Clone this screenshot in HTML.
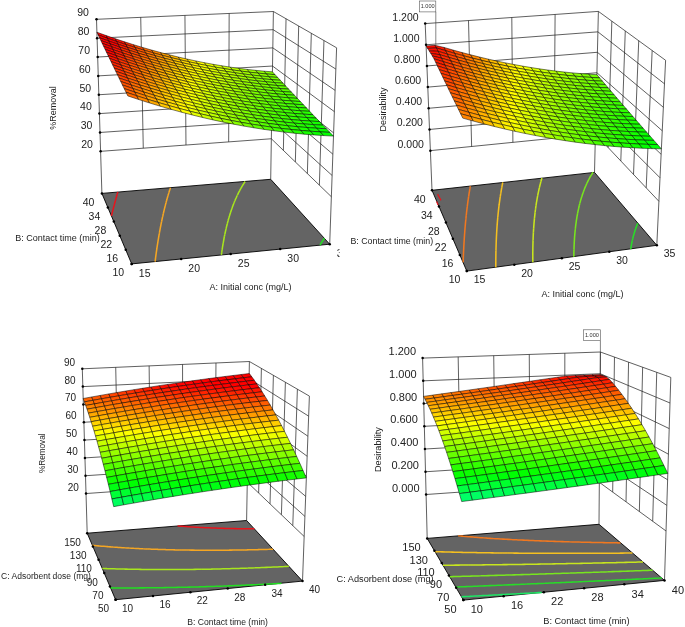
<!DOCTYPE html>
<html><head><meta charset="utf-8"><title>Response surface plots</title>
<style>html,body{margin:0;padding:0;background:#fff}svg{display:block;will-change:transform;-webkit-font-smoothing:antialiased}text{font-family:"Liberation Sans", sans-serif}</style></head>
<body><svg width="685" height="627" viewBox="0 0 685 627">
<rect width="685" height="627" fill="#fff"/>
<clipPath id="cp1"><rect x="0" y="0" width="339.5" height="314"/></clipPath><g clip-path="url(#cp1)"><path d="M100.6 151.33L271.35 138.75M271.35 138.75L331.37 196.74M100.01 132.47L271.64 120.57M271.64 120.57L332.11 175.46M99.43 113.6L271.94 102.39M271.94 102.39L332.86 154.18M98.84 94.74L272.23 84.21M272.23 84.21L333.61 132.91M98.26 75.88L272.52 66.04M272.52 66.04L334.36 111.63M97.67 57.02L272.81 47.86M272.81 47.86L335.1 90.35M97.09 38.16L273.11 29.68M273.11 29.68L335.85 69.08M96.5 19.3L273.4 11.5M273.4 11.5L336.6 47.8M101.9 193.4L96.5 19.3M143.28 148.18L140.72 17.35M185.97 145.04L184.95 15.4M228.66 141.89L229.17 13.45M270.7 179.3L273.4 11.5M329.7 244.2L336.6 47.8M319.36 185.14L323.96 40.54M307.36 173.54L311.32 33.28M295.36 161.94L298.68 26.02M283.36 150.35L286.04 18.76" fill="none" stroke="#222" stroke-width="0.72"/>
<polygon points="101.9,193.4 270.7,179.3 329.7,244.2 131.7,263.9" fill="#646464" stroke="#000" stroke-width="0.9"/>
<path d="M111.6 215.3L111.45 215.94M111.6 215.3L111.82 214.42M111.82 214.42L112.03 213.55M112.03 213.55L112.25 212.68M112.25 212.68L112.32 212.37M112.46 211.81L112.32 212.37M112.46 211.81L112.68 210.95M112.68 210.95L112.9 210.09M112.9 210.09L113.12 209.23M113.12 209.23L113.2 208.89M113.33 208.38L113.2 208.89M113.33 208.38L113.55 207.53M113.55 207.53L113.77 206.68M113.77 206.68L113.99 205.84M113.99 205.84L114.08 205.52M114.21 205L114.08 205.52M114.21 205L114.44 204.16M114.44 204.16L114.66 203.33M114.66 203.33L114.88 202.5M114.88 202.5L114.95 202.23M115.1 201.68L114.95 202.23M115.1 201.68L115.33 200.86M115.33 200.86L115.55 200.04M115.55 200.04L115.78 199.22M115.78 199.22L115.83 199.04M116 198.41L115.83 199.04M116 198.41L116.23 197.6M116.23 197.6L116.46 196.8M116.46 196.8L116.69 196M116.69 196L116.7 195.93M116.92 195.2L116.7 195.93M116.92 195.2L117.15 194.41M117.15 194.41L117.38 193.61M117.38 193.61L117.58 192.9M117.6 192.83L117.58 192.9M117.6 192.83L117.84 192.04" fill="none" stroke="#e8141c" stroke-width="1.55" stroke-linecap="butt"/>
<path d="M155.1 261.59L155.24 260.49M155.24 260.49L155.38 259.4M155.38 259.4L155.52 258.31M155.52 258.31L155.62 257.52M155.66 257.22L155.62 257.52M155.66 257.22L155.8 256.15M155.8 256.15L155.95 255.07M155.95 255.07L156.09 254M156.09 254L156.19 253.26M156.24 252.94L156.19 253.26M156.24 252.94L156.39 251.88M156.39 251.88L156.54 250.83M156.54 250.83L156.69 249.78M156.69 249.78L156.78 249.13M156.84 248.74L156.78 249.13M156.84 248.74L156.99 247.7M156.99 247.7L157.15 246.67M157.15 246.67L157.3 245.64M157.3 245.64L157.38 245.13M157.46 244.62L157.38 245.13M157.46 244.62L157.62 243.6M157.62 243.6L157.78 242.58M157.78 242.58L157.94 241.57M157.94 241.57L157.99 241.24M158.1 240.57L157.99 241.24M158.1 240.57L158.27 239.57M158.27 239.57L158.43 238.57M158.43 238.57L158.59 237.58M158.59 237.58L158.61 237.47M158.76 236.59L158.61 237.47M158.76 236.59L158.93 235.61M158.93 235.61L159.1 234.63M159.1 234.63L159.25 233.8M159.27 233.66L159.25 233.8M159.27 233.66L159.45 232.69M159.45 232.69L159.62 231.73M159.62 231.73L159.8 230.77M159.8 230.77L159.89 230.25M159.97 229.81L159.89 230.25M159.97 229.81L160.15 228.86M160.15 228.86L160.33 227.91M160.33 227.91L160.51 226.97M160.51 226.97L160.55 226.79M160.7 226.03L160.55 226.79M160.7 226.03L160.88 225.09M160.88 225.09L161.06 224.16M161.06 224.16L161.21 223.43M161.25 223.24L161.21 223.43M161.25 223.24L161.44 222.31M161.44 222.31L161.63 221.4M161.63 221.4L161.82 220.48M161.82 220.48L161.88 220.17M162.01 219.57L161.88 220.17M162.01 219.57L162.21 218.66M162.21 218.66L162.4 217.76M162.4 217.76L162.57 216.99M162.59 216.86L162.57 216.99M162.59 216.86L162.8 215.97M162.8 215.97L162.99 215.08M162.99 215.08L163.19 214.19M163.19 214.19L163.26 213.9M163.4 213.31L163.26 213.9M163.4 213.31L163.6 212.43M163.6 212.43L163.81 211.55M163.81 211.55L163.96 210.89M164.01 210.68L163.96 210.89M164.01 210.68L164.22 209.81M164.22 209.81L164.43 208.94M164.43 208.94L164.64 208.08M164.64 208.08L164.67 207.96M164.86 207.22L164.67 207.96M164.86 207.22L165.07 206.37M165.07 206.37L165.29 205.52M165.29 205.52L165.39 205.11M165.5 204.67L165.39 205.11M165.5 204.67L165.72 203.83M165.72 203.83L165.94 202.99M165.94 202.99L166.12 202.34M166.17 202.15L166.12 202.34M166.17 202.15L166.39 201.32M166.39 201.32L166.62 200.49M166.62 200.49L166.84 199.66M166.84 199.66L166.85 199.63M167.07 198.84L166.85 199.63M167.07 198.84L167.3 198.02M167.3 198.02L167.53 197.21M167.53 197.21L167.59 197M167.77 196.39L167.59 197M167.77 196.39L168.01 195.58M168.01 195.58L168.24 194.78M168.24 194.78L168.34 194.43M168.48 193.97L168.34 194.43M168.48 193.97L168.72 193.17M168.72 193.17L168.97 192.38M168.97 192.38L169.1 191.93M169.21 191.58L169.1 191.93M169.21 191.58L169.46 190.79M169.46 190.79L169.71 190.01M169.71 190.01L169.87 189.48M169.95 189.22L169.87 189.48M169.95 189.22L170.21 188.44M170.21 188.44L170.46 187.66" fill="none" stroke="#f5a623" stroke-width="1.55" stroke-linecap="butt"/>
<path d="M221.39 254.98L221.54 253.9M221.54 253.9L221.68 252.82M221.68 252.82L221.7 252.69M221.84 251.75L221.7 252.69M221.84 251.75L221.99 250.68M221.99 250.68L222.15 249.61M222.15 249.61L222.18 249.37M222.31 248.56L222.18 249.37M222.31 248.56L222.47 247.5M222.47 247.5L222.63 246.45M222.63 246.45L222.68 246.15M222.8 245.41L222.68 246.15M222.8 245.41L222.98 244.37M222.98 244.37L223.15 243.33M223.15 243.33L223.2 243.01M223.33 242.3L223.2 243.01M223.33 242.3L223.51 241.28M223.51 241.28L223.69 240.26M223.69 240.26L223.74 239.97M223.88 239.24L223.74 239.97M223.88 239.24L224.07 238.23M224.07 238.23L224.26 237.22M224.26 237.22L224.3 237M224.46 236.22L224.3 237M224.46 236.22L224.66 235.22M224.66 235.22L224.86 234.23M224.86 234.23L224.88 234.12M225.07 233.24L224.88 234.12M225.07 233.24L225.28 232.25M225.28 232.25L225.48 231.32M225.49 231.27L225.48 231.32M225.49 231.27L225.71 230.3M225.71 230.3L225.93 229.32M225.93 229.32L226.1 228.6M226.15 228.36L226.1 228.6M226.15 228.36L226.38 227.39M226.38 227.39L226.61 226.43M226.61 226.43L226.73 225.94M226.85 225.48L226.73 225.94M226.85 225.48L227.09 224.52M227.09 224.52L227.33 223.58M227.33 223.58L227.38 223.36M227.57 222.63L227.38 223.36M227.57 222.63L227.82 221.69M227.82 221.69L228.05 220.85M228.07 220.76L228.05 220.85M228.07 220.76L228.34 219.83M228.34 219.83L228.59 218.9M228.59 218.9L228.73 218.4M228.86 217.97L228.73 218.4M228.86 217.97L229.13 217.05M229.13 217.05L229.4 216.14M229.4 216.14L229.44 216.02M229.68 215.22L229.44 216.02M229.68 215.22L229.96 214.32M229.96 214.32L230.15 213.7M230.24 213.41L230.15 213.7M230.24 213.41L230.54 212.51M230.54 212.51L230.83 211.61M230.83 211.61L230.89 211.43M231.13 210.72L230.89 211.43M231.13 210.72L231.43 209.83M231.43 209.83L231.63 209.23M231.74 208.94L231.63 209.23M231.74 208.94L232.05 208.06M232.05 208.06L232.37 207.18M232.37 207.18L232.4 207.09M232.69 206.3L232.4 207.09M232.69 206.3L233.02 205.42M233.02 205.42L233.18 205M233.35 204.55L233.18 205M233.35 204.55L233.69 203.69M233.69 203.69L233.97 202.96M234.03 202.83L233.97 202.96M234.03 202.83L234.38 201.97M234.38 201.97L234.73 201.11M234.73 201.11L234.78 200.97M235.09 200.26L234.78 200.97M235.09 200.26L235.45 199.4M235.45 199.4L235.61 199.04M235.82 198.56L235.61 199.04M235.82 198.56L236.2 197.71M236.2 197.71L236.44 197.15M236.58 196.87L236.44 197.15M236.58 196.87L236.96 196.04M236.96 196.04L237.3 195.32M237.35 195.2L237.3 195.32M237.35 195.2L237.76 194.37M237.76 194.37L238.16 193.54M238.16 193.54L238.16 193.53M238.57 192.72L238.16 193.53M238.57 192.72L238.99 191.89M238.99 191.89L239.05 191.78M239.42 191.07L239.05 191.78M239.42 191.07L239.85 190.26M239.85 190.26L239.94 190.08M240.29 189.44L239.94 190.08M240.29 189.44L240.74 188.63M240.74 188.63L240.85 188.42M241.19 187.82L240.85 188.42M241.19 187.82L241.65 187.02M241.65 187.02L241.77 186.81M242.13 186.21L241.77 186.81M242.13 186.21L242.6 185.41M242.6 185.41L242.71 185.23M243.09 184.62L242.71 185.23M243.09 184.62L243.59 183.82M243.59 183.82L243.66 183.7M244.1 183.03L243.66 183.7M244.1 183.03L244.6 182.24M244.6 182.24L244.63 182.2M245.13 181.45L244.63 182.2" fill="none" stroke="#a8e61d" stroke-width="1.55" stroke-linecap="butt"/>
<path d="M319.97 245.16L320.1 244.94M320.62 244.05L320.1 244.94M320.62 244.05L321.13 243.2M321.28 242.94L321.13 243.2M321.28 242.94L321.97 241.84M321.97 241.84L322.18 241.51M322.69 240.74L322.18 241.51M322.69 240.74L323.27 239.88M323.43 239.64L323.27 239.88M323.43 239.64L324.2 238.55M324.2 238.55L324.38 238.3" fill="none" stroke="#22dd22" stroke-width="1.55" stroke-linecap="butt"/>
<g stroke="#000" stroke-opacity="1" stroke-width="0.5" stroke-linejoin="round"><polygon points="98.19,34.93 107.53,38.3 106.15,35.55 96.88,32.18" fill="#ff0000"/><polygon points="107.53,38.3 116.81,41.52 115.36,38.75 106.15,35.55" fill="#ff0000"/><polygon points="116.81,41.52 126.04,44.58 124.52,41.81 115.36,38.75" fill="#ff1100"/><polygon points="126.04,44.58 135.2,47.49 133.61,44.71 124.52,41.81" fill="#ff3000"/><polygon points="135.2,47.49 144.31,50.26 142.65,47.46 133.61,44.71" fill="#ff4e00"/><polygon points="144.31,50.26 153.36,52.87 151.63,50.07 142.65,47.46" fill="#ff6a00"/><polygon points="153.36,52.87 162.36,55.33 160.57,52.53 151.63,50.07" fill="#ff8600"/><polygon points="162.36,55.33 171.3,57.65 169.45,54.85 160.57,52.53" fill="#ffa000"/><polygon points="171.3,57.65 180.2,59.83 178.28,57.02 169.45,54.85" fill="#ffb900"/><polygon points="180.2,59.83 189.04,61.86 187.06,59.05 178.28,57.02" fill="#ffd100"/><polygon points="189.04,61.86 197.84,63.76 195.79,60.94 187.06,59.05" fill="#ffe700"/><polygon points="197.84,63.76 206.59,65.51 204.48,62.69 195.79,60.94" fill="#fffc00"/><polygon points="206.59,65.51 215.29,67.12 213.12,64.31 204.48,62.69" fill="#eeff00"/><polygon points="215.29,67.12 223.95,68.6 221.72,65.78 213.12,64.31" fill="#dbff00"/><polygon points="223.95,68.6 232.57,69.94 230.27,67.13 221.72,65.78" fill="#caff00"/><polygon points="232.57,69.94 241.15,71.14 238.79,68.33 230.27,67.13" fill="#baff00"/><polygon points="241.15,71.14 249.68,72.21 247.26,69.41 238.79,68.33" fill="#abff00"/><polygon points="249.68,72.21 258.18,73.15 255.69,70.35 247.26,69.41" fill="#9dff00"/><polygon points="258.18,73.15 266.63,73.96 264.09,71.16 255.69,70.35" fill="#90ff00"/><polygon points="266.63,73.96 275.05,74.63 272.45,71.85 264.09,71.16" fill="#85ff00"/><polygon points="99.52,37.71 108.93,41.09 107.53,38.3 98.19,34.93" fill="#ff0000"/><polygon points="108.93,41.09 118.29,44.32 116.81,41.52 107.53,38.3" fill="#ff0000"/><polygon points="118.29,44.32 127.58,47.4 126.04,44.58 116.81,41.52" fill="#ff1900"/><polygon points="127.58,47.4 136.81,50.32 135.2,47.49 126.04,44.58" fill="#ff3800"/><polygon points="136.81,50.32 145.99,53.09 144.31,50.26 135.2,47.49" fill="#ff5600"/><polygon points="145.99,53.09 155.11,55.71 153.36,52.87 144.31,50.26" fill="#ff7300"/><polygon points="155.11,55.71 164.17,58.18 162.36,55.33 153.36,52.87" fill="#ff8e00"/><polygon points="164.17,58.18 173.19,60.5 171.3,57.65 162.36,55.33" fill="#ffa800"/><polygon points="173.19,60.5 182.15,62.68 180.2,59.83 171.3,57.65" fill="#ffc100"/><polygon points="182.15,62.68 191.06,64.72 189.04,61.86 180.2,59.83" fill="#ffd900"/><polygon points="191.06,64.72 199.92,66.61 197.84,63.76 189.04,61.86" fill="#ffef00"/><polygon points="199.92,66.61 208.73,68.36 206.59,65.51 197.84,63.76" fill="#faff00"/><polygon points="208.73,68.36 217.5,69.98 215.29,67.12 206.59,65.51" fill="#e6ff00"/><polygon points="217.5,69.98 226.23,71.45 223.95,68.6 215.29,67.12" fill="#d3ff00"/><polygon points="226.23,71.45 234.91,72.79 232.57,69.94 223.95,68.6" fill="#c2ff00"/><polygon points="234.91,72.79 243.54,73.99 241.15,71.14 232.57,69.94" fill="#b2ff00"/><polygon points="243.54,73.99 252.14,75.06 249.68,72.21 241.15,71.14" fill="#a3ff00"/><polygon points="252.14,75.06 260.7,75.99 258.18,73.15 249.68,72.21" fill="#95ff00"/><polygon points="260.7,75.99 269.21,76.79 266.63,73.96 258.18,73.15" fill="#89ff00"/><polygon points="269.21,76.79 277.69,77.46 275.05,74.63 266.63,73.96" fill="#7dff00"/><polygon points="100.87,40.53 110.36,43.93 108.93,41.09 99.52,37.71" fill="#ff0000"/><polygon points="110.36,43.93 119.78,47.17 118.29,44.32 108.93,41.09" fill="#ff0200"/><polygon points="119.78,47.17 129.15,50.25 127.58,47.4 118.29,44.32" fill="#ff2200"/><polygon points="129.15,50.25 138.45,53.18 136.81,50.32 127.58,47.4" fill="#ff4100"/><polygon points="138.45,53.18 147.7,55.96 145.99,53.09 136.81,50.32" fill="#ff5e00"/><polygon points="147.7,55.96 156.89,58.59 155.11,55.71 145.99,53.09" fill="#ff7b00"/><polygon points="156.89,58.59 166.02,61.06 164.17,58.18 155.11,55.71" fill="#ff9600"/><polygon points="166.02,61.06 175.1,63.39 173.19,60.5 164.17,58.18" fill="#ffb000"/><polygon points="175.1,63.39 184.13,65.58 182.15,62.68 173.19,60.5" fill="#ffc900"/><polygon points="184.13,65.58 193.11,67.61 191.06,64.72 182.15,62.68" fill="#ffe100"/><polygon points="193.11,67.61 202.03,69.51 199.92,66.61 191.06,64.72" fill="#fff700"/><polygon points="202.03,69.51 210.91,71.26 208.73,68.36 199.92,66.61" fill="#f2ff00"/><polygon points="210.91,71.26 219.75,72.87 217.5,69.98 208.73,68.36" fill="#deff00"/><polygon points="219.75,72.87 228.53,74.35 226.23,71.45 217.5,69.98" fill="#ccff00"/><polygon points="228.53,74.35 237.28,75.68 234.91,72.79 226.23,71.45" fill="#bbff00"/><polygon points="237.28,75.68 245.98,76.88 243.54,73.99 234.91,72.79" fill="#aaff00"/><polygon points="245.98,76.88 254.64,77.94 252.14,75.06 243.54,73.99" fill="#9cff00"/><polygon points="254.64,77.94 263.26,78.87 260.7,75.99 252.14,75.06" fill="#8eff00"/><polygon points="263.26,78.87 271.83,79.66 269.21,76.79 260.7,75.99" fill="#81ff00"/><polygon points="271.83,79.66 280.38,80.32 277.69,77.46 269.21,76.79" fill="#76ff00"/><polygon points="102.24,43.4 111.81,46.81 110.36,43.93 100.87,40.53" fill="#ff0000"/><polygon points="111.81,46.81 121.31,50.06 119.78,47.17 110.36,43.93" fill="#ff0a00"/><polygon points="121.31,50.06 130.74,53.15 129.15,50.25 119.78,47.17" fill="#ff2a00"/><polygon points="130.74,53.15 140.12,56.09 138.45,53.18 129.15,50.25" fill="#ff4900"/><polygon points="140.12,56.09 149.44,58.88 147.7,55.96 138.45,53.18" fill="#ff6700"/><polygon points="149.44,58.88 158.7,61.51 156.89,58.59 147.7,55.96" fill="#ff8300"/><polygon points="158.7,61.51 167.9,63.99 166.02,61.06 156.89,58.59" fill="#ff9e00"/><polygon points="167.9,63.99 177.05,66.33 175.1,63.39 166.02,61.06" fill="#ffb800"/><polygon points="177.05,66.33 186.15,68.51 184.13,65.58 175.1,63.39" fill="#ffd100"/><polygon points="186.15,68.51 195.19,70.55 193.11,67.61 184.13,65.58" fill="#ffe900"/><polygon points="195.19,70.55 204.18,72.45 202.03,69.51 193.11,67.61" fill="#ffff00"/><polygon points="204.18,72.45 213.13,74.2 210.91,71.26 202.03,69.51" fill="#eaff00"/><polygon points="213.13,74.2 222.03,75.81 219.75,72.87 210.91,71.26" fill="#d7ff00"/><polygon points="222.03,75.81 230.88,77.28 228.53,74.35 219.75,72.87" fill="#c4ff00"/><polygon points="230.88,77.28 239.69,78.61 237.28,75.68 228.53,74.35" fill="#b3ff00"/><polygon points="239.69,78.61 248.45,79.81 245.98,76.88 237.28,75.68" fill="#a3ff00"/><polygon points="248.45,79.81 257.17,80.86 254.64,77.94 245.98,76.88" fill="#94ff00"/><polygon points="257.17,80.86 265.86,81.78 263.26,78.87 254.64,77.94" fill="#86ff00"/><polygon points="265.86,81.78 274.5,82.57 271.83,79.66 263.26,78.87" fill="#7aff00"/><polygon points="274.5,82.57 283.1,83.22 280.38,80.32 271.83,79.66" fill="#6fff00"/><polygon points="103.64,46.3 113.28,49.73 111.81,46.81 102.24,43.4" fill="#ff0000"/><polygon points="113.28,49.73 122.85,52.99 121.31,50.06 111.81,46.81" fill="#ff1300"/><polygon points="122.85,52.99 132.36,56.1 130.74,53.15 121.31,50.06" fill="#ff3300"/><polygon points="132.36,56.1 141.81,59.04 140.12,56.09 130.74,53.15" fill="#ff5100"/><polygon points="141.81,59.04 151.2,61.84 149.44,58.88 140.12,56.09" fill="#ff6f00"/><polygon points="151.2,61.84 160.53,64.48 158.7,61.51 149.44,58.88" fill="#ff8b00"/><polygon points="160.53,64.48 169.81,66.96 167.9,63.99 158.7,61.51" fill="#ffa600"/><polygon points="169.81,66.96 179.03,69.3 177.05,66.33 167.9,63.99" fill="#ffc000"/><polygon points="179.03,69.3 188.19,71.49 186.15,68.51 177.05,66.33" fill="#ffd900"/><polygon points="188.19,71.49 197.31,73.53 195.19,70.55 186.15,68.51" fill="#fff100"/><polygon points="197.31,73.53 206.37,75.43 204.18,72.45 195.19,70.55" fill="#f7ff00"/><polygon points="206.37,75.43 215.38,77.18 213.13,74.2 204.18,72.45" fill="#e2ff00"/><polygon points="215.38,77.18 224.35,78.79 222.03,75.81 213.13,74.2" fill="#cfff00"/><polygon points="224.35,78.79 233.27,80.26 230.88,77.28 222.03,75.81" fill="#bdff00"/><polygon points="233.27,80.26 242.14,81.59 239.69,78.61 230.88,77.28" fill="#abff00"/><polygon points="242.14,81.59 250.97,82.78 248.45,79.81 239.69,78.61" fill="#9cff00"/><polygon points="250.97,82.78 259.75,83.83 257.17,80.86 248.45,79.81" fill="#8dff00"/><polygon points="259.75,83.83 268.5,84.74 265.86,81.78 257.17,80.86" fill="#7fff00"/><polygon points="268.5,84.74 277.2,85.52 274.5,82.57 265.86,81.78" fill="#73ff00"/><polygon points="277.2,85.52 285.87,86.17 283.1,83.22 274.5,82.57" fill="#67ff00"/><polygon points="105.06,49.26 114.78,52.69 113.28,49.73 103.64,46.3" fill="#ff0000"/><polygon points="114.78,52.69 124.43,55.97 122.85,52.99 113.28,49.73" fill="#ff1b00"/><polygon points="124.43,55.97 134.01,59.08 132.36,56.1 122.85,52.99" fill="#ff3b00"/><polygon points="134.01,59.08 143.54,62.04 141.81,59.04 132.36,56.1" fill="#ff5a00"/><polygon points="143.54,62.04 153,64.84 151.2,61.84 141.81,59.04" fill="#ff7700"/><polygon points="153,64.84 162.4,67.49 160.53,64.48 151.2,61.84" fill="#ff9300"/><polygon points="162.4,67.49 171.75,69.98 169.81,66.96 160.53,64.48" fill="#ffaf00"/><polygon points="171.75,69.98 181.04,72.32 179.03,69.3 169.81,66.96" fill="#ffc800"/><polygon points="181.04,72.32 190.28,74.51 188.19,71.49 179.03,69.3" fill="#ffe100"/><polygon points="190.28,74.51 199.46,76.56 197.31,73.53 188.19,71.49" fill="#fff900"/><polygon points="199.46,76.56 208.59,78.45 206.37,75.43 197.31,73.53" fill="#efff00"/><polygon points="208.59,78.45 217.67,80.21 215.38,77.18 206.37,75.43" fill="#dbff00"/><polygon points="217.67,80.21 226.7,81.82 224.35,78.79 215.38,77.18" fill="#c7ff00"/><polygon points="226.7,81.82 235.69,83.28 233.27,80.26 224.35,78.79" fill="#b5ff00"/><polygon points="235.69,83.28 244.63,84.61 242.14,81.59 233.27,80.26" fill="#a4ff00"/><polygon points="244.63,84.61 253.52,85.79 250.97,82.78 242.14,81.59" fill="#94ff00"/><polygon points="253.52,85.79 262.38,86.84 259.75,83.83 250.97,82.78" fill="#85ff00"/><polygon points="262.38,86.84 271.19,87.75 268.5,84.74 259.75,83.83" fill="#78ff00"/><polygon points="271.19,87.75 279.95,88.52 277.2,85.52 268.5,84.74" fill="#6bff00"/><polygon points="279.95,88.52 288.68,89.15 285.87,86.17 277.2,85.52" fill="#60ff00"/><polygon points="106.5,52.25 116.3,55.7 114.78,52.69 105.06,49.26" fill="#ff0200"/><polygon points="116.3,55.7 126.03,58.99 124.43,55.97 114.78,52.69" fill="#ff2300"/><polygon points="126.03,58.99 135.69,62.11 134.01,59.08 124.43,55.97" fill="#ff4300"/><polygon points="135.69,62.11 145.29,65.08 143.54,62.04 134.01,59.08" fill="#ff6200"/><polygon points="145.29,65.08 154.83,67.89 153,64.84 143.54,62.04" fill="#ff7f00"/><polygon points="154.83,67.89 164.3,70.54 162.4,67.49 153,64.84" fill="#ff9c00"/><polygon points="164.3,70.54 173.72,73.04 171.75,69.98 162.4,67.49" fill="#ffb700"/><polygon points="173.72,73.04 183.09,75.39 181.04,72.32 171.75,69.98" fill="#ffd000"/><polygon points="183.09,75.39 192.39,77.58 190.28,74.51 181.04,72.32" fill="#ffe900"/><polygon points="192.39,77.58 201.65,79.63 199.46,76.56 190.28,74.51" fill="#feff00"/><polygon points="201.65,79.63 210.85,81.52 208.59,78.45 199.46,76.56" fill="#e8ff00"/><polygon points="210.85,81.52 220,83.28 217.67,80.21 208.59,78.45" fill="#d3ff00"/><polygon points="220,83.28 229.1,84.88 226.7,81.82 217.67,80.21" fill="#c0ff00"/><polygon points="229.1,84.88 238.15,86.35 235.69,83.28 226.7,81.82" fill="#aeff00"/><polygon points="238.15,86.35 247.16,87.67 244.63,84.61 235.69,83.28" fill="#9dff00"/><polygon points="247.16,87.67 256.12,88.85 253.52,85.79 244.63,84.61" fill="#8dff00"/><polygon points="256.12,88.85 265.04,89.89 262.38,86.84 253.52,85.79" fill="#7eff00"/><polygon points="265.04,89.89 273.92,90.79 271.19,87.75 262.38,86.84" fill="#71ff00"/><polygon points="273.92,90.79 282.75,91.56 279.95,88.52 271.19,87.75" fill="#64ff00"/><polygon points="282.75,91.56 291.54,92.19 288.68,89.15 279.95,88.52" fill="#59ff00"/><polygon points="107.97,55.3 117.85,58.76 116.3,55.7 106.5,52.25" fill="#ff0b00"/><polygon points="117.85,58.76 127.65,62.06 126.03,58.99 116.3,55.7" fill="#ff2c00"/><polygon points="127.65,62.06 137.39,65.19 135.69,62.11 126.03,58.99" fill="#ff4b00"/><polygon points="137.39,65.19 147.07,68.17 145.29,65.08 135.69,62.11" fill="#ff6a00"/><polygon points="147.07,68.17 156.68,70.98 154.83,67.89 145.29,65.08" fill="#ff8700"/><polygon points="156.68,70.98 166.24,73.64 164.3,70.54 154.83,67.89" fill="#ffa400"/><polygon points="166.24,73.64 175.73,76.15 173.72,73.04 164.3,70.54" fill="#ffbf00"/><polygon points="175.73,76.15 185.17,78.5 183.09,75.39 173.72,73.04" fill="#ffd800"/><polygon points="185.17,78.5 194.55,80.69 192.39,77.58 183.09,75.39" fill="#fff100"/><polygon points="194.55,80.69 203.87,82.74 201.65,79.63 192.39,77.58" fill="#f6ff00"/><polygon points="203.87,82.74 213.14,84.64 210.85,81.52 201.65,79.63" fill="#e0ff00"/><polygon points="213.14,84.64 222.36,86.39 220,83.28 210.85,81.52" fill="#ccff00"/><polygon points="222.36,86.39 231.54,88 229.1,84.88 220,83.28" fill="#b8ff00"/><polygon points="231.54,88 240.66,89.46 238.15,86.35 229.1,84.88" fill="#a6ff00"/><polygon points="240.66,89.46 249.73,90.78 247.16,87.67 238.15,86.35" fill="#95ff00"/><polygon points="249.73,90.78 258.76,91.95 256.12,88.85 247.16,87.67" fill="#85ff00"/><polygon points="258.76,91.95 267.75,92.99 265.04,89.89 256.12,88.85" fill="#77ff00"/><polygon points="267.75,92.99 276.69,93.88 273.92,90.79 265.04,89.89" fill="#69ff00"/><polygon points="276.69,93.88 285.59,94.64 282.75,91.56 273.92,90.79" fill="#5dff00"/><polygon points="285.59,94.64 294.45,95.26 291.54,92.19 282.75,91.56" fill="#52ff00"/><polygon points="109.47,58.39 119.42,61.86 117.85,58.76 107.97,55.3" fill="#ff1300"/><polygon points="119.42,61.86 129.31,65.17 127.65,62.06 117.85,58.76" fill="#ff3400"/><polygon points="129.31,65.17 139.13,68.32 137.39,65.19 127.65,62.06" fill="#ff5400"/><polygon points="139.13,68.32 148.88,71.3 147.07,68.17 137.39,65.19" fill="#ff7200"/><polygon points="148.88,71.3 158.57,74.13 156.68,70.98 147.07,68.17" fill="#ff8f00"/><polygon points="158.57,74.13 168.2,76.79 166.24,73.64 156.68,70.98" fill="#ffac00"/><polygon points="168.2,76.79 177.77,79.3 175.73,76.15 166.24,73.64" fill="#ffc600"/><polygon points="177.77,79.3 187.28,81.66 185.17,78.5 175.73,76.15" fill="#ffe000"/><polygon points="187.28,81.66 196.74,83.86 194.55,80.69 185.17,78.5" fill="#fff900"/><polygon points="196.74,83.86 206.13,85.91 203.87,82.74 194.55,80.69" fill="#eeff00"/><polygon points="206.13,85.91 215.48,87.81 213.14,84.64 203.87,82.74" fill="#d9ff00"/><polygon points="215.48,87.81 224.77,89.56 222.36,86.39 213.14,84.64" fill="#c4ff00"/><polygon points="224.77,89.56 234.01,91.16 231.54,88 222.36,86.39" fill="#b1ff00"/><polygon points="234.01,91.16 243.21,92.62 240.66,89.46 231.54,88" fill="#9fff00"/><polygon points="243.21,92.62 252.35,93.93 249.73,90.78 240.66,89.46" fill="#8eff00"/><polygon points="252.35,93.93 261.45,95.1 258.76,91.95 249.73,90.78" fill="#7eff00"/><polygon points="261.45,95.1 270.5,96.13 267.75,92.99 258.76,91.95" fill="#70ff00"/><polygon points="270.5,96.13 279.51,97.02 276.69,93.88 267.75,92.99" fill="#62ff00"/><polygon points="279.51,97.02 288.48,97.77 285.59,94.64 276.69,93.88" fill="#56ff00"/><polygon points="288.48,97.77 297.41,98.38 294.45,95.26 285.59,94.64" fill="#4bff00"/><polygon points="110.99,61.53 121.03,65.02 119.42,61.86 109.47,58.39" fill="#ff1b00"/><polygon points="121.03,65.02 130.99,68.34 129.31,65.17 119.42,61.86" fill="#ff3c00"/><polygon points="130.99,68.34 140.89,71.49 139.13,68.32 129.31,65.17" fill="#ff5c00"/><polygon points="140.89,71.49 150.73,74.49 148.88,71.3 139.13,68.32" fill="#ff7a00"/><polygon points="150.73,74.49 160.5,77.32 158.57,74.13 148.88,71.3" fill="#ff9700"/><polygon points="160.5,77.32 170.2,79.99 168.2,76.79 158.57,74.13" fill="#ffb300"/><polygon points="170.2,79.99 179.85,82.5 177.77,79.3 168.2,76.79" fill="#ffce00"/><polygon points="179.85,82.5 189.44,84.86 187.28,81.66 177.77,79.3" fill="#ffe800"/><polygon points="189.44,84.86 198.96,87.07 196.74,83.86 187.28,81.66" fill="#feff00"/><polygon points="198.96,87.07 208.44,89.12 206.13,85.91 196.74,83.86" fill="#e7ff00"/><polygon points="208.44,89.12 217.85,91.02 215.48,87.81 206.13,85.91" fill="#d1ff00"/><polygon points="217.85,91.02 227.22,92.77 224.77,89.56 215.48,87.81" fill="#bdff00"/><polygon points="227.22,92.77 236.53,94.37 234.01,91.16 224.77,89.56" fill="#aaff00"/><polygon points="236.53,94.37 245.8,95.83 243.21,92.62 234.01,91.16" fill="#98ff00"/><polygon points="245.8,95.83 255.01,97.14 252.35,93.93 243.21,92.62" fill="#87ff00"/><polygon points="255.01,97.14 264.18,98.3 261.45,95.1 252.35,93.93" fill="#77ff00"/><polygon points="264.18,98.3 273.3,99.33 270.5,96.13 261.45,95.1" fill="#68ff00"/><polygon points="273.3,99.33 282.38,100.21 279.51,97.02 270.5,96.13" fill="#5bff00"/><polygon points="282.38,100.21 291.42,100.95 288.48,97.77 279.51,97.02" fill="#4fff00"/><polygon points="291.42,100.95 300.41,101.55 297.41,98.38 288.48,97.77" fill="#44ff00"/><polygon points="112.54,64.72 122.66,68.22 121.03,65.02 110.99,61.53" fill="#ff2300"/><polygon points="122.66,68.22 132.71,71.55 130.99,68.34 121.03,65.02" fill="#ff4400"/><polygon points="132.71,71.55 142.69,74.72 140.89,71.49 130.99,68.34" fill="#ff6400"/><polygon points="142.69,74.72 152.61,77.72 150.73,74.49 140.89,71.49" fill="#ff8200"/><polygon points="152.61,77.72 162.45,80.56 160.5,77.32 150.73,74.49" fill="#ff9f00"/><polygon points="162.45,80.56 172.24,83.24 170.2,79.99 160.5,77.32" fill="#ffbb00"/><polygon points="172.24,83.24 181.96,85.76 179.85,82.5 170.2,79.99" fill="#ffd600"/><polygon points="181.96,85.76 191.62,88.12 189.44,84.86 179.85,82.5" fill="#fff000"/><polygon points="191.62,88.12 201.23,90.33 198.96,87.07 189.44,84.86" fill="#f6ff00"/><polygon points="201.23,90.33 210.78,92.38 208.44,89.12 198.96,87.07" fill="#dfff00"/><polygon points="210.78,92.38 220.27,94.28 217.85,91.02 208.44,89.12" fill="#caff00"/><polygon points="220.27,94.28 229.71,96.03 227.22,92.77 217.85,91.02" fill="#b5ff00"/><polygon points="229.71,96.03 239.09,97.63 236.53,94.37 227.22,92.77" fill="#a2ff00"/><polygon points="239.09,97.63 248.43,99.08 245.8,95.83 236.53,94.37" fill="#90ff00"/><polygon points="248.43,99.08 257.72,100.39 255.01,97.14 245.8,95.83" fill="#7fff00"/><polygon points="257.72,100.39 266.96,101.55 264.18,98.3 255.01,97.14" fill="#70ff00"/><polygon points="266.96,101.55 276.15,102.57 273.3,99.33 264.18,98.3" fill="#61ff00"/><polygon points="276.15,102.57 285.3,103.44 282.38,100.21 273.3,99.33" fill="#54ff00"/><polygon points="285.3,103.44 294.4,104.17 291.42,100.95 282.38,100.21" fill="#48ff00"/><polygon points="294.4,104.17 303.47,104.77 300.41,101.55 291.42,100.95" fill="#3dff00"/><polygon points="114.11,67.96 124.32,71.47 122.66,68.22 112.54,64.72" fill="#ff2b00"/><polygon points="124.32,71.47 134.45,74.82 132.71,71.55 122.66,68.22" fill="#ff4c00"/><polygon points="134.45,74.82 144.52,78 142.69,74.72 132.71,71.55" fill="#ff6c00"/><polygon points="144.52,78 154.51,81.01 152.61,77.72 142.69,74.72" fill="#ff8a00"/><polygon points="154.51,81.01 164.44,83.85 162.45,80.56 152.61,77.72" fill="#ffa700"/><polygon points="164.44,83.85 174.31,86.54 172.24,83.24 162.45,80.56" fill="#ffc300"/><polygon points="174.31,86.54 184.11,89.06 181.96,85.76 172.24,83.24" fill="#ffde00"/><polygon points="184.11,89.06 193.85,91.43 191.62,88.12 181.96,85.76" fill="#fff800"/><polygon points="193.85,91.43 203.54,93.64 201.23,90.33 191.62,88.12" fill="#efff00"/><polygon points="203.54,93.64 213.16,95.69 210.78,92.38 201.23,90.33" fill="#d8ff00"/><polygon points="213.16,95.69 222.73,97.59 220.27,94.28 210.78,92.38" fill="#c2ff00"/><polygon points="222.73,97.59 232.24,99.34 229.71,96.03 220.27,94.28" fill="#aeff00"/><polygon points="232.24,99.34 241.7,100.94 239.09,97.63 229.71,96.03" fill="#9bff00"/><polygon points="241.7,100.94 251.11,102.39 248.43,99.08 239.09,97.63" fill="#89ff00"/><polygon points="251.11,102.39 260.47,103.69 257.72,100.39 248.43,99.08" fill="#78ff00"/><polygon points="260.47,103.69 269.78,104.85 266.96,101.55 257.72,100.39" fill="#69ff00"/><polygon points="269.78,104.85 279.05,105.86 276.15,102.57 266.96,101.55" fill="#5aff00"/><polygon points="279.05,105.86 288.27,106.72 285.3,103.44 276.15,102.57" fill="#4dff00"/><polygon points="288.27,106.72 297.44,107.45 294.4,104.17 285.3,103.44" fill="#41ff00"/><polygon points="297.44,107.45 306.58,108.03 303.47,104.77 294.4,104.17" fill="#36ff00"/><polygon points="115.72,71.25 126.01,74.78 124.32,71.47 114.11,67.96" fill="#ff3400"/><polygon points="126.01,74.78 136.23,78.14 134.45,74.82 124.32,71.47" fill="#ff5400"/><polygon points="136.23,78.14 146.38,81.33 144.52,78 134.45,74.82" fill="#ff7400"/><polygon points="146.38,81.33 156.46,84.35 154.51,81.01 144.52,78" fill="#ff9200"/><polygon points="156.46,84.35 166.47,87.2 164.44,83.85 154.51,81.01" fill="#ffaf00"/><polygon points="166.47,87.2 176.42,89.89 174.31,86.54 164.44,83.85" fill="#ffcb00"/><polygon points="176.42,89.89 186.3,92.42 184.11,89.06 174.31,86.54" fill="#ffe600"/><polygon points="186.3,92.42 196.12,94.79 193.85,91.43 184.11,89.06" fill="#ffff00"/><polygon points="196.12,94.79 205.88,97 203.54,93.64 193.85,91.43" fill="#e7ff00"/><polygon points="205.88,97 215.58,99.06 213.16,95.69 203.54,93.64" fill="#d0ff00"/><polygon points="215.58,99.06 225.23,100.96 222.73,97.59 213.16,95.69" fill="#bbff00"/><polygon points="225.23,100.96 234.82,102.71 232.24,99.34 222.73,97.59" fill="#a7ff00"/><polygon points="234.82,102.71 244.35,104.3 241.7,100.94 232.24,99.34" fill="#94ff00"/><polygon points="244.35,104.3 253.84,105.75 251.11,102.39 241.7,100.94" fill="#82ff00"/><polygon points="253.84,105.75 263.27,107.05 260.47,103.69 251.11,102.39" fill="#71ff00"/><polygon points="263.27,107.05 272.66,108.2 269.78,104.85 260.47,103.69" fill="#62ff00"/><polygon points="272.66,108.2 281.99,109.2 279.05,105.86 269.78,104.85" fill="#53ff00"/><polygon points="281.99,109.2 291.29,110.06 288.27,106.72 279.05,105.86" fill="#46ff00"/><polygon points="291.29,110.06 300.53,110.77 297.44,107.45 288.27,106.72" fill="#3aff00"/><polygon points="300.53,110.77 309.74,111.35 306.58,108.03 297.44,107.45" fill="#2fff00"/><polygon points="117.35,74.6 127.73,78.14 126.01,74.78 115.72,71.25" fill="#ff3c00"/><polygon points="127.73,78.14 138.04,81.51 136.23,78.14 126.01,74.78" fill="#ff5c00"/><polygon points="138.04,81.51 148.27,84.71 146.38,81.33 136.23,78.14" fill="#ff7c00"/><polygon points="148.27,84.71 158.44,87.74 156.46,84.35 146.38,81.33" fill="#ff9a00"/><polygon points="158.44,87.74 168.53,90.6 166.47,87.2 156.46,84.35" fill="#ffb700"/><polygon points="168.53,90.6 178.56,93.3 176.42,89.89 166.47,87.2" fill="#ffd300"/><polygon points="178.56,93.3 188.53,95.84 186.3,92.42 176.42,89.89" fill="#ffed00"/><polygon points="188.53,95.84 198.43,98.21 196.12,94.79 186.3,92.42" fill="#f7ff00"/><polygon points="198.43,98.21 208.27,100.42 205.88,97 196.12,94.79" fill="#e0ff00"/><polygon points="208.27,100.42 218.05,102.48 215.58,99.06 205.88,97" fill="#c9ff00"/><polygon points="218.05,102.48 227.77,104.38 225.23,100.96 215.58,99.06" fill="#b4ff00"/><polygon points="227.77,104.38 237.44,106.13 234.82,102.71 225.23,100.96" fill="#a0ff00"/><polygon points="237.44,106.13 247.05,107.72 244.35,104.3 234.82,102.71" fill="#8dff00"/><polygon points="247.05,107.72 256.61,109.16 253.84,105.75 244.35,104.3" fill="#7bff00"/><polygon points="256.61,109.16 266.12,110.46 263.27,107.05 253.84,105.75" fill="#6aff00"/><polygon points="266.12,110.46 275.58,111.6 272.66,108.2 263.27,107.05" fill="#5bff00"/><polygon points="275.58,111.6 284.99,112.6 281.99,109.2 272.66,108.2" fill="#4cff00"/><polygon points="284.99,112.6 294.36,113.45 291.29,110.06 281.99,109.2" fill="#3fff00"/><polygon points="294.36,113.45 303.68,114.15 300.53,110.77 291.29,110.06" fill="#33ff00"/><polygon points="303.68,114.15 312.95,114.72 309.74,111.35 300.53,110.77" fill="#28ff00"/><polygon points="119.01,78 129.49,81.56 127.73,78.14 117.35,74.6" fill="#ff4400"/><polygon points="129.49,81.56 139.88,84.94 138.04,81.51 127.73,78.14" fill="#ff6400"/><polygon points="139.88,84.94 150.2,88.15 148.27,84.71 138.04,81.51" fill="#ff8400"/><polygon points="150.2,88.15 160.45,91.19 158.44,87.74 148.27,84.71" fill="#ffa200"/><polygon points="160.45,91.19 170.63,94.06 168.53,90.6 158.44,87.74" fill="#ffbf00"/><polygon points="170.63,94.06 180.75,96.76 178.56,93.3 168.53,90.6" fill="#ffda00"/><polygon points="180.75,96.76 190.8,99.3 188.53,95.84 178.56,93.3" fill="#fff500"/><polygon points="190.8,99.3 200.78,101.68 198.43,98.21 188.53,95.84" fill="#f0ff00"/><polygon points="200.78,101.68 210.7,103.9 208.27,100.42 198.43,98.21" fill="#d8ff00"/><polygon points="210.7,103.9 220.56,105.96 218.05,102.48 208.27,100.42" fill="#c2ff00"/><polygon points="220.56,105.96 230.36,107.86 227.77,104.38 218.05,102.48" fill="#acff00"/><polygon points="230.36,107.86 240.11,109.6 237.44,106.13 227.77,104.38" fill="#98ff00"/><polygon points="240.11,109.6 249.8,111.19 247.05,107.72 237.44,106.13" fill="#85ff00"/><polygon points="249.8,111.19 259.44,112.63 256.61,109.16 247.05,107.72" fill="#74ff00"/><polygon points="259.44,112.63 269.02,113.92 266.12,110.46 256.61,109.16" fill="#63ff00"/><polygon points="269.02,113.92 278.56,115.06 275.58,111.6 266.12,110.46" fill="#54ff00"/><polygon points="278.56,115.06 288.05,116.05 284.99,112.6 275.58,111.6" fill="#45ff00"/><polygon points="288.05,116.05 297.48,116.89 294.36,113.45 284.99,112.6" fill="#38ff00"/><polygon points="297.48,116.89 306.88,117.59 303.68,114.15 294.36,113.45" fill="#2cff00"/><polygon points="306.88,117.59 316.23,118.14 312.95,114.72 303.68,114.15" fill="#22ff00"/><polygon points="120.71,81.47 131.27,85.04 129.49,81.56 119.01,78" fill="#ff4c00"/><polygon points="131.27,85.04 141.76,88.43 139.88,84.94 129.49,81.56" fill="#ff6c00"/><polygon points="141.76,88.43 152.17,91.65 150.2,88.15 139.88,84.94" fill="#ff8b00"/><polygon points="152.17,91.65 162.51,94.7 160.45,91.19 150.2,88.15" fill="#ffa900"/><polygon points="162.51,94.7 172.77,97.58 170.63,94.06 160.45,91.19" fill="#ffc600"/><polygon points="172.77,97.58 182.97,100.29 180.75,96.76 170.63,94.06" fill="#ffe200"/><polygon points="182.97,100.29 193.1,102.83 190.8,99.3 180.75,96.76" fill="#fffd00"/><polygon points="193.1,102.83 203.17,105.21 200.78,101.68 190.8,99.3" fill="#e9ff00"/><polygon points="203.17,105.21 213.18,107.43 210.7,103.9 200.78,101.68" fill="#d1ff00"/><polygon points="213.18,107.43 223.12,109.49 220.56,105.96 210.7,103.9" fill="#baff00"/><polygon points="223.12,109.49 233,111.39 230.36,107.86 220.56,105.96" fill="#a5ff00"/><polygon points="233,111.39 242.83,113.13 240.11,109.6 230.36,107.86" fill="#91ff00"/><polygon points="242.83,113.13 252.6,114.72 249.8,111.19 240.11,109.6" fill="#7eff00"/><polygon points="252.6,114.72 262.31,116.16 259.44,112.63 249.8,111.19" fill="#6dff00"/><polygon points="262.31,116.16 271.98,117.44 269.02,113.92 259.44,112.63" fill="#5cff00"/><polygon points="271.98,117.44 281.59,118.57 278.56,115.06 269.02,113.92" fill="#4dff00"/><polygon points="281.59,118.57 291.15,119.55 288.05,116.05 278.56,115.06" fill="#3eff00"/><polygon points="291.15,119.55 300.67,120.39 297.48,116.89 288.05,116.05" fill="#31ff00"/><polygon points="300.67,120.39 310.13,121.07 306.88,117.59 297.48,116.89" fill="#26ff00"/><polygon points="310.13,121.07 319.56,121.61 316.23,118.14 306.88,117.59" fill="#1bff00"/><polygon points="122.43,84.99 133.09,88.57 131.27,85.04 120.71,81.47" fill="#ff5300"/><polygon points="133.09,88.57 143.67,91.98 141.76,88.43 131.27,85.04" fill="#ff7400"/><polygon points="143.67,91.98 154.17,95.21 152.17,91.65 141.76,88.43" fill="#ff9300"/><polygon points="154.17,95.21 164.6,98.26 162.51,94.7 152.17,91.65" fill="#ffb100"/><polygon points="164.6,98.26 174.95,101.15 172.77,97.58 162.51,94.7" fill="#ffce00"/><polygon points="174.95,101.15 185.24,103.87 182.97,100.29 172.77,97.58" fill="#ffea00"/><polygon points="185.24,103.87 195.46,106.42 193.1,102.83 182.97,100.29" fill="#faff00"/><polygon points="195.46,106.42 205.61,108.8 203.17,105.21 193.1,102.83" fill="#e1ff00"/><polygon points="205.61,108.8 215.7,111.02 213.18,107.43 203.17,105.21" fill="#caff00"/><polygon points="215.7,111.02 225.72,113.08 223.12,109.49 213.18,107.43" fill="#b3ff00"/><polygon points="225.72,113.08 235.69,114.98 233,111.39 223.12,109.49" fill="#9eff00"/><polygon points="235.69,114.98 245.6,116.72 242.83,113.13 233,111.39" fill="#8aff00"/><polygon points="245.6,116.72 255.45,118.31 252.6,114.72 242.83,113.13" fill="#77ff00"/><polygon points="255.45,118.31 265.24,119.74 262.31,116.16 252.6,114.72" fill="#66ff00"/><polygon points="265.24,119.74 274.98,121.01 271.98,117.44 262.31,116.16" fill="#55ff00"/><polygon points="274.98,121.01 284.67,122.14 281.59,118.57 271.98,117.44" fill="#46ff00"/><polygon points="284.67,122.14 294.31,123.11 291.15,119.55 281.59,118.57" fill="#38ff00"/><polygon points="294.31,123.11 303.9,123.94 300.67,120.39 291.15,119.55" fill="#2bff00"/><polygon points="303.9,123.94 313.45,124.62 310.13,121.07 300.67,120.39" fill="#1fff00"/><polygon points="313.45,124.62 322.95,125.15 319.56,121.61 310.13,121.07" fill="#14ff00"/><polygon points="124.19,88.57 134.94,92.17 133.09,88.57 122.43,84.99" fill="#ff5b00"/><polygon points="134.94,92.17 145.61,95.58 143.67,91.98 133.09,88.57" fill="#ff7c00"/><polygon points="145.61,95.58 156.21,98.83 154.17,95.21 143.67,91.98" fill="#ff9b00"/><polygon points="156.21,98.83 166.73,101.89 164.6,98.26 154.17,95.21" fill="#ffb900"/><polygon points="166.73,101.89 177.17,104.79 174.95,101.15 164.6,98.26" fill="#ffd600"/><polygon points="177.17,104.79 187.55,107.51 185.24,103.87 174.95,101.15" fill="#fff100"/><polygon points="187.55,107.51 197.85,110.06 195.46,106.42 185.24,103.87" fill="#f3ff00"/><polygon points="197.85,110.06 208.09,112.45 205.61,108.8 195.46,106.42" fill="#daff00"/><polygon points="208.09,112.45 218.26,114.67 215.7,111.02 205.61,108.8" fill="#c2ff00"/><polygon points="218.26,114.67 228.37,116.73 225.72,113.08 215.7,111.02" fill="#acff00"/><polygon points="228.37,116.73 238.42,118.63 235.69,114.98 225.72,113.08" fill="#97ff00"/><polygon points="238.42,118.63 248.41,120.37 245.6,116.72 235.69,114.98" fill="#83ff00"/><polygon points="248.41,120.37 258.35,121.95 255.45,118.31 245.6,116.72" fill="#70ff00"/><polygon points="258.35,121.95 268.22,123.38 265.24,119.74 255.45,118.31" fill="#5fff00"/><polygon points="268.22,123.38 278.04,124.65 274.98,121.01 265.24,119.74" fill="#4eff00"/><polygon points="278.04,124.65 287.81,125.77 284.67,122.14 274.98,121.01" fill="#3fff00"/><polygon points="287.81,125.77 297.53,126.73 294.31,123.11 284.67,122.14" fill="#31ff00"/><polygon points="297.53,126.73 307.2,127.55 303.9,123.94 294.31,123.11" fill="#24ff00"/><polygon points="307.2,127.55 316.82,128.22 313.45,124.62 303.9,123.94" fill="#18ff00"/><polygon points="316.82,128.22 326.4,128.74 322.95,125.15 313.45,124.62" fill="#0eff00"/><polygon points="125.99,92.21 136.83,95.83 134.94,92.17 124.19,88.57" fill="#ff6300"/><polygon points="136.83,95.83 147.6,99.26 145.61,95.58 134.94,92.17" fill="#ff8300"/><polygon points="147.6,99.26 158.28,102.51 156.21,98.83 145.61,95.58" fill="#ffa300"/><polygon points="158.28,102.51 168.9,105.58 166.73,101.89 156.21,98.83" fill="#ffc100"/><polygon points="168.9,105.58 179.43,108.48 177.17,104.79 166.73,101.89" fill="#ffdd00"/><polygon points="179.43,108.48 189.9,111.21 187.55,107.51 177.17,104.79" fill="#fff900"/><polygon points="189.9,111.21 200.29,113.77 197.85,110.06 187.55,107.51" fill="#ebff00"/><polygon points="200.29,113.77 210.62,116.16 208.09,112.45 197.85,110.06" fill="#d3ff00"/><polygon points="210.62,116.16 220.88,118.39 218.26,114.67 208.09,112.45" fill="#bbff00"/><polygon points="220.88,118.39 231.07,120.45 228.37,116.73 218.26,114.67" fill="#a5ff00"/><polygon points="231.07,120.45 241.21,122.35 238.42,118.63 228.37,116.73" fill="#90ff00"/><polygon points="241.21,122.35 251.28,124.08 248.41,120.37 238.42,118.63" fill="#7cff00"/><polygon points="251.28,124.08 261.3,125.66 258.35,121.95 248.41,120.37" fill="#69ff00"/><polygon points="261.3,125.66 271.26,127.08 268.22,123.38 258.35,121.95" fill="#58ff00"/><polygon points="271.26,127.08 281.16,128.35 278.04,124.65 268.22,123.38" fill="#47ff00"/><polygon points="281.16,128.35 291.01,129.46 287.81,125.77 278.04,124.65" fill="#38ff00"/><polygon points="291.01,129.46 300.81,130.42 297.53,126.73 287.81,125.77" fill="#2aff00"/><polygon points="300.81,130.42 310.56,131.22 307.2,127.55 297.53,126.73" fill="#1dff00"/><polygon points="310.56,131.22 320.26,131.88 316.82,128.22 307.2,127.55" fill="#12ff00"/><polygon points="320.26,131.88 329.91,132.39 326.4,128.74 316.82,128.22" fill="#07ff00"/><polygon points="127.81,95.92 138.76,99.55 136.83,95.83 125.99,92.21" fill="#ff6b00"/><polygon points="138.76,99.55 149.62,102.99 147.6,99.26 136.83,95.83" fill="#ff8b00"/><polygon points="149.62,102.99 160.4,106.25 158.28,102.51 147.6,99.26" fill="#ffaa00"/><polygon points="160.4,106.25 171.11,109.34 168.9,105.58 158.28,102.51" fill="#ffc800"/><polygon points="171.11,109.34 181.74,112.25 179.43,108.48 168.9,105.58" fill="#ffe500"/><polygon points="181.74,112.25 192.29,114.98 189.9,111.21 179.43,108.48" fill="#feff00"/><polygon points="192.29,114.98 202.78,117.54 200.29,113.77 189.9,111.21" fill="#e4ff00"/><polygon points="202.78,117.54 213.19,119.94 210.62,116.16 200.29,113.77" fill="#cbff00"/><polygon points="213.19,119.94 223.54,122.17 220.88,118.39 210.62,116.16" fill="#b4ff00"/><polygon points="223.54,122.17 233.83,124.23 231.07,120.45 220.88,118.39" fill="#9eff00"/><polygon points="233.83,124.23 244.05,126.12 241.21,122.35 231.07,120.45" fill="#89ff00"/><polygon points="244.05,126.12 254.21,127.86 251.28,124.08 241.21,122.35" fill="#75ff00"/><polygon points="254.21,127.86 264.31,129.43 261.3,125.66 251.28,124.08" fill="#62ff00"/><polygon points="264.31,129.43 274.35,130.85 271.26,127.08 261.3,125.66" fill="#51ff00"/><polygon points="274.35,130.85 284.34,132.11 281.16,128.35 271.26,127.08" fill="#40ff00"/><polygon points="284.34,132.11 294.27,133.21 291.01,129.46 281.16,128.35" fill="#31ff00"/><polygon points="294.27,133.21 304.15,134.16 300.81,130.42 291.01,129.46" fill="#23ff00"/><polygon points="304.15,134.16 313.98,134.96 310.56,131.22 300.81,130.42" fill="#17ff00"/><polygon points="313.98,134.96 323.76,135.6 320.26,131.88 310.56,131.22" fill="#0bff00"/><polygon points="323.76,135.6 333.49,136.1 329.91,132.39 320.26,131.88" fill="#01ff00"/></g>
<circle cx="131.7" cy="263.9" r="1.25" fill="#000"/>
<circle cx="181.2" cy="258.97" r="1.25" fill="#000"/>
<circle cx="230.7" cy="254.05" r="1.25" fill="#000"/>
<circle cx="280.2" cy="249.12" r="1.25" fill="#000"/>
<circle cx="329.7" cy="244.2" r="1.25" fill="#000"/>
<circle cx="131.7" cy="263.9" r="1.25" fill="#000"/>
<circle cx="125.74" cy="249.8" r="1.25" fill="#000"/>
<circle cx="119.78" cy="235.7" r="1.25" fill="#000"/>
<circle cx="113.82" cy="221.6" r="1.25" fill="#000"/>
<circle cx="107.86" cy="207.5" r="1.25" fill="#000"/>
<circle cx="101.9" cy="193.4" r="1.25" fill="#000"/>
<circle cx="100.6" cy="151.33" r="1.25" fill="#000"/>
<circle cx="100.01" cy="132.47" r="1.25" fill="#000"/>
<circle cx="99.43" cy="113.6" r="1.25" fill="#000"/>
<circle cx="98.84" cy="94.74" r="1.25" fill="#000"/>
<circle cx="98.26" cy="75.88" r="1.25" fill="#000"/>
<circle cx="97.67" cy="57.02" r="1.25" fill="#000"/>
<circle cx="97.09" cy="38.16" r="1.25" fill="#000"/>
<circle cx="96.5" cy="19.3" r="1.25" fill="#000"/>
<g font-size="10.5" fill="#222"><text x="87.1" y="148.11" text-anchor="middle">20</text><text x="86.51" y="129.25" text-anchor="middle">30</text><text x="85.93" y="110.38" text-anchor="middle">40</text><text x="85.34" y="91.52" text-anchor="middle">50</text><text x="84.76" y="72.66" text-anchor="middle">60</text><text x="84.17" y="53.8" text-anchor="middle">70</text><text x="83.59" y="34.94" text-anchor="middle">80</text><text x="83" y="16.08" text-anchor="middle">90</text><text x="144.7" y="277.08" text-anchor="middle">15</text><text x="194.2" y="272.15" text-anchor="middle">20</text><text x="243.7" y="267.23" text-anchor="middle">25</text><text x="293.2" y="262.3" text-anchor="middle">30</text><text x="342.7" y="257.38" text-anchor="middle">35</text><text x="118.3" y="276.28" text-anchor="middle">10</text><text x="112.34" y="262.18" text-anchor="middle">16</text><text x="106.38" y="248.08" text-anchor="middle">22</text><text x="100.42" y="233.98" text-anchor="middle">28</text><text x="94.46" y="219.88" text-anchor="middle">34</text><text x="88.5" y="205.78" text-anchor="middle">40</text></g>
<text x="56.3" y="108" font-size="9" fill="#222" text-anchor="middle" transform="rotate(-90 56.3 108)">%Removal</text>
<text x="57.6" y="241.2" font-size="9" fill="#222" text-anchor="middle">B: Contact time (min)</text>
<text x="250.5" y="289.5" font-size="9" fill="#222" text-anchor="middle">A: Initial conc (mg/L)</text></g>
<path d="M430.38 150.63L595.43 134.08M595.43 134.08L658.89 201.27M429.52 129.46L595.92 113.64M595.92 113.64L660.01 177.78M428.65 108.29L596.42 93.19M596.42 93.19L661.13 154.28M427.79 87.11L596.91 72.74M596.91 72.74L662.25 130.79M426.93 65.94L597.41 52.29M597.41 52.29L663.36 107.29M426.06 44.77L597.9 31.85M597.9 31.85L664.48 83.8M425.2 23.6L598.4 11.4M598.4 11.4L665.6 60.3M432 190.3L425.2 23.6M471.64 146.49L468.5 20.55M512.9 142.36L511.8 17.5M554.17 138.22L555.1 14.45M594.5 172.4L598.4 11.4M656.8 245.3L665.6 60.3M646.2 187.84L652.16 50.52M633.51 174.4L638.72 40.74M620.81 160.96L625.28 30.96M608.12 147.52L611.84 21.18" fill="none" stroke="#222" stroke-width="0.72"/>
<polygon points="432,190.3 594.5,172.4 656.8,245.3 466.8,271.1" fill="#646464" stroke="#000" stroke-width="0.9"/>
<path d="M463.19 261.6L463.16 262.34M463.19 261.6L463.23 260.38M463.23 260.38L463.27 259.17M463.27 259.17L463.31 257.96M463.31 257.96L463.35 256.87M463.36 256.76L463.35 256.87M463.36 256.76L463.4 255.56M463.4 255.56L463.45 254.37M463.45 254.37L463.5 253.18M463.5 253.18L463.55 252M463.55 252L463.57 251.59M463.61 250.82L463.57 251.59M463.61 250.82L463.66 249.65M463.66 249.65L463.72 248.49M463.72 248.49L463.78 247.33M463.78 247.33L463.82 246.5M463.83 246.18L463.82 246.5M463.83 246.18L463.9 245.03M463.9 245.03L463.96 243.88M463.96 243.88L464.03 242.74M464.03 242.74L464.09 241.61M464.09 241.61L464.09 241.59M464.16 240.48L464.09 241.59M464.16 240.48L464.23 239.35M464.23 239.35L464.3 238.23M464.3 238.23L464.37 237.12M464.37 237.12L464.39 236.83M464.45 236.01L464.39 236.83M464.45 236.01L464.53 234.91M464.53 234.91L464.61 233.81M464.61 233.81L464.69 232.71M464.69 232.71L464.72 232.24M464.77 231.62L464.72 232.24M464.77 231.62L464.85 230.53M464.85 230.53L464.94 229.45M464.94 229.45L465.02 228.38M465.02 228.38L465.07 227.8M465.11 227.31L465.07 227.8M465.11 227.31L465.2 226.24M465.2 226.24L465.29 225.18M465.29 225.18L465.39 224.12M465.39 224.12L465.44 223.49M465.48 223.06L465.44 223.49M465.48 223.06L465.58 222.01M465.58 222.01L465.68 220.97M465.68 220.97L465.78 219.93M465.78 219.93L465.83 219.33M465.88 218.89L465.83 219.33M465.88 218.89L465.98 217.86M465.98 217.86L466.09 216.83M466.09 216.83L466.19 215.81M466.19 215.81L466.25 215.29M466.3 214.79L466.25 215.29M466.3 214.79L466.41 213.78M466.41 213.78L466.52 212.77M466.52 212.77L466.64 211.76M466.64 211.76L466.68 211.38M466.75 210.76L466.68 211.38M466.75 210.76L466.87 209.76M466.87 209.76L466.99 208.77M466.99 208.77L467.11 207.78M467.11 207.78L467.13 207.58M467.23 206.79L467.13 207.58M467.23 206.79L467.35 205.81M467.35 205.81L467.48 204.83M467.48 204.83L467.6 203.89M467.6 203.86L467.6 203.89M467.6 203.86L467.73 202.89M467.73 202.89L467.86 201.92M467.86 201.92L468 200.96M468 200.96L468.08 200.32M468.13 200L468.08 200.32M468.13 200L468.27 199.05M468.27 199.05L468.4 198.1M468.4 198.1L468.54 197.15M468.54 197.15L468.58 196.84M468.68 196.21L468.58 196.84M468.68 196.21L468.82 195.27M468.82 195.27L468.97 194.33M468.97 194.33L469.1 193.47M469.11 193.4L469.1 193.47M469.11 193.4L469.26 192.47M469.26 192.47L469.41 191.55M469.41 191.55L469.56 190.63M469.56 190.63L469.63 190.18M469.71 189.71L469.63 190.18M469.71 189.71L469.87 188.8M469.87 188.8L470.02 187.89M470.02 187.89L470.18 186.99M470.18 186.98L470.18 186.99M470.18 186.98L470.34 186.08" fill="none" stroke="#f07820" stroke-width="1.55" stroke-linecap="butt"/>
<path d="M495.8 267.14L495.8 265.89M495.8 265.89L495.8 265.35M495.8 264.65L495.8 265.35M495.8 264.65L495.8 263.41M495.8 263.41L495.81 262.17M495.81 262.17L495.81 260.95M495.81 260.95L495.82 260.18M495.82 259.72L495.82 260.18M495.82 259.72L495.83 258.51M495.83 258.51L495.85 257.3M495.85 257.3L495.86 256.09M495.86 256.09L495.87 255.18M495.88 254.89L495.87 255.18M495.88 254.89L495.9 253.7M495.9 253.7L495.92 252.51M495.92 252.51L495.94 251.32M495.94 251.32L495.96 250.36M495.97 250.14L495.96 250.36M495.97 250.14L496 248.97M496 248.97L496.03 247.8M496.03 247.8L496.06 246.64M496.06 246.64L496.09 245.7M496.1 245.48L496.09 245.7M496.1 245.48L496.14 244.33M496.14 244.33L496.18 243.18M496.18 243.18L496.22 242.04M496.22 242.04L496.25 241.2M496.26 240.9L496.25 241.2M496.26 240.9L496.31 239.77M496.31 239.77L496.36 238.64M496.36 238.64L496.41 237.52M496.41 237.52L496.44 236.84M496.46 236.4L496.44 236.84M496.46 236.4L496.52 235.28M496.52 235.28L496.58 234.18M496.58 234.18L496.64 233.07M496.64 233.07L496.66 232.62M496.7 231.97L496.66 232.62M496.7 231.97L496.77 230.88M496.77 230.88L496.83 229.79M496.83 229.79L496.9 228.71M496.9 228.71L496.91 228.54M496.97 227.63L496.91 228.54M496.97 227.63L497.05 226.55M497.05 226.55L497.12 225.48M497.12 225.48L497.19 224.58M497.2 224.41L497.19 224.58M497.2 224.41L497.28 223.35M497.28 223.35L497.36 222.29M497.36 222.29L497.45 221.24M497.45 221.24L497.49 220.74M497.54 220.19L497.49 220.74M497.54 220.19L497.63 219.15M497.63 219.15L497.72 218.11M497.72 218.11L497.81 217.07M497.81 217.07L497.81 217.01M497.91 216.04L497.81 217.01M497.91 216.04L498.01 215.01M498.01 215.01L498.11 213.99M498.11 213.99L498.16 213.4M498.21 212.97L498.16 213.4M498.21 212.97L498.32 211.96M498.32 211.96L498.42 210.95M498.42 210.95L498.53 209.94M498.53 209.94L498.54 209.89M498.64 208.94L498.54 209.89M498.64 208.94L498.76 207.94M498.76 207.94L498.87 206.95M498.87 206.95L498.93 206.49M498.99 205.96L498.93 206.49M498.99 205.96L499.12 204.97M499.12 204.97L499.24 203.99M499.24 203.99L499.34 203.18M499.36 203.01L499.34 203.18M499.36 203.01L499.5 202.04M499.5 202.04L499.63 201.07M499.63 201.07L499.76 200.1M499.76 200.1L499.78 199.96M499.89 199.14L499.78 199.96M499.89 199.14L500.03 198.18M500.03 198.18L500.17 197.22M500.17 197.22L500.23 196.83M500.32 196.27L500.23 196.83M500.32 196.27L500.46 195.32M500.46 195.32L500.61 194.38M500.61 194.38L500.7 193.79M500.76 193.44L500.7 193.79M500.76 193.44L500.91 192.5M500.91 192.5L501.07 191.57M501.07 191.57L501.19 190.83M501.22 190.64L501.19 190.83M501.22 190.64L501.39 189.72M501.39 189.72L501.55 188.79M501.55 188.79L501.7 187.95M501.71 187.88L501.7 187.95M501.71 187.88L501.88 186.96M501.88 186.96L502.05 186.05M502.05 186.05L502.22 185.15M502.22 185.14L502.22 185.15M502.22 185.14L502.4 184.24M502.4 184.24L502.58 183.33M502.58 183.33L502.76 182.44" fill="none" stroke="#f5c020" stroke-width="1.55" stroke-linecap="butt"/>
<path d="M532.84 262.17L532.83 261.64M532.83 260.93L532.83 261.64M532.83 260.93L532.82 259.7M532.82 259.7L532.81 258.47M532.81 258.47L532.8 257.25M532.8 257.25L532.8 257.09M532.8 256.04L532.8 257.09M532.8 256.04L532.8 254.83M532.8 254.83L532.8 253.63M532.8 253.63L532.8 252.7M532.81 252.43L532.8 252.7M532.81 252.43L532.82 251.23M532.82 251.23L532.83 250.05M532.83 250.05L532.84 248.86M532.84 248.86L532.85 248.44M532.86 247.69L532.85 248.44M532.86 247.69L532.88 246.51M532.88 246.51L532.91 245.35M532.91 245.35L532.93 244.33M532.93 244.18L532.93 244.33M532.93 244.18L532.97 243.03M532.97 243.03L533 241.87M533 241.87L533.03 240.73M533.03 240.73L533.05 240.34M533.08 239.59L533.05 240.34M533.08 239.59L533.12 238.45M533.12 238.45L533.16 237.32M533.16 237.32L533.2 236.48M533.21 236.19L533.2 236.48M533.21 236.19L533.27 235.07M533.27 235.07L533.32 233.95M533.32 233.95L533.38 232.84M533.38 232.84L533.38 232.73M533.44 231.73L533.38 232.73M533.44 231.73L533.51 230.62M533.51 230.62L533.57 229.53M533.57 229.53L533.6 229.1M533.64 228.43L533.6 229.1M533.64 228.43L533.72 227.34M533.72 227.34L533.8 226.26M533.8 226.26L533.84 225.58M533.88 225.18L533.84 225.58M533.88 225.18L533.96 224.1M533.96 224.1L534.05 223.03M534.05 223.03L534.12 222.16M534.14 221.96L534.12 222.16M534.14 221.96L534.23 220.9M534.23 220.9L534.33 219.84M534.33 219.84L534.42 218.84M534.43 218.79L534.42 218.84M534.43 218.79L534.53 217.73M534.53 217.73L534.64 216.69M534.64 216.69L534.75 215.65M534.75 215.65L534.75 215.62M534.86 214.61L534.75 215.62M534.86 214.61L534.98 213.58M534.98 213.58L535.1 212.55M535.1 212.55L535.1 212.48M535.22 211.52L535.1 212.48M535.22 211.52L535.35 210.5M535.35 210.5L535.48 209.49M535.48 209.49L535.48 209.44M535.61 208.48L535.48 209.44M535.61 208.48L535.75 207.47M535.75 207.47L535.89 206.48M535.89 206.46L535.89 206.48M535.89 206.46L536.04 205.46M536.04 205.46L536.18 204.46M536.18 204.46L536.31 203.6M536.33 203.47L536.31 203.6M536.33 203.47L536.49 202.48M536.49 202.48L536.65 201.5M536.65 201.5L536.76 200.81M536.81 200.52L536.76 200.81M536.81 200.52L536.98 199.54M536.98 199.54L537.15 198.57M537.15 198.57L537.23 198.08M537.32 197.6L537.23 198.08M537.32 197.6L537.5 196.63M537.5 196.63L537.68 195.67M537.68 195.67L537.72 195.43M537.87 194.71L537.72 195.43M537.87 194.71L538.06 193.75M538.06 193.75L538.24 192.85M538.25 192.8L538.24 192.85M538.25 192.8L538.45 191.85M538.45 191.85L538.65 190.91M538.65 190.91L538.77 190.34M538.85 189.97L538.77 190.34M538.85 189.97L539.06 189.03M539.06 189.03L539.27 188.09M539.27 188.09L539.32 187.89M539.49 187.16L539.32 187.89M539.49 187.16L539.71 186.24M539.71 186.24L539.89 185.51M539.94 185.31L539.89 185.51M539.94 185.31L540.17 184.39M540.17 184.39L540.4 183.47M540.4 183.47L540.48 183.19M540.64 182.56L540.48 183.19M540.64 182.56L540.89 181.65M540.89 181.65L541.08 180.92M541.13 180.74L541.08 180.92M541.13 180.74L541.39 179.84M541.39 179.84L541.64 178.94M541.64 178.94L541.71 178.72M541.91 178.04L541.71 178.72" fill="none" stroke="#c8e61e" stroke-width="1.55" stroke-linecap="butt"/>
<path d="M573.85 256.66L573.86 255.43M573.86 255.43L573.87 254.21M573.87 254.21L573.88 253.21M573.89 253L573.88 253.21M573.89 253L573.92 251.78M573.92 251.78L573.94 250.58M573.94 250.58L573.97 249.53M573.97 249.38L573.97 249.53M573.97 249.38L574.01 248.18M574.01 248.18L574.05 246.99M574.05 246.99L574.09 245.97M574.1 245.81L574.09 245.97M574.1 245.81L574.15 244.63M574.15 244.63L574.21 243.45M574.21 243.45L574.25 242.51M574.26 242.28L574.25 242.51M574.26 242.28L574.33 241.12M574.33 241.12L574.4 239.96M574.4 239.96L574.45 239.15M574.47 238.8L574.45 239.15M574.47 238.8L574.55 237.65M574.55 237.65L574.63 236.5M574.63 236.5L574.68 235.9M574.72 235.36L574.68 235.9M574.72 235.36L574.82 234.23M574.82 234.23L574.91 233.1M574.91 233.1L574.94 232.75M575.02 231.97L574.94 232.75M575.02 231.97L575.13 230.85M575.13 230.85L575.24 229.73M575.24 229.73L575.24 229.68M575.36 228.61L575.24 229.68M575.36 228.61L575.48 227.51M575.48 227.51L575.57 226.71M575.61 226.4L575.57 226.71M575.61 226.4L575.74 225.3M575.74 225.3L575.88 224.21M575.88 224.21L575.93 223.82M576.03 223.11L575.93 223.82M576.03 223.11L576.18 222.03M576.18 222.03L576.32 221.01M576.33 220.94L576.32 221.01M576.33 220.94L576.49 219.87M576.49 219.87L576.66 218.79M576.66 218.79L576.74 218.28M576.83 217.72L576.74 218.28M576.83 217.72L577.01 216.65M577.01 216.65L577.18 215.63M577.19 215.59L577.18 215.63M577.19 215.59L577.38 214.53M577.38 214.53L577.58 213.48M577.58 213.48L577.66 213.06M577.78 212.43L577.66 213.06M577.78 212.43L577.99 211.38M577.99 211.38L578.16 210.55M578.2 210.34L578.16 210.55M578.2 210.34L578.42 209.3M578.42 209.3L578.65 208.27M578.65 208.27L578.68 208.12M578.88 207.24L578.68 208.12M578.88 207.24L579.12 206.21M579.12 206.21L579.23 205.75M579.37 205.19L579.23 205.75M579.37 205.19L579.62 204.17M579.62 204.17L579.81 203.44M579.88 203.15L579.81 203.44M579.88 203.15L580.15 202.14M580.15 202.14L580.4 201.2M580.42 201.13L580.4 201.2M580.42 201.13L580.71 200.13M580.71 200.13L581 199.12M581 199.12L581.03 199.02M581.3 198.12L581.03 199.02M581.3 198.12L581.6 197.13M581.6 197.13L581.67 196.9M581.92 196.14L581.67 196.9M581.92 196.14L582.24 195.15M582.24 195.15L582.34 194.84M582.57 194.16L582.34 194.84M582.57 194.16L582.9 193.18M582.9 193.18L583.03 192.83M583.25 192.2L583.03 192.83M583.25 192.2L583.61 191.23M583.61 191.23L583.74 190.87M583.97 190.26L583.74 190.87M583.97 190.26L584.35 189.29M584.35 189.29L584.47 188.97M584.73 188.32L584.47 188.97M584.73 188.32L585.12 187.36M585.12 187.36L585.22 187.11M585.53 186.39L585.22 187.11M585.53 186.39L585.94 185.44M585.94 185.44L585.99 185.31M586.37 184.48L585.99 185.31M586.37 184.48L586.79 183.56M586.8 183.53L586.79 183.56M586.8 183.53L587.25 182.58M587.25 182.58L587.6 181.85M587.71 181.63L587.6 181.85M587.71 181.63L588.18 180.69M588.18 180.69L588.43 180.19M588.66 179.75L588.43 180.19M588.66 179.75L589.16 178.81M589.16 178.81L589.29 178.57M589.67 177.87L589.29 178.57M589.67 177.87L590.16 176.99M590.19 176.93L590.16 176.99M590.19 176.93L590.73 176M590.73 176L591.05 175.46M591.29 175.07L591.05 175.46M591.29 175.07L591.85 174.14M591.85 174.14L591.96 173.97M592.44 173.22L591.96 173.97M592.44 173.22L592.89 172.52M593.04 172.29L592.89 172.52" fill="none" stroke="#78e61e" stroke-width="1.55" stroke-linecap="butt"/>
<path d="M630.7 249.02L630.87 247.9M630.89 247.79L630.87 247.9M630.89 247.79L631.11 246.56M631.11 246.56L631.32 245.34M631.32 245.34L631.33 245.29M631.55 244.12L631.33 245.29M631.55 244.12L631.79 242.9M631.79 242.9L631.82 242.76M632.05 241.69L631.82 242.76M632.05 241.69L632.31 240.48M632.31 240.48L632.34 240.31M632.59 239.28L632.34 240.31M632.59 239.28L632.87 238.08M632.87 238.08L632.9 237.93M633.17 236.89L632.9 237.93M633.17 236.89L633.48 235.7M633.48 235.7L633.5 235.62M633.81 234.51L633.5 235.62M633.81 234.51L634.13 233.39M634.15 233.33L634.13 233.39M634.15 233.33L634.51 232.15M634.51 232.15L634.8 231.22M634.88 230.97L634.8 231.22M634.88 230.97L635.27 229.8M635.27 229.8L635.49 229.12M635.67 228.63L635.49 229.12M635.67 228.63L636.08 227.47M636.08 227.47L636.22 227.08M636.52 226.31L636.22 227.08M636.52 226.31L636.97 225.15M636.97 225.15L636.98 225.11M637.44 223.99L636.98 225.11M637.44 223.99L637.77 223.2" fill="none" stroke="#28dc28" stroke-width="1.55" stroke-linecap="butt"/>
<g stroke="#000" stroke-opacity="1" stroke-width="0.5" stroke-linejoin="round"><polygon points="427.59,48.4 436.64,47.99 435.03,45.3 426.07,45.97" fill="#ff0a00"/><polygon points="436.64,47.99 445.75,50.75 444.05,47.43 435.03,45.3" fill="#ff1900"/><polygon points="445.75,50.75 454.79,53.36 453.03,50.04 444.05,47.43" fill="#ff3500"/><polygon points="454.79,53.36 463.77,55.84 461.94,52.51 453.03,50.04" fill="#ff5200"/><polygon points="463.77,55.84 472.68,58.18 470.79,54.85 461.94,52.51" fill="#ff6e00"/><polygon points="472.68,58.18 481.52,60.38 479.57,57.05 470.79,54.85" fill="#ff8800"/><polygon points="481.52,60.38 490.31,62.45 488.29,59.13 479.57,57.05" fill="#ffa200"/><polygon points="490.31,62.45 499.03,64.39 496.96,61.07 488.29,59.13" fill="#ffba00"/><polygon points="499.03,64.39 507.7,66.2 505.56,62.88 496.96,61.07" fill="#ffd200"/><polygon points="507.7,66.2 516.31,67.88 514.12,64.56 505.56,62.88" fill="#ffe800"/><polygon points="516.31,67.88 524.87,69.44 522.62,66.12 514.12,64.56" fill="#fffd00"/><polygon points="524.87,69.44 533.37,70.86 531.06,67.55 522.62,66.12" fill="#edff00"/><polygon points="533.37,70.86 541.82,72.17 539.46,68.86 531.06,67.55" fill="#d9ff00"/><polygon points="541.82,72.17 550.23,73.35 547.8,70.05 539.46,68.86" fill="#c7ff00"/><polygon points="550.23,73.35 558.58,74.41 556.1,71.12 547.8,70.05" fill="#b6ff00"/><polygon points="558.58,74.41 566.89,75.34 564.36,72.06 556.1,71.12" fill="#a7ff00"/><polygon points="566.89,75.34 575.16,76.16 572.56,72.89 564.36,72.06" fill="#98ff00"/><polygon points="575.16,76.16 583.38,76.86 580.73,73.6 572.56,72.89" fill="#8aff00"/><polygon points="583.38,76.86 591.55,77.44 588.85,74.19 580.73,73.6" fill="#7dff00"/><polygon points="591.55,77.44 599.69,77.91 596.93,74.66 588.85,74.19" fill="#72ff00"/><polygon points="429.15,50.86 438.3,51.35 436.64,47.99 427.59,48.4" fill="#ff0d00"/><polygon points="438.3,51.35 447.48,54.11 445.75,50.75 436.64,47.99" fill="#ff1f00"/><polygon points="447.48,54.11 456.58,56.73 454.79,53.36 445.75,50.75" fill="#ff3d00"/><polygon points="456.58,56.73 465.62,59.2 463.77,55.84 454.79,53.36" fill="#ff5a00"/><polygon points="465.62,59.2 474.59,61.55 472.68,58.18 463.77,55.84" fill="#ff7500"/><polygon points="474.59,61.55 483.5,63.75 481.52,60.38 472.68,58.18" fill="#ff9000"/><polygon points="483.5,63.75 492.35,65.82 490.31,62.45 481.52,60.38" fill="#ffa900"/><polygon points="492.35,65.82 501.14,67.76 499.03,64.39 490.31,62.45" fill="#ffc200"/><polygon points="501.14,67.76 509.87,69.57 507.7,66.2 499.03,64.39" fill="#ffd900"/><polygon points="509.87,69.57 518.54,71.24 516.31,67.88 507.7,66.2" fill="#ffef00"/><polygon points="518.54,71.24 527.15,72.79 524.87,69.44 516.31,67.88" fill="#f9ff00"/><polygon points="527.15,72.79 535.72,74.22 533.37,70.86 524.87,69.44" fill="#e5ff00"/><polygon points="535.72,74.22 544.23,75.51 541.82,72.17 533.37,70.86" fill="#d2ff00"/><polygon points="544.23,75.51 552.69,76.69 550.23,73.35 541.82,72.17" fill="#c0ff00"/><polygon points="552.69,76.69 561.1,77.74 558.58,74.41 550.23,73.35" fill="#afff00"/><polygon points="561.1,77.74 569.47,78.67 566.89,75.34 558.58,74.41" fill="#9fff00"/><polygon points="569.47,78.67 577.79,79.48 575.16,76.16 566.89,75.34" fill="#91ff00"/><polygon points="577.79,79.48 586.06,80.17 583.38,76.86 575.16,76.16" fill="#83ff00"/><polygon points="586.06,80.17 594.3,80.74 591.55,77.44 583.38,76.86" fill="#76ff00"/><polygon points="594.3,80.74 602.49,81.19 599.69,77.91 591.55,77.44" fill="#6bff00"/><polygon points="430.73,53.37 439.98,54.76 438.3,51.35 429.15,50.86" fill="#ff1100"/><polygon points="439.98,54.76 449.23,57.52 447.48,54.11 438.3,51.35" fill="#ff2700"/><polygon points="449.23,57.52 458.4,60.14 456.58,56.73 447.48,54.11" fill="#ff4500"/><polygon points="458.4,60.14 467.51,62.62 465.62,59.2 456.58,56.73" fill="#ff6200"/><polygon points="467.51,62.62 476.54,64.96 474.59,61.55 465.62,59.2" fill="#ff7d00"/><polygon points="476.54,64.96 485.52,67.17 483.5,63.75 474.59,61.55" fill="#ff9800"/><polygon points="485.52,67.17 494.43,69.24 492.35,65.82 483.5,63.75" fill="#ffb100"/><polygon points="494.43,69.24 503.28,71.17 501.14,67.76 492.35,65.82" fill="#ffc900"/><polygon points="503.28,71.17 512.07,72.98 509.87,69.57 501.14,67.76" fill="#ffe100"/><polygon points="512.07,72.98 520.8,74.65 518.54,71.24 509.87,69.57" fill="#fff700"/><polygon points="520.8,74.65 529.48,76.2 527.15,72.79 518.54,71.24" fill="#f2ff00"/><polygon points="529.48,76.2 538.1,77.61 535.72,74.22 527.15,72.79" fill="#deff00"/><polygon points="538.1,77.61 546.67,78.91 544.23,75.51 535.72,74.22" fill="#cbff00"/><polygon points="546.67,78.91 555.19,80.07 552.69,76.69 544.23,75.51" fill="#b9ff00"/><polygon points="555.19,80.07 563.66,81.12 561.1,77.74 552.69,76.69" fill="#a8ff00"/><polygon points="563.66,81.12 572.08,82.04 569.47,78.67 561.1,77.74" fill="#98ff00"/><polygon points="572.08,82.04 580.46,82.84 577.79,79.48 569.47,78.67" fill="#8aff00"/><polygon points="580.46,82.84 588.79,83.52 586.06,80.17 577.79,79.48" fill="#7cff00"/><polygon points="588.79,83.52 597.08,84.08 594.3,80.74 586.06,80.17" fill="#6fff00"/><polygon points="597.08,84.08 605.33,84.52 602.49,81.19 594.3,80.74" fill="#64ff00"/><polygon points="432.33,55.91 441.7,58.21 439.98,54.76 430.73,53.37" fill="#ff1500"/><polygon points="441.7,58.21 451.01,60.98 449.23,57.52 439.98,54.76" fill="#ff2f00"/><polygon points="451.01,60.98 460.25,63.6 458.4,60.14 449.23,57.52" fill="#ff4d00"/><polygon points="460.25,63.6 469.42,66.08 467.51,62.62 458.4,60.14" fill="#ff6900"/><polygon points="469.42,66.08 478.52,68.42 476.54,64.96 467.51,62.62" fill="#ff8500"/><polygon points="478.52,68.42 487.56,70.63 485.52,67.17 476.54,64.96" fill="#ff9f00"/><polygon points="487.56,70.63 496.54,72.7 494.43,69.24 485.52,67.17" fill="#ffb900"/><polygon points="496.54,72.7 505.45,74.63 503.28,71.17 494.43,69.24" fill="#ffd100"/><polygon points="505.45,74.63 514.3,76.43 512.07,72.98 503.28,71.17" fill="#ffe800"/><polygon points="514.3,76.43 523.1,78.1 520.8,74.65 512.07,72.98" fill="#fffe00"/><polygon points="523.1,78.1 531.84,79.64 529.48,76.2 520.8,74.65" fill="#ebff00"/><polygon points="531.84,79.64 540.52,81.06 538.1,77.61 529.48,76.2" fill="#d7ff00"/><polygon points="540.52,81.06 549.15,82.34 546.67,78.91 538.1,77.61" fill="#c4ff00"/><polygon points="549.15,82.34 557.73,83.5 555.19,80.07 546.67,78.91" fill="#b2ff00"/><polygon points="557.73,83.5 566.26,84.54 563.66,81.12 555.19,80.07" fill="#a1ff00"/><polygon points="566.26,84.54 574.74,85.45 572.08,82.04 563.66,81.12" fill="#91ff00"/><polygon points="574.74,85.45 583.17,86.24 580.46,82.84 572.08,82.04" fill="#83ff00"/><polygon points="583.17,86.24 591.56,86.91 588.79,83.52 580.46,82.84" fill="#75ff00"/><polygon points="591.56,86.91 599.91,87.46 597.08,84.08 588.79,83.52" fill="#68ff00"/><polygon points="599.91,87.46 608.21,87.89 605.33,84.52 597.08,84.08" fill="#5dff00"/><polygon points="433.98,58.8 443.44,61.72 441.7,58.21 432.33,55.91" fill="#ff1900"/><polygon points="443.44,61.72 452.82,64.48 451.01,60.98 441.7,58.21" fill="#ff3700"/><polygon points="452.82,64.48 462.13,67.11 460.25,63.6 451.01,60.98" fill="#ff5400"/><polygon points="462.13,67.11 471.37,69.59 469.42,66.08 460.25,63.6" fill="#ff7100"/><polygon points="471.37,69.59 480.54,71.94 478.52,68.42 469.42,66.08" fill="#ff8c00"/><polygon points="480.54,71.94 489.64,74.14 487.56,70.63 478.52,68.42" fill="#ffa700"/><polygon points="489.64,74.14 498.68,76.21 496.54,72.7 487.56,70.63" fill="#ffc000"/><polygon points="498.68,76.21 507.66,78.14 505.45,74.63 496.54,72.7" fill="#ffd800"/><polygon points="507.66,78.14 516.57,79.94 514.3,76.43 505.45,74.63" fill="#ffef00"/><polygon points="516.57,79.94 525.43,81.6 523.1,78.1 514.3,76.43" fill="#f8ff00"/><polygon points="525.43,81.6 534.23,83.14 531.84,79.64 523.1,78.1" fill="#e3ff00"/><polygon points="534.23,83.14 542.98,84.55 540.52,81.06 531.84,79.64" fill="#cfff00"/><polygon points="542.98,84.55 551.67,85.83 549.15,82.34 540.52,81.06" fill="#bdff00"/><polygon points="551.67,85.83 560.31,86.98 557.73,83.5 549.15,82.34" fill="#abff00"/><polygon points="560.31,86.98 568.9,88.01 566.26,84.54 557.73,83.5" fill="#9aff00"/><polygon points="568.9,88.01 577.44,88.91 574.74,85.45 566.26,84.54" fill="#8aff00"/><polygon points="577.44,88.91 585.93,89.69 583.17,86.24 574.74,85.45" fill="#7cff00"/><polygon points="585.93,89.69 594.38,90.35 591.56,86.91 583.17,86.24" fill="#6eff00"/><polygon points="594.38,90.35 602.78,90.89 599.91,87.46 591.56,86.91" fill="#62ff00"/><polygon points="602.78,90.89 611.14,91.31 608.21,87.89 599.91,87.46" fill="#56ff00"/><polygon points="435.68,62.35 445.2,65.27 443.44,61.72 433.98,58.8" fill="#ff2000"/><polygon points="445.2,65.27 454.66,68.04 452.82,64.48 443.44,61.72" fill="#ff3e00"/><polygon points="454.66,68.04 464.04,70.67 462.13,67.11 452.82,64.48" fill="#ff5c00"/><polygon points="464.04,70.67 473.34,73.15 471.37,69.59 462.13,67.11" fill="#ff7800"/><polygon points="473.34,73.15 482.58,75.5 480.54,71.94 471.37,69.59" fill="#ff9400"/><polygon points="482.58,75.5 491.75,77.7 489.64,74.14 480.54,71.94" fill="#ffae00"/><polygon points="491.75,77.7 500.86,79.77 498.68,76.21 489.64,74.14" fill="#ffc700"/><polygon points="500.86,79.77 509.9,81.7 507.66,78.14 498.68,76.21" fill="#ffe000"/><polygon points="509.9,81.7 518.88,83.49 516.57,79.94 507.66,78.14" fill="#fff700"/><polygon points="518.88,83.49 527.8,85.15 525.43,81.6 516.57,79.94" fill="#f1ff00"/><polygon points="527.8,85.15 536.67,86.69 534.23,83.14 525.43,81.6" fill="#dcff00"/><polygon points="536.67,86.69 545.48,88.09 542.98,84.55 534.23,83.14" fill="#c8ff00"/><polygon points="545.48,88.09 554.23,89.36 551.67,85.83 542.98,84.55" fill="#b5ff00"/><polygon points="554.23,89.36 562.93,90.5 560.31,86.98 551.67,85.83" fill="#a4ff00"/><polygon points="562.93,90.5 571.58,91.52 568.9,88.01 560.31,86.98" fill="#93ff00"/><polygon points="571.58,91.52 580.18,92.42 577.44,88.91 568.9,88.01" fill="#83ff00"/><polygon points="580.18,92.42 588.73,93.19 585.93,89.69 577.44,88.91" fill="#75ff00"/><polygon points="588.73,93.19 597.24,93.84 594.38,90.35 585.93,89.69" fill="#67ff00"/><polygon points="597.24,93.84 605.7,94.37 602.78,90.89 594.38,90.35" fill="#5bff00"/><polygon points="605.7,94.37 614.12,94.78 611.14,91.31 602.78,90.89" fill="#4fff00"/><polygon points="437.4,65.95 447,68.87 445.2,65.27 435.68,62.35" fill="#ff2700"/><polygon points="447,68.87 456.53,71.65 454.66,68.04 445.2,65.27" fill="#ff4600"/><polygon points="456.53,71.65 465.98,74.28 464.04,70.67 454.66,68.04" fill="#ff6300"/><polygon points="465.98,74.28 475.35,76.77 473.34,73.15 464.04,70.67" fill="#ff8000"/><polygon points="475.35,76.77 484.66,79.11 482.58,75.5 473.34,73.15" fill="#ff9b00"/><polygon points="484.66,79.11 493.9,81.31 491.75,77.7 482.58,75.5" fill="#ffb500"/><polygon points="493.9,81.31 503.07,83.38 500.86,79.77 491.75,77.7" fill="#ffcf00"/><polygon points="503.07,83.38 512.18,85.3 509.9,81.7 500.86,79.77" fill="#ffe700"/><polygon points="512.18,85.3 521.23,87.1 518.88,83.49 509.9,81.7" fill="#fffe00"/><polygon points="521.23,87.1 530.22,88.75 527.8,85.15 518.88,83.49" fill="#eaff00"/><polygon points="530.22,88.75 539.14,90.28 536.67,86.69 527.8,85.15" fill="#d5ff00"/><polygon points="539.14,90.28 548.01,91.67 545.48,88.09 536.67,86.69" fill="#c1ff00"/><polygon points="548.01,91.67 556.83,92.94 554.23,89.36 545.48,88.09" fill="#aeff00"/><polygon points="556.83,92.94 565.59,94.08 562.93,90.5 554.23,89.36" fill="#9dff00"/><polygon points="565.59,94.08 574.3,95.09 571.58,91.52 562.93,90.5" fill="#8cff00"/><polygon points="574.3,95.09 582.96,95.97 580.18,92.42 571.58,91.52" fill="#7dff00"/><polygon points="582.96,95.97 591.58,96.74 588.73,93.19 580.18,92.42" fill="#6eff00"/><polygon points="591.58,96.74 600.14,97.37 597.24,93.84 588.73,93.19" fill="#61ff00"/><polygon points="600.14,97.37 608.66,97.89 605.7,94.37 597.24,93.84" fill="#54ff00"/><polygon points="608.66,97.89 617.14,98.29 614.12,94.78 605.7,94.37" fill="#49ff00"/><polygon points="439.15,69.6 448.83,72.53 447,68.87 437.4,65.95" fill="#ff2f00"/><polygon points="448.83,72.53 458.43,75.31 456.53,71.65 447,68.87" fill="#ff4d00"/><polygon points="458.43,75.31 467.95,77.94 465.98,74.28 456.53,71.65" fill="#ff6b00"/><polygon points="467.95,77.94 477.4,80.43 475.35,76.77 465.98,74.28" fill="#ff8700"/><polygon points="477.4,80.43 486.77,82.77 484.66,79.11 475.35,76.77" fill="#ffa300"/><polygon points="486.77,82.77 496.08,84.98 493.9,81.31 484.66,79.11" fill="#ffbd00"/><polygon points="496.08,84.98 505.32,87.04 503.07,83.38 493.9,81.31" fill="#ffd600"/><polygon points="505.32,87.04 514.5,88.96 512.18,85.3 503.07,83.38" fill="#ffee00"/><polygon points="514.5,88.96 523.61,90.75 521.23,87.1 512.18,85.3" fill="#f9ff00"/><polygon points="523.61,90.75 532.67,92.4 530.22,88.75 521.23,87.1" fill="#e3ff00"/><polygon points="532.67,92.4 541.66,93.92 539.14,90.28 530.22,88.75" fill="#ceff00"/><polygon points="541.66,93.92 550.59,95.31 548.01,91.67 539.14,90.28" fill="#baff00"/><polygon points="550.59,95.31 559.47,96.57 556.83,92.94 548.01,91.67" fill="#a8ff00"/><polygon points="559.47,96.57 568.3,97.7 565.59,94.08 556.83,92.94" fill="#96ff00"/><polygon points="568.3,97.7 577.07,98.7 574.3,95.09 565.59,94.08" fill="#85ff00"/><polygon points="577.07,98.7 585.79,99.58 582.96,95.97 574.3,95.09" fill="#76ff00"/><polygon points="585.79,99.58 594.47,100.33 591.58,96.74 582.96,95.97" fill="#67ff00"/><polygon points="594.47,100.33 603.09,100.96 600.14,97.37 591.58,96.74" fill="#5aff00"/><polygon points="603.09,100.96 611.67,101.46 608.66,97.89 600.14,97.37" fill="#4eff00"/><polygon points="611.67,101.46 620.21,101.85 617.14,98.29 608.66,97.89" fill="#42ff00"/><polygon points="440.94,73.31 450.69,76.24 448.83,72.53 439.15,69.6" fill="#ff3600"/><polygon points="450.69,76.24 460.36,79.03 458.43,75.31 448.83,72.53" fill="#ff5500"/><polygon points="460.36,79.03 469.95,81.66 467.95,77.94 458.43,75.31" fill="#ff7200"/><polygon points="469.95,81.66 479.47,84.15 477.4,80.43 467.95,77.94" fill="#ff8f00"/><polygon points="479.47,84.15 488.92,86.49 486.77,82.77 477.4,80.43" fill="#ffaa00"/><polygon points="488.92,86.49 498.3,88.69 496.08,84.98 486.77,82.77" fill="#ffc400"/><polygon points="498.3,88.69 507.61,90.75 505.32,87.04 496.08,84.98" fill="#ffdd00"/><polygon points="507.61,90.75 516.86,92.67 514.5,88.96 505.32,87.04" fill="#fff500"/><polygon points="516.86,92.67 526.04,94.46 523.61,90.75 514.5,88.96" fill="#f2ff00"/><polygon points="526.04,94.46 535.16,96.11 532.67,92.4 523.61,90.75" fill="#dcff00"/><polygon points="535.16,96.11 544.22,97.62 541.66,93.92 532.67,92.4" fill="#c7ff00"/><polygon points="544.22,97.62 553.22,99 550.59,95.31 541.66,93.92" fill="#b3ff00"/><polygon points="553.22,99 562.16,100.26 559.47,96.57 550.59,95.31" fill="#a1ff00"/><polygon points="562.16,100.26 571.05,101.38 568.3,97.7 559.47,96.57" fill="#8fff00"/><polygon points="571.05,101.38 579.89,102.37 577.07,98.7 568.3,97.7" fill="#7fff00"/><polygon points="579.89,102.37 588.67,103.24 585.79,99.58 577.07,98.7" fill="#6fff00"/><polygon points="588.67,103.24 597.41,103.98 594.47,100.33 585.79,99.58" fill="#61ff00"/><polygon points="597.41,103.98 606.09,104.59 603.09,100.96 594.47,100.33" fill="#53ff00"/><polygon points="606.09,104.59 614.73,105.09 611.67,101.46 603.09,100.96" fill="#47ff00"/><polygon points="614.73,105.09 623.33,105.46 620.21,101.85 611.67,101.46" fill="#3cff00"/><polygon points="442.75,77.07 452.58,80.01 450.69,76.24 440.94,73.31" fill="#ff3e00"/><polygon points="452.58,80.01 462.32,82.8 460.36,79.03 450.69,76.24" fill="#ff5c00"/><polygon points="462.32,82.8 471.99,85.43 469.95,81.66 460.36,79.03" fill="#ff7a00"/><polygon points="471.99,85.43 481.59,87.92 479.47,84.15 469.95,81.66" fill="#ff9600"/><polygon points="481.59,87.92 491.11,90.26 488.92,86.49 479.47,84.15" fill="#ffb100"/><polygon points="491.11,90.26 500.56,92.46 498.3,88.69 488.92,86.49" fill="#ffcb00"/><polygon points="500.56,92.46 509.94,94.52 507.61,90.75 498.3,88.69" fill="#ffe400"/><polygon points="509.94,94.52 519.25,96.44 516.86,92.67 507.61,90.75" fill="#fffc00"/><polygon points="519.25,96.44 528.5,98.22 526.04,94.46 516.86,92.67" fill="#ebff00"/><polygon points="528.5,98.22 537.69,99.86 535.16,96.11 526.04,94.46" fill="#d5ff00"/><polygon points="537.69,99.86 546.81,101.37 544.22,97.62 535.16,96.11" fill="#c0ff00"/><polygon points="546.81,101.37 555.88,102.75 553.22,99 544.22,97.62" fill="#adff00"/><polygon points="555.88,102.75 564.89,103.99 562.16,100.26 553.22,99" fill="#9aff00"/><polygon points="564.89,103.99 573.85,105.1 571.05,101.38 562.16,100.26" fill="#88ff00"/><polygon points="573.85,105.1 582.75,106.09 579.89,102.37 571.05,101.38" fill="#78ff00"/><polygon points="582.75,106.09 591.59,106.94 588.67,103.24 579.89,102.37" fill="#68ff00"/><polygon points="591.59,106.94 600.39,107.67 597.41,103.98 588.67,103.24" fill="#5aff00"/><polygon points="600.39,107.67 609.14,108.28 606.09,104.59 597.41,103.98" fill="#4dff00"/><polygon points="609.14,108.28 617.84,108.76 614.73,105.09 606.09,104.59" fill="#41ff00"/><polygon points="617.84,108.76 626.5,109.12 623.33,105.46 614.73,105.09" fill="#35ff00"/><polygon points="444.59,80.89 454.5,83.83 452.58,80.01 442.75,77.07" fill="#ff4500"/><polygon points="454.5,83.83 464.32,86.62 462.32,82.8 452.58,80.01" fill="#ff6300"/><polygon points="464.32,86.62 474.07,89.26 471.99,85.43 462.32,82.8" fill="#ff8100"/><polygon points="474.07,89.26 483.74,91.75 481.59,87.92 471.99,85.43" fill="#ff9d00"/><polygon points="483.74,91.75 493.33,94.09 491.11,90.26 481.59,87.92" fill="#ffb800"/><polygon points="493.33,94.09 502.85,96.29 500.56,92.46 491.11,90.26" fill="#ffd200"/><polygon points="502.85,96.29 512.3,98.35 509.94,94.52 500.56,92.46" fill="#ffeb00"/><polygon points="512.3,98.35 521.69,100.26 519.25,96.44 509.94,94.52" fill="#fbff00"/><polygon points="521.69,100.26 531.01,102.04 528.5,98.22 519.25,96.44" fill="#e4ff00"/><polygon points="531.01,102.04 540.26,103.68 537.69,99.86 528.5,98.22" fill="#ceff00"/><polygon points="540.26,103.68 549.46,105.18 546.81,101.37 537.69,99.86" fill="#b9ff00"/><polygon points="549.46,105.18 558.59,106.55 555.88,102.75 546.81,101.37" fill="#a6ff00"/><polygon points="558.59,106.55 567.67,107.78 564.89,103.99 555.88,102.75" fill="#93ff00"/><polygon points="567.67,107.78 576.69,108.89 573.85,105.1 564.89,103.99" fill="#82ff00"/><polygon points="576.69,108.89 585.65,109.86 582.75,106.09 573.85,105.1" fill="#71ff00"/><polygon points="585.65,109.86 594.57,110.71 591.59,106.94 582.75,106.09" fill="#62ff00"/><polygon points="594.57,110.71 603.43,111.43 600.39,107.67 591.59,106.94" fill="#54ff00"/><polygon points="603.43,111.43 612.24,112.02 609.14,108.28 600.39,107.67" fill="#46ff00"/><polygon points="612.24,112.02 621.01,112.48 617.84,108.76 609.14,108.28" fill="#3aff00"/><polygon points="621.01,112.48 629.73,112.83 626.5,109.12 617.84,108.76" fill="#2fff00"/><polygon points="446.47,84.77 456.45,87.72 454.5,83.83 444.59,80.89" fill="#ff4c00"/><polygon points="456.45,87.72 466.36,90.51 464.32,86.62 454.5,83.83" fill="#ff6b00"/><polygon points="466.36,90.51 476.18,93.15 474.07,89.26 464.32,86.62" fill="#ff8800"/><polygon points="476.18,93.15 485.92,95.64 483.74,91.75 474.07,89.26" fill="#ffa400"/><polygon points="485.92,95.64 495.59,97.98 493.33,94.09 483.74,91.75" fill="#ffbf00"/><polygon points="495.59,97.98 505.19,100.18 502.85,96.29 493.33,94.09" fill="#ffd900"/><polygon points="505.19,100.18 514.71,102.23 512.3,98.35 502.85,96.29" fill="#fff200"/><polygon points="514.71,102.23 524.17,104.14 521.69,100.26 512.3,98.35" fill="#f4ff00"/><polygon points="524.17,104.14 533.56,105.91 531.01,102.04 521.69,100.26" fill="#ddff00"/><polygon points="533.56,105.91 542.88,107.54 540.26,103.68 531.01,102.04" fill="#c7ff00"/><polygon points="542.88,107.54 552.15,109.04 549.46,105.18 540.26,103.68" fill="#b3ff00"/><polygon points="552.15,109.04 561.35,110.4 558.59,106.55 549.46,105.18" fill="#9fff00"/><polygon points="561.35,110.4 570.49,111.63 567.67,107.78 558.59,106.55" fill="#8dff00"/><polygon points="570.49,111.63 579.58,112.72 576.69,108.89 567.67,107.78" fill="#7bff00"/><polygon points="579.58,112.72 588.61,113.69 585.65,109.86 576.69,108.89" fill="#6bff00"/><polygon points="588.61,113.69 597.59,114.52 594.57,110.71 585.65,109.86" fill="#5bff00"/><polygon points="597.59,114.52 606.51,115.23 603.43,111.43 594.57,110.71" fill="#4dff00"/><polygon points="606.51,115.23 615.39,115.81 612.24,112.02 603.43,111.43" fill="#40ff00"/><polygon points="615.39,115.81 624.22,116.26 621.01,112.48 612.24,112.02" fill="#34ff00"/><polygon points="624.22,116.26 633,116.59 629.73,112.83 621.01,112.48" fill="#29ff00"/><polygon points="448.38,88.71 458.44,91.66 456.45,87.72 446.47,84.77" fill="#ff5400"/><polygon points="458.44,91.66 468.43,94.45 466.36,90.51 456.45,87.72" fill="#ff7200"/><polygon points="468.43,94.45 478.32,97.09 476.18,93.15 466.36,90.51" fill="#ff8f00"/><polygon points="478.32,97.09 488.15,99.58 485.92,95.64 476.18,93.15" fill="#ffab00"/><polygon points="488.15,99.58 497.89,101.93 495.59,97.98 485.92,95.64" fill="#ffc600"/><polygon points="497.89,101.93 507.56,104.12 505.19,100.18 495.59,97.98" fill="#ffe000"/><polygon points="507.56,104.12 517.16,106.17 514.71,102.23 505.19,100.18" fill="#fff900"/><polygon points="517.16,106.17 526.69,108.08 524.17,104.14 514.71,102.23" fill="#edff00"/><polygon points="526.69,108.08 536.15,109.84 533.56,105.91 524.17,104.14" fill="#d6ff00"/><polygon points="536.15,109.84 545.55,111.47 542.88,107.54 533.56,105.91" fill="#c1ff00"/><polygon points="545.55,111.47 554.88,112.96 552.15,109.04 542.88,107.54" fill="#acff00"/><polygon points="554.88,112.96 564.15,114.31 561.35,110.4 552.15,109.04" fill="#98ff00"/><polygon points="564.15,114.31 573.36,115.53 570.49,111.63 561.35,110.4" fill="#86ff00"/><polygon points="573.36,115.53 582.52,116.62 579.58,112.72 570.49,111.63" fill="#75ff00"/><polygon points="582.52,116.62 591.62,117.57 588.61,113.69 579.58,112.72" fill="#64ff00"/><polygon points="591.62,117.57 600.66,118.4 597.59,114.52 588.61,113.69" fill="#55ff00"/><polygon points="600.66,118.4 609.65,119.09 606.51,115.23 597.59,114.52" fill="#47ff00"/><polygon points="609.65,119.09 618.6,119.66 615.39,115.81 606.51,115.23" fill="#3aff00"/><polygon points="618.6,119.66 627.49,120.1 624.22,116.26 615.39,115.81" fill="#2eff00"/><polygon points="627.49,120.1 636.34,120.42 633,116.59 624.22,116.26" fill="#23ff00"/><polygon points="450.32,92.71 460.47,95.66 458.44,91.66 448.38,88.71" fill="#ff5b00"/><polygon points="460.47,95.66 470.53,98.46 468.43,94.45 458.44,91.66" fill="#ff7900"/><polygon points="470.53,98.46 480.51,101.1 478.32,97.09 468.43,94.45" fill="#ff9600"/><polygon points="480.51,101.1 490.41,103.59 488.15,99.58 478.32,97.09" fill="#ffb200"/><polygon points="490.41,103.59 500.23,105.93 497.89,101.93 488.15,99.58" fill="#ffcd00"/><polygon points="500.23,105.93 509.98,108.13 507.56,104.12 497.89,101.93" fill="#ffe700"/><polygon points="509.98,108.13 519.65,110.17 517.16,106.17 507.56,104.12" fill="#feff00"/><polygon points="519.65,110.17 529.25,112.08 526.69,108.08 517.16,106.17" fill="#e6ff00"/><polygon points="529.25,112.08 538.79,113.84 536.15,109.84 526.69,108.08" fill="#d0ff00"/><polygon points="538.79,113.84 548.26,115.46 545.55,111.47 536.15,109.84" fill="#baff00"/><polygon points="548.26,115.46 557.66,116.94 554.88,112.96 545.55,111.47" fill="#a5ff00"/><polygon points="557.66,116.94 567,118.29 564.15,114.31 554.88,112.96" fill="#92ff00"/><polygon points="567,118.29 576.28,119.5 573.36,115.53 564.15,114.31" fill="#7fff00"/><polygon points="576.28,119.5 585.51,120.57 582.52,116.62 573.36,115.53" fill="#6eff00"/><polygon points="585.51,120.57 594.67,121.52 591.62,117.57 582.52,116.62" fill="#5eff00"/><polygon points="594.67,121.52 603.79,122.33 600.66,118.4 591.62,117.57" fill="#4fff00"/><polygon points="603.79,122.33 612.85,123.01 609.65,119.09 600.66,118.4" fill="#40ff00"/><polygon points="612.85,123.01 621.85,123.56 618.6,119.66 609.65,119.09" fill="#33ff00"/><polygon points="621.85,123.56 630.81,123.99 627.49,120.1 618.6,119.66" fill="#27ff00"/><polygon points="630.81,123.99 639.72,124.29 636.34,120.42 627.49,120.1" fill="#1cff00"/><polygon points="452.3,96.77 462.53,99.73 460.47,95.66 450.32,92.71" fill="#ff6200"/><polygon points="462.53,99.73 472.67,102.53 470.53,98.46 460.47,95.66" fill="#ff8000"/><polygon points="472.67,102.53 482.73,105.17 480.51,101.1 470.53,98.46" fill="#ff9d00"/><polygon points="482.73,105.17 492.71,107.66 490.41,103.59 480.51,101.1" fill="#ffb900"/><polygon points="492.71,107.66 502.61,110 500.23,105.93 490.41,103.59" fill="#ffd400"/><polygon points="502.61,110 512.44,112.19 509.98,108.13 500.23,105.93" fill="#ffee00"/><polygon points="512.44,112.19 522.19,114.24 519.65,110.17 509.98,108.13" fill="#f7ff00"/><polygon points="522.19,114.24 531.86,116.14 529.25,112.08 519.65,110.17" fill="#e0ff00"/><polygon points="531.86,116.14 541.47,117.89 538.79,113.84 529.25,112.08" fill="#c9ff00"/><polygon points="541.47,117.89 551.01,119.51 548.26,115.46 538.79,113.84" fill="#b3ff00"/><polygon points="551.01,119.51 560.49,120.98 557.66,116.94 548.26,115.46" fill="#9fff00"/><polygon points="560.49,120.98 569.9,122.32 567,118.29 557.66,116.94" fill="#8bff00"/><polygon points="569.9,122.32 579.26,123.52 576.28,119.5 567,118.29" fill="#79ff00"/><polygon points="579.26,123.52 588.55,124.58 585.51,120.57 576.28,119.5" fill="#68ff00"/><polygon points="588.55,124.58 597.78,125.52 594.67,121.52 585.51,120.57" fill="#57ff00"/><polygon points="597.78,125.52 606.97,126.32 603.79,122.33 594.67,121.52" fill="#48ff00"/><polygon points="606.97,126.32 616.09,126.99 612.85,123.01 603.79,122.33" fill="#3aff00"/><polygon points="616.09,126.99 625.17,127.53 621.85,123.56 612.85,123.01" fill="#2dff00"/><polygon points="625.17,127.53 634.19,127.94 630.81,123.99 621.85,123.56" fill="#21ff00"/><polygon points="634.19,127.94 643.17,128.23 639.72,124.29 630.81,123.99" fill="#16ff00"/><polygon points="454.32,100.9 464.63,103.86 462.53,99.73 452.3,96.77" fill="#ff6900"/><polygon points="464.63,103.86 474.86,106.66 472.67,102.53 462.53,99.73" fill="#ff8700"/><polygon points="474.86,106.66 485,109.31 482.73,105.17 472.67,102.53" fill="#ffa400"/><polygon points="485,109.31 495.06,111.8 492.71,107.66 482.73,105.17" fill="#ffc000"/><polygon points="495.06,111.8 505.04,114.14 502.61,110 492.71,107.66" fill="#ffdb00"/><polygon points="505.04,114.14 514.94,116.32 512.44,112.19 502.61,110" fill="#fff500"/><polygon points="514.94,116.32 524.76,118.36 522.19,114.24 512.44,112.19" fill="#f1ff00"/><polygon points="524.76,118.36 534.52,120.26 531.86,116.14 522.19,114.24" fill="#d9ff00"/><polygon points="534.52,120.26 544.2,122.01 541.47,117.89 531.86,116.14" fill="#c2ff00"/><polygon points="544.2,122.01 553.82,123.62 551.01,119.51 541.47,117.89" fill="#adff00"/><polygon points="553.82,123.62 563.37,125.08 560.49,120.98 551.01,119.51" fill="#98ff00"/><polygon points="563.37,125.08 572.86,126.41 569.9,122.32 560.49,120.98" fill="#85ff00"/><polygon points="572.86,126.41 582.28,127.6 579.26,123.52 569.9,122.32" fill="#73ff00"/><polygon points="582.28,127.6 591.64,128.66 588.55,124.58 579.26,123.52" fill="#61ff00"/><polygon points="591.64,128.66 600.95,129.58 597.78,125.52 588.55,124.58" fill="#51ff00"/><polygon points="600.95,129.58 610.2,130.37 606.97,126.32 597.78,125.52" fill="#42ff00"/><polygon points="610.2,130.37 619.4,131.03 616.09,126.99 606.97,126.32" fill="#34ff00"/><polygon points="619.4,131.03 628.54,131.55 625.17,127.53 616.09,126.99" fill="#27ff00"/><polygon points="628.54,131.55 637.63,131.95 634.19,127.94 625.17,127.53" fill="#1bff00"/><polygon points="637.63,131.95 646.68,132.22 643.17,128.23 634.19,127.94" fill="#10ff00"/><polygon points="456.37,105.1 466.77,108.06 464.63,103.86 454.32,100.9" fill="#ff7000"/><polygon points="466.77,108.06 477.08,110.87 474.86,106.66 464.63,103.86" fill="#ff8e00"/><polygon points="477.08,110.87 487.3,113.51 485,109.31 474.86,106.66" fill="#ffab00"/><polygon points="487.3,113.51 497.44,116 495.06,111.8 485,109.31" fill="#ffc700"/><polygon points="497.44,116 507.5,118.34 505.04,114.14 495.06,111.8" fill="#ffe200"/><polygon points="507.5,118.34 517.48,120.52 514.94,116.32 505.04,114.14" fill="#fffb00"/><polygon points="517.48,120.52 527.39,122.56 524.76,118.36 514.94,116.32" fill="#eaff00"/><polygon points="527.39,122.56 537.22,124.45 534.52,120.26 524.76,118.36" fill="#d2ff00"/><polygon points="537.22,124.45 546.98,126.19 544.2,122.01 534.52,120.26" fill="#bcff00"/><polygon points="546.98,126.19 556.67,127.79 553.82,123.62 544.2,122.01" fill="#a6ff00"/><polygon points="556.67,127.79 566.3,129.25 563.37,125.08 553.82,123.62" fill="#92ff00"/><polygon points="566.3,129.25 575.86,130.57 572.86,126.41 563.37,125.08" fill="#7fff00"/><polygon points="575.86,130.57 585.36,131.75 582.28,127.6 572.86,126.41" fill="#6cff00"/><polygon points="585.36,131.75 594.79,132.8 591.64,128.66 582.28,127.6" fill="#5bff00"/><polygon points="594.79,132.8 604.17,133.71 600.95,129.58 591.64,128.66" fill="#4bff00"/><polygon points="604.17,133.71 613.49,134.48 610.2,130.37 600.95,129.58" fill="#3cff00"/><polygon points="613.49,134.48 622.76,135.13 619.4,131.03 610.2,130.37" fill="#2eff00"/><polygon points="622.76,135.13 631.97,135.64 628.54,131.55 619.4,131.03" fill="#21ff00"/><polygon points="631.97,135.64 641.13,136.02 637.63,131.95 628.54,131.55" fill="#15ff00"/><polygon points="641.13,136.02 650.24,136.28 646.68,132.22 637.63,131.95" fill="#0aff00"/><polygon points="458.46,109.37 468.94,112.33 466.77,108.06 456.37,105.1" fill="#ff7700"/><polygon points="468.94,112.33 479.34,115.14 477.08,110.87 466.77,108.06" fill="#ff9500"/><polygon points="479.34,115.14 489.65,117.78 487.3,113.51 477.08,110.87" fill="#ffb200"/><polygon points="489.65,117.78 499.87,120.27 497.44,116 487.3,113.51" fill="#ffcd00"/><polygon points="499.87,120.27 510.02,122.6 507.5,118.34 497.44,116" fill="#ffe800"/><polygon points="510.02,122.6 520.08,124.79 517.48,120.52 507.5,118.34" fill="#fcff00"/><polygon points="520.08,124.79 530.06,126.82 527.39,122.56 517.48,120.52" fill="#e3ff00"/><polygon points="530.06,126.82 539.97,128.7 537.22,124.45 527.39,122.56" fill="#ccff00"/><polygon points="539.97,128.7 549.81,130.44 546.98,126.19 537.22,124.45" fill="#b5ff00"/><polygon points="549.81,130.44 559.58,132.03 556.67,127.79 546.98,126.19" fill="#a0ff00"/><polygon points="559.58,132.03 569.28,133.48 566.3,129.25 556.67,127.79" fill="#8cff00"/><polygon points="569.28,133.48 578.92,134.79 575.86,130.57 566.3,129.25" fill="#78ff00"/><polygon points="578.92,134.79 588.49,135.97 585.36,131.75 575.86,130.57" fill="#66ff00"/><polygon points="588.49,135.97 598,137 594.79,132.8 585.36,131.75" fill="#55ff00"/><polygon points="598,137 607.45,137.9 604.17,133.71 594.79,132.8" fill="#45ff00"/><polygon points="607.45,137.9 616.84,138.66 613.49,134.48 604.17,133.71" fill="#36ff00"/><polygon points="616.84,138.66 626.18,139.29 622.76,135.13 613.49,134.48" fill="#28ff00"/><polygon points="626.18,139.29 635.46,139.79 631.97,135.64 622.76,135.13" fill="#1bff00"/><polygon points="635.46,139.79 644.69,140.15 641.13,136.02 631.97,135.64" fill="#0fff00"/><polygon points="644.69,140.15 653.87,140.39 650.24,136.28 641.13,136.02" fill="#05ff00"/><polygon points="460.58,113.71 471.16,116.67 468.94,112.33 458.46,109.37" fill="#ff7d00"/><polygon points="471.16,116.67 481.64,119.48 479.34,115.14 468.94,112.33" fill="#ff9b00"/><polygon points="481.64,119.48 492.04,122.12 489.65,117.78 479.34,115.14" fill="#ffb800"/><polygon points="492.04,122.12 502.35,124.61 499.87,120.27 489.65,117.78" fill="#ffd400"/><polygon points="502.35,124.61 512.57,126.94 510.02,122.6 499.87,120.27" fill="#ffef00"/><polygon points="512.57,126.94 522.72,129.12 520.08,124.79 510.02,122.6" fill="#f6ff00"/><polygon points="522.72,129.12 532.79,131.15 530.06,126.82 520.08,124.79" fill="#ddff00"/><polygon points="532.79,131.15 542.78,133.03 539.97,128.7 530.06,126.82" fill="#c5ff00"/><polygon points="542.78,133.03 552.69,134.76 549.81,130.44 539.97,128.7" fill="#afff00"/><polygon points="552.69,134.76 562.54,136.34 559.58,132.03 549.81,130.44" fill="#9aff00"/><polygon points="562.54,136.34 572.32,137.79 569.28,133.48 559.58,132.03" fill="#85ff00"/><polygon points="572.32,137.79 582.03,139.09 578.92,134.79 569.28,133.48" fill="#72ff00"/><polygon points="582.03,139.09 591.68,140.25 588.49,135.97 578.92,134.79" fill="#60ff00"/><polygon points="591.68,140.25 601.26,141.27 598,137 588.49,135.97" fill="#4fff00"/><polygon points="601.26,141.27 610.78,142.15 607.45,137.9 598,137" fill="#3fff00"/><polygon points="610.78,142.15 620.25,142.9 616.84,138.66 607.45,137.9" fill="#30ff00"/><polygon points="620.25,142.9 629.66,143.52 626.18,139.29 616.84,138.66" fill="#22ff00"/><polygon points="629.66,143.52 639.01,144 635.46,139.79 626.18,139.29" fill="#15ff00"/><polygon points="639.01,144 648.31,144.35 644.69,140.15 635.46,139.79" fill="#09ff00"/><polygon points="648.31,144.35 657.56,144.57 653.87,140.39 644.69,140.15" fill="#00ff01"/><polygon points="462.75,118.12 473.42,121.09 471.16,116.67 460.58,113.71" fill="#ff8400"/><polygon points="473.42,121.09 483.99,123.89 481.64,119.48 471.16,116.67" fill="#ffa200"/><polygon points="483.99,123.89 494.47,126.54 492.04,122.12 481.64,119.48" fill="#ffbf00"/><polygon points="494.47,126.54 504.87,129.02 502.35,124.61 492.04,122.12" fill="#ffdb00"/><polygon points="504.87,129.02 515.18,131.35 512.57,126.94 502.35,124.61" fill="#fff500"/><polygon points="515.18,131.35 525.41,133.53 522.72,129.12 512.57,126.94" fill="#efff00"/><polygon points="525.41,133.53 535.56,135.55 532.79,131.15 522.72,129.12" fill="#d7ff00"/><polygon points="535.56,135.55 545.63,137.42 542.78,133.03 532.79,131.15" fill="#bfff00"/><polygon points="545.63,137.42 555.63,139.15 552.69,134.76 542.78,133.03" fill="#a9ff00"/><polygon points="555.63,139.15 565.55,140.72 562.54,136.34 552.69,134.76" fill="#93ff00"/><polygon points="565.55,140.72 575.41,142.16 572.32,137.79 562.54,136.34" fill="#7fff00"/><polygon points="575.41,142.16 585.2,143.45 582.03,139.09 572.32,137.79" fill="#6cff00"/><polygon points="585.2,143.45 594.92,144.6 591.68,140.25 582.03,139.09" fill="#5aff00"/><polygon points="594.92,144.6 604.58,145.61 601.26,141.27 591.68,140.25" fill="#49ff00"/><polygon points="604.58,145.61 614.18,146.48 610.78,142.15 601.26,141.27" fill="#39ff00"/><polygon points="614.18,146.48 623.72,147.21 620.25,142.9 610.78,142.15" fill="#2aff00"/><polygon points="623.72,147.21 633.2,147.81 629.66,143.52 620.25,142.9" fill="#1cff00"/><polygon points="633.2,147.81 642.63,148.28 639.01,144 629.66,143.52" fill="#0fff00"/><polygon points="642.63,148.28 652,148.62 648.31,144.35 639.01,144" fill="#04ff00"/><polygon points="652,148.62 661.32,148.82 657.56,144.57 648.31,144.35" fill="#00ff07"/></g>
<circle cx="466.8" cy="271.1" r="1.25" fill="#000"/>
<circle cx="514.3" cy="264.65" r="1.25" fill="#000"/>
<circle cx="561.8" cy="258.2" r="1.25" fill="#000"/>
<circle cx="609.3" cy="251.75" r="1.25" fill="#000"/>
<circle cx="656.8" cy="245.3" r="1.25" fill="#000"/>
<circle cx="466.8" cy="271.1" r="1.25" fill="#000"/>
<circle cx="459.84" cy="254.94" r="1.25" fill="#000"/>
<circle cx="452.88" cy="238.78" r="1.25" fill="#000"/>
<circle cx="445.92" cy="222.62" r="1.25" fill="#000"/>
<circle cx="438.96" cy="206.46" r="1.25" fill="#000"/>
<circle cx="432" cy="190.3" r="1.25" fill="#000"/>
<circle cx="430.38" cy="150.63" r="1.25" fill="#000"/>
<circle cx="429.52" cy="129.46" r="1.25" fill="#000"/>
<circle cx="428.65" cy="108.29" r="1.25" fill="#000"/>
<circle cx="427.79" cy="87.11" r="1.25" fill="#000"/>
<circle cx="426.93" cy="65.94" r="1.25" fill="#000"/>
<circle cx="426.06" cy="44.77" r="1.25" fill="#000"/>
<circle cx="425.2" cy="23.6" r="1.25" fill="#000"/>
<g font-size="10.5" fill="#222"><text x="410.68" y="147.61" text-anchor="middle">0.000</text><text x="409.82" y="126.44" text-anchor="middle">0.200</text><text x="408.95" y="105.27" text-anchor="middle">0.400</text><text x="408.09" y="84.09" text-anchor="middle">0.600</text><text x="407.23" y="62.92" text-anchor="middle">0.800</text><text x="406.36" y="41.75" text-anchor="middle">1.000</text><text x="405.5" y="20.58" text-anchor="middle">1.200</text><text x="479.5" y="283.28" text-anchor="middle">15</text><text x="527" y="276.83" text-anchor="middle">20</text><text x="574.5" y="270.38" text-anchor="middle">25</text><text x="622" y="263.93" text-anchor="middle">30</text><text x="669.5" y="257.48" text-anchor="middle">35</text><text x="454.6" y="283.38" text-anchor="middle">10</text><text x="447.64" y="267.22" text-anchor="middle">16</text><text x="440.68" y="251.06" text-anchor="middle">22</text><text x="433.72" y="234.9" text-anchor="middle">28</text><text x="426.76" y="218.74" text-anchor="middle">34</text><text x="419.8" y="202.58" text-anchor="middle">40</text></g>
<text x="386.3" y="109.6" font-size="9" fill="#222" text-anchor="middle" transform="rotate(-90 386.3 109.6)">Desirability</text>
<text x="391.8" y="244.3" font-size="8.8" fill="#222" text-anchor="middle">B: Contact time (min)</text>
<text x="582.5" y="297.2" font-size="9" fill="#222" text-anchor="middle">A: Initial conc (mg/L)</text>
<path d="M435.8 11.9L435.8 44.6" stroke="#333" stroke-width="0.6" fill="none"/><rect x="419.5" y="1.0" width="16.30000000000001" height="10.9" fill="#fff" stroke="#555" stroke-width="0.6"/><text x="427.65" y="8.25" font-size="5.6" fill="#333" text-anchor="middle">1.000</text>
<path d="M437.6 194.1L441 200.4M436.6 201.4L438.1 205" stroke="#e8141c" stroke-width="1.2" fill="none"/>
<clipPath id="cp3"><rect x="0" y="314" width="336" height="313"/></clipPath><g clip-path="url(#cp3)"><path d="M86.02 493.54L247.28 482.15M247.28 482.15L304.16 536.48M85.49 475.72L247.58 464.91M247.58 464.91L304.91 516.42M84.96 457.9L247.88 447.68M247.88 447.68L305.66 496.37M84.42 440.08L248.19 430.44M248.19 430.44L306.41 476.31M83.89 422.26L248.49 413.21M248.49 413.21L307.16 456.26M83.36 404.44L248.79 395.97M248.79 395.97L307.9 436.21M82.83 386.62L249.1 378.74M249.1 378.74L308.65 416.15M82.3 368.8L249.4 361.5M249.4 361.5L309.4 396.1M87.2 533.2L82.3 368.8M118.27 491.27L115.72 367.34M150.52 488.99L149.14 365.88M182.77 486.71L182.56 364.42M215.02 484.43L215.98 362.96M246.6 520.5L249.4 361.5M302.5 581.1L309.4 396.1M292.79 525.61L297.4 389.18M281.41 514.74L285.4 382.26M270.03 503.88L273.4 375.34M258.65 493.01L261.4 368.42" fill="none" stroke="#222" stroke-width="0.72"/>
<polygon points="87.2,533.2 246.6,520.5 302.5,581.1 115.6,599.7" fill="#646464" stroke="#000" stroke-width="0.9"/>
<path d="M178.41 525.98L177.54 525.91M180.63 526.15L178.41 525.98M182.85 526.32L181.95 526.26M181.95 526.26L180.63 526.15M185.07 526.48L182.85 526.32M187.28 526.64L186.55 526.59M186.55 526.59L185.07 526.48M189.49 526.78L187.28 526.64M191.69 526.93L191.36 526.9M191.36 526.9L189.49 526.78M193.9 527.06L191.69 526.93M196.1 527.19L193.9 527.06M198.3 527.31L196.37 527.21M196.37 527.21L196.1 527.19M200.49 527.43L198.3 527.31M202.68 527.54L201.62 527.49M201.62 527.49L200.49 527.43M204.87 527.65L202.68 527.54M207.06 527.75L204.87 527.65M209.24 527.84L207.11 527.75M207.11 527.75L207.06 527.75M211.42 527.94L209.24 527.84M213.6 528.02L212.88 527.99M212.88 527.99L211.42 527.94M215.77 528.1L213.6 528.02M217.94 528.18L215.77 528.1M220.11 528.25L218.94 528.21M218.94 528.21L217.94 528.18M222.28 528.32L220.11 528.25M224.44 528.38L222.28 528.32M226.6 528.44L225.31 528.41M225.31 528.41L224.44 528.38M228.76 528.49L226.6 528.44M230.91 528.55L228.76 528.49M233.06 528.59L232.05 528.57M232.05 528.57L230.91 528.55M235.21 528.63L233.06 528.59M237.36 528.67L235.21 528.63M239.5 528.71L239.19 528.7M239.19 528.7L237.36 528.67M241.64 528.74L239.5 528.71M243.77 528.76L241.64 528.74M245.91 528.79L243.77 528.76M248.04 528.81L246.78 528.79M246.78 528.79L245.91 528.79M250.16 528.82L248.04 528.81M252.29 528.83L250.16 528.82M254.41 528.84L252.29 528.83" fill="none" stroke="#e8141c" stroke-width="1.55" stroke-linecap="butt"/>
<path d="M94.63 545.53L93.85 545.46M93.85 545.46L92.32 545.31M96.94 545.74L94.63 545.53M99.25 545.95L98.24 545.86M98.24 545.86L96.94 545.74M101.57 546.15L99.25 545.95M103.88 546.34L102.77 546.25M102.77 546.25L101.57 546.15M106.19 546.53L103.88 546.34M108.5 546.71L107.47 546.63M107.47 546.63L106.19 546.53M110.81 546.89L108.5 546.71M113.11 547.06L112.32 547M112.32 547L110.81 546.89M115.42 547.22L113.11 547.06M117.73 547.38L117.34 547.35M117.34 547.35L115.42 547.22M120.03 547.53L117.73 547.38M122.34 547.68L120.03 547.53M124.64 547.82L122.54 547.69M122.54 547.69L122.34 547.68M126.95 547.96L124.64 547.82M129.25 548.1L127.94 548.02M127.94 548.02L126.95 547.96M131.55 548.22L129.25 548.1M133.85 548.35L133.52 548.33M133.52 548.33L131.55 548.22M136.15 548.47L133.85 548.35M138.45 548.58L136.15 548.47M140.75 548.69L139.33 548.63M139.33 548.63L138.45 548.58M143.04 548.8L140.75 548.69M145.34 548.9L143.04 548.8M147.63 549L145.35 548.9M145.35 548.9L145.34 548.9M149.92 549.09L147.63 549M152.21 549.18L151.62 549.16M151.62 549.16L149.92 549.09M154.5 549.26L152.21 549.18M156.79 549.34L154.5 549.26M159.08 549.42L158.14 549.39M158.14 549.39L156.79 549.34M161.36 549.49L159.08 549.42M163.65 549.56L161.36 549.49M165.93 549.63L164.94 549.6M164.94 549.6L163.65 549.56M168.21 549.69L165.93 549.63M170.49 549.75L168.21 549.69M172.77 549.81L172.04 549.79M172.04 549.79L170.49 549.75M175.04 549.86L172.77 549.81M177.32 549.9L175.04 549.86M179.59 549.95L179.46 549.95M179.46 549.95L177.32 549.9M181.86 549.99L179.59 549.95M184.13 550.03L181.86 549.99M186.39 550.06L184.13 550.03M188.66 550.09L187.24 550.07M187.24 550.07L186.39 550.06M190.92 550.12L188.66 550.09M193.18 550.14L190.92 550.12M195.44 550.17L195.42 550.17M195.42 550.17L193.18 550.14M197.7 550.18L195.44 550.17M199.95 550.2L197.7 550.18M202.21 550.21L199.95 550.2M204.46 550.22L204.04 550.22M204.04 550.22L202.21 550.21M206.71 550.23L204.46 550.22M208.95 550.23L206.71 550.23M211.2 550.23L208.95 550.23M213.44 550.23L213.16 550.23M213.16 550.23L211.2 550.23M215.68 550.23L213.44 550.23M217.92 550.22L215.68 550.23M220.16 550.21L217.92 550.22M222.39 550.19L220.16 550.21M224.62 550.18L222.84 550.19M222.84 550.19L222.39 550.19M226.85 550.16L224.62 550.18M229.08 550.14L226.85 550.16M231.3 550.11L229.08 550.14M233.52 550.09L233.19 550.09M233.19 550.09L231.3 550.11M235.74 550.06L233.52 550.09M237.96 550.03L235.74 550.06M240.17 549.99L237.96 550.03M242.39 549.96L240.17 549.99M244.6 549.92L244.31 549.92M244.31 549.92L242.39 549.96M246.8 549.88L244.6 549.92M249.01 549.83L246.8 549.88M251.21 549.79L249.01 549.83M253.41 549.74L251.21 549.79M255.6 549.69L253.41 549.74M257.8 549.64L256.38 549.67M256.38 549.67L255.6 549.69M259.99 549.58L257.8 549.64M262.17 549.52L259.99 549.58M264.36 549.46L262.17 549.52M266.54 549.4L264.36 549.46M268.72 549.34L266.54 549.4M270.9 549.27L269.64 549.31M269.64 549.31L268.72 549.34M273.07 549.2L270.9 549.27" fill="none" stroke="#f5a623" stroke-width="1.55" stroke-linecap="butt"/>
<path d="M104.68 568.56L103.41 568.52M103.41 568.52L102.29 568.48M107.07 568.64L104.68 568.56M109.47 568.71L107.07 568.64M111.86 568.78L110.57 568.75M110.57 568.75L109.47 568.71M114.25 568.85L111.86 568.78M116.64 568.92L114.25 568.85M119.03 568.98L118.01 568.95M118.01 568.95L116.64 568.92M121.42 569.03L119.03 568.98M123.8 569.09L121.42 569.03M126.19 569.14L125.73 569.13M125.73 569.13L123.8 569.09M128.57 569.19L126.19 569.14M130.96 569.23L128.57 569.19M133.34 569.28L130.96 569.23M135.72 569.32L133.77 569.28M133.77 569.28L133.34 569.28M138.1 569.35L135.72 569.32M140.48 569.38L138.1 569.35M142.86 569.41L142.16 569.41M142.16 569.41L140.48 569.38M145.24 569.44L142.86 569.41M147.61 569.46L145.24 569.44M149.99 569.49L147.61 569.46M152.36 569.5L150.91 569.49M150.91 569.49L149.99 569.49M154.73 569.52L152.36 569.5M157.1 569.53L154.73 569.52M159.47 569.54L157.1 569.53M161.84 569.55L160.07 569.54M160.07 569.54L159.47 569.54M164.2 569.55L161.84 569.55M166.57 569.55L164.2 569.55M168.93 569.55L166.57 569.55M171.29 569.55L169.69 569.55M169.69 569.55L168.93 569.55M173.65 569.54L171.29 569.55M176.01 569.54L173.65 569.54M178.36 569.52L176.01 569.54M180.72 569.51L179.81 569.52M179.81 569.52L178.36 569.52M183.07 569.49L180.72 569.51M185.42 569.47L183.07 569.49M187.77 569.45L185.42 569.47M190.11 569.43L187.77 569.45M192.46 569.4L190.49 569.43M190.49 569.43L190.11 569.43M194.8 569.37L192.46 569.4M197.14 569.34L194.8 569.37M199.48 569.31L197.14 569.34M201.81 569.28L199.48 569.31M204.15 569.24L201.83 569.27M201.83 569.27L201.81 569.28M206.48 569.2L204.15 569.24M208.81 569.15L206.48 569.2M211.14 569.11L208.81 569.15M213.46 569.06L211.14 569.11M215.79 569.01L213.94 569.05M213.94 569.05L213.46 569.06M218.11 568.96L215.79 569.01M220.43 568.91L218.11 568.96M222.74 568.85L220.43 568.91M225.06 568.79L222.74 568.85M227.37 568.73L226.94 568.74M226.94 568.74L225.06 568.79M229.68 568.67L227.37 568.73M231.98 568.6L229.68 568.67M234.29 568.54L231.98 568.6M236.59 568.47L234.29 568.54M238.89 568.4L236.59 568.47M241.19 568.33L241.03 568.33M241.03 568.33L238.89 568.4M243.48 568.25L241.19 568.33M245.77 568.17L243.48 568.25M248.06 568.1L245.77 568.17M250.35 568.01L248.06 568.1M252.63 567.93L250.35 568.01M254.91 567.85L252.63 567.93M257.19 567.76L256.52 567.79M256.52 567.79L254.91 567.85M259.47 567.67L257.19 567.76M261.74 567.58L259.47 567.67M264.01 567.49L261.74 567.58M266.28 567.39L264.01 567.49M268.55 567.3L266.28 567.39M270.81 567.2L268.55 567.3M273.07 567.1L270.81 567.2M275.32 567L273.85 567.07M273.85 567.07L273.07 567.1M277.58 566.9L275.32 567M279.83 566.79L277.58 566.9M282.07 566.68L279.83 566.79M284.32 566.58L282.07 566.68M286.56 566.47L284.32 566.58M288.8 566.35L286.56 566.47" fill="none" stroke="#a8e61d" stroke-width="1.55" stroke-linecap="butt"/>
<path d="M113.12 587.9L110.64 587.89M115.6 587.91L113.14 587.9M113.14 587.9L113.12 587.9M118.08 587.92L115.6 587.91M120.56 587.93L118.08 587.92M123.04 587.93L123 587.93M123 587.93L120.56 587.93M125.52 587.93L123.04 587.93M127.99 587.93L125.52 587.93M130.46 587.93L127.99 587.93M132.94 587.92L130.46 587.93M135.41 587.91L133.3 587.92M133.3 587.92L132.94 587.92M137.88 587.9L135.41 587.91M140.35 587.88L137.88 587.9M142.81 587.87L140.35 587.88M145.28 587.85L144.09 587.86M144.09 587.86L142.81 587.87M147.74 587.83L145.28 587.85M150.2 587.8L147.74 587.83M152.66 587.78L150.2 587.8M155.12 587.75L152.66 587.78M157.58 587.72L155.42 587.75M155.42 587.75L155.12 587.75M160.04 587.68L157.58 587.72M162.49 587.65L160.04 587.68M164.94 587.61L162.49 587.65M167.39 587.57L167.38 587.57M167.38 587.57L164.94 587.61M169.84 587.53L167.39 587.57M172.29 587.49L169.84 587.53M174.73 587.44L172.29 587.49M177.17 587.39L174.73 587.44M179.62 587.34L177.17 587.39M182.05 587.29L180.04 587.33M180.04 587.33L179.62 587.34M184.49 587.23L182.05 587.29M186.92 587.17L184.49 587.23M189.36 587.11L186.92 587.17M191.79 587.05L189.36 587.11M194.22 586.99L193.52 587.01M193.52 587.01L191.79 587.05M196.64 586.92L194.22 586.99M199.07 586.86L196.64 586.92M201.49 586.79L199.07 586.86M203.91 586.71L201.49 586.79M206.33 586.64L203.91 586.71M208.74 586.56L207.97 586.59M207.97 586.59L206.33 586.64M211.15 586.49L208.74 586.56M213.56 586.41L211.15 586.49M215.97 586.32L213.56 586.41M218.38 586.24L215.97 586.32M220.78 586.16L218.38 586.24M223.18 586.07L220.78 586.16M225.58 585.98L223.59 586.05M223.59 586.05L223.18 586.07M227.98 585.89L225.58 585.98M230.37 585.79L227.98 585.89M232.76 585.7L230.37 585.79M235.15 585.6L232.76 585.7M237.54 585.5L235.15 585.6M239.92 585.4L237.54 585.5M242.3 585.3L240.7 585.37M240.7 585.37L239.92 585.4M244.68 585.2L242.3 585.3M247.05 585.09L244.68 585.2M249.42 584.98L247.05 585.09M251.79 584.87L249.42 584.98M254.16 584.76L251.79 584.87M256.52 584.65L254.16 584.76M258.89 584.54L256.52 584.65M261.24 584.42L259.74 584.5M259.74 584.5L258.89 584.54M263.6 584.3L261.24 584.42M265.95 584.18L263.6 584.3M268.3 584.06L265.95 584.18M270.65 583.94L268.3 584.06M272.99 583.81L270.65 583.94M275.33 583.69L272.99 583.81M277.67 583.56L275.33 583.69M280.01 583.43L277.67 583.56M281.53 583.35L280.01 583.43" fill="none" stroke="#22dd22" stroke-width="1.55" stroke-linecap="butt"/>
<g stroke="#000" stroke-opacity="1" stroke-width="0.5" stroke-linejoin="round"><polygon points="84.4,401.89 93.05,400.32 91.71,396.94 83.13,398.51" fill="#ff6300"/><polygon points="93.05,400.32 101.67,398.78 100.27,395.41 91.71,396.94" fill="#ff5800"/><polygon points="101.67,398.78 110.27,397.28 108.8,393.92 100.27,395.41" fill="#ff4e00"/><polygon points="110.27,397.28 118.83,395.81 117.3,392.45 108.8,393.92" fill="#ff4400"/><polygon points="118.83,395.81 127.36,394.37 125.77,391.03 117.3,392.45" fill="#ff3a00"/><polygon points="127.36,394.37 135.87,392.97 134.21,389.63 125.77,391.03" fill="#ff3000"/><polygon points="135.87,392.97 144.34,391.6 142.62,388.27 134.21,389.63" fill="#ff2700"/><polygon points="144.34,391.6 152.79,390.27 151.01,386.94 142.62,388.27" fill="#ff1e00"/><polygon points="152.79,390.27 161.21,388.97 159.36,385.64 151.01,386.94" fill="#ff1500"/><polygon points="161.21,388.97 169.59,387.7 167.69,384.38 159.36,385.64" fill="#ff0d00"/><polygon points="169.59,387.7 177.95,386.47 175.98,383.15 167.69,384.38" fill="#ff0400"/><polygon points="177.95,386.47 186.28,385.26 184.25,381.95 175.98,383.15" fill="#ff0000"/><polygon points="186.28,385.26 194.57,384.09 192.49,380.79 184.25,381.95" fill="#ff0000"/><polygon points="194.57,384.09 202.84,382.96 200.7,379.65 192.49,380.79" fill="#ff0000"/><polygon points="202.84,382.96 211.08,381.85 208.88,378.55 200.7,379.65" fill="#ff0000"/><polygon points="211.08,381.85 219.29,380.78 217.03,377.49 208.88,378.55" fill="#ff0000"/><polygon points="219.29,380.78 227.47,379.74 225.15,376.45 217.03,377.49" fill="#ff0000"/><polygon points="227.47,379.74 235.62,378.74 233.24,375.45 225.15,376.45" fill="#ff0000"/><polygon points="235.62,378.74 243.73,377.76 241.3,374.47 233.24,375.45" fill="#ff0000"/><polygon points="243.73,377.76 251.82,376.82 249.34,373.53 241.3,374.47" fill="#ff0000"/><polygon points="85.7,405.46 94.42,403.88 93.05,400.32 84.4,401.89" fill="#ff7200"/><polygon points="94.42,403.88 103.1,402.33 101.67,398.78 93.05,400.32" fill="#ff6800"/><polygon points="103.1,402.33 111.76,400.82 110.27,397.28 101.67,398.78" fill="#ff5e00"/><polygon points="111.76,400.82 120.39,399.35 118.83,395.81 110.27,397.28" fill="#ff5400"/><polygon points="120.39,399.35 128.99,397.9 127.36,394.37 118.83,395.81" fill="#ff4a00"/><polygon points="128.99,397.9 137.55,396.5 135.87,392.97 127.36,394.37" fill="#ff4000"/><polygon points="137.55,396.5 146.09,395.12 144.34,391.6 135.87,392.97" fill="#ff3700"/><polygon points="146.09,395.12 154.6,393.78 152.79,390.27 144.34,391.6" fill="#ff2e00"/><polygon points="154.6,393.78 163.08,392.48 161.21,388.97 152.79,390.27" fill="#ff2600"/><polygon points="163.08,392.48 171.53,391.2 169.59,387.7 161.21,388.97" fill="#ff1d00"/><polygon points="171.53,391.2 179.94,389.96 177.95,386.47 169.59,387.7" fill="#ff1500"/><polygon points="179.94,389.96 188.33,388.76 186.28,385.26 177.95,386.47" fill="#ff0d00"/><polygon points="188.33,388.76 196.69,387.58 194.57,384.09 186.28,385.26" fill="#ff0600"/><polygon points="196.69,387.58 205.02,386.44 202.84,382.96 194.57,384.09" fill="#ff0000"/><polygon points="205.02,386.44 213.31,385.34 211.08,381.85 202.84,382.96" fill="#ff0000"/><polygon points="213.31,385.34 221.58,384.26 219.29,380.78 211.08,381.85" fill="#ff0000"/><polygon points="221.58,384.26 229.82,383.22 227.47,379.74 219.29,380.78" fill="#ff0000"/><polygon points="229.82,383.22 238.02,382.21 235.62,378.74 227.47,379.74" fill="#ff0000"/><polygon points="238.02,382.21 246.2,381.23 243.73,377.76 235.62,378.74" fill="#ff0000"/><polygon points="246.2,381.23 254.34,380.28 251.82,376.82 243.73,377.76" fill="#ff0000"/><polygon points="87.02,409.21 95.81,407.63 94.42,403.88 85.7,405.46" fill="#ff8300"/><polygon points="95.81,407.63 104.56,406.07 103.1,402.33 94.42,403.88" fill="#ff7900"/><polygon points="104.56,406.07 113.28,404.56 111.76,400.82 103.1,402.33" fill="#ff6f00"/><polygon points="113.28,404.56 121.97,403.07 120.39,399.35 111.76,400.82" fill="#ff6500"/><polygon points="121.97,403.07 130.64,401.63 128.99,397.9 120.39,399.35" fill="#ff5b00"/><polygon points="130.64,401.63 139.27,400.21 137.55,396.5 128.99,397.9" fill="#ff5200"/><polygon points="139.27,400.21 147.87,398.83 146.09,395.12 137.55,396.5" fill="#ff4900"/><polygon points="147.87,398.83 156.44,397.48 154.6,393.78 146.09,395.12" fill="#ff4000"/><polygon points="156.44,397.48 164.98,396.17 163.08,392.48 154.6,393.78" fill="#ff3700"/><polygon points="164.98,396.17 173.49,394.89 171.53,391.2 163.08,392.48" fill="#ff2f00"/><polygon points="173.49,394.89 181.97,393.65 179.94,389.96 171.53,391.2" fill="#ff2700"/><polygon points="181.97,393.65 190.42,392.44 188.33,388.76 179.94,389.96" fill="#ff1f00"/><polygon points="190.42,392.44 198.84,391.26 196.69,387.58 188.33,388.76" fill="#ff1800"/><polygon points="198.84,391.26 207.22,390.11 205.02,386.44 196.69,387.58" fill="#ff1100"/><polygon points="207.22,390.11 215.58,389 213.31,385.34 205.02,386.44" fill="#ff0a00"/><polygon points="215.58,389 223.91,387.92 221.58,384.26 213.31,385.34" fill="#ff0300"/><polygon points="223.91,387.92 232.2,386.87 229.82,383.22 221.58,384.26" fill="#ff0000"/><polygon points="232.2,386.87 240.46,385.86 238.02,382.21 229.82,383.22" fill="#ff0000"/><polygon points="240.46,385.86 248.7,384.88 246.2,381.23 238.02,382.21" fill="#ff0000"/><polygon points="248.7,384.88 256.9,383.93 254.34,380.28 246.2,381.23" fill="#ff0000"/><polygon points="88.37,413.17 97.22,411.57 95.81,407.63 87.02,409.21" fill="#ff9500"/><polygon points="97.22,411.57 106.04,410.01 104.56,406.07 95.81,407.63" fill="#ff8b00"/><polygon points="106.04,410.01 114.83,408.49 113.28,404.56 104.56,406.07" fill="#ff8100"/><polygon points="114.83,408.49 123.59,407 121.97,403.07 113.28,404.56" fill="#ff7700"/><polygon points="123.59,407 132.32,405.54 130.64,401.63 121.97,403.07" fill="#ff6e00"/><polygon points="132.32,405.54 141.01,404.12 139.27,400.21 130.64,401.63" fill="#ff6400"/><polygon points="141.01,404.12 149.68,402.73 147.87,398.83 139.27,400.21" fill="#ff5b00"/><polygon points="149.68,402.73 158.31,401.38 156.44,397.48 147.87,398.83" fill="#ff5300"/><polygon points="158.31,401.38 166.92,400.06 164.98,396.17 156.44,397.48" fill="#ff4a00"/><polygon points="166.92,400.06 175.49,398.78 173.49,394.89 164.98,396.17" fill="#ff4200"/><polygon points="175.49,398.78 184.03,397.52 181.97,393.65 173.49,394.89" fill="#ff3a00"/><polygon points="184.03,397.52 192.54,396.31 190.42,392.44 181.97,393.65" fill="#ff3200"/><polygon points="192.54,396.31 201.02,395.12 198.84,391.26 190.42,392.44" fill="#ff2b00"/><polygon points="201.02,395.12 209.47,393.97 207.22,390.11 198.84,391.26" fill="#ff2400"/><polygon points="209.47,393.97 217.88,392.86 215.58,389 207.22,390.11" fill="#ff1d00"/><polygon points="217.88,392.86 226.27,391.77 223.91,387.92 215.58,389" fill="#ff1700"/><polygon points="226.27,391.77 234.62,390.72 232.2,386.87 223.91,387.92" fill="#ff1100"/><polygon points="234.62,390.72 242.94,389.7 240.46,385.86 232.2,386.87" fill="#ff0b00"/><polygon points="242.94,389.7 251.23,388.72 248.7,384.88 240.46,385.86" fill="#ff0500"/><polygon points="251.23,388.72 259.49,387.76 256.9,383.93 248.7,384.88" fill="#ff0000"/><polygon points="89.74,417.32 98.66,415.72 97.22,411.57 88.37,413.17" fill="#ffa900"/><polygon points="98.66,415.72 107.55,414.15 106.04,410.01 97.22,411.57" fill="#ff9e00"/><polygon points="107.55,414.15 116.4,412.61 114.83,408.49 106.04,410.01" fill="#ff9400"/><polygon points="116.4,412.61 125.23,411.11 123.59,407 114.83,408.49" fill="#ff8b00"/><polygon points="125.23,411.11 134.02,409.65 132.32,405.54 123.59,407" fill="#ff8100"/><polygon points="134.02,409.65 142.78,408.22 141.01,404.12 132.32,405.54" fill="#ff7800"/><polygon points="142.78,408.22 151.52,406.83 149.68,402.73 141.01,404.12" fill="#ff6f00"/><polygon points="151.52,406.83 160.21,405.47 158.31,401.38 149.68,402.73" fill="#ff6700"/><polygon points="160.21,405.47 168.88,404.14 166.92,400.06 158.31,401.38" fill="#ff5e00"/><polygon points="168.88,404.14 177.52,402.85 175.49,398.78 166.92,400.06" fill="#ff5600"/><polygon points="177.52,402.85 186.12,401.59 184.03,397.52 175.49,398.78" fill="#ff4e00"/><polygon points="186.12,401.59 194.69,400.37 192.54,396.31 184.03,397.52" fill="#ff4700"/><polygon points="194.69,400.37 203.23,399.18 201.02,395.12 192.54,396.31" fill="#ff4000"/><polygon points="203.23,399.18 211.74,398.03 209.47,393.97 201.02,395.12" fill="#ff3900"/><polygon points="211.74,398.03 220.22,396.9 217.88,392.86 209.47,393.97" fill="#ff3200"/><polygon points="220.22,396.9 228.66,395.81 226.27,391.77 217.88,392.86" fill="#ff2c00"/><polygon points="228.66,395.81 237.07,394.76 234.62,390.72 226.27,391.77" fill="#ff2600"/><polygon points="237.07,394.76 245.45,393.74 242.94,389.7 234.62,390.72" fill="#ff2000"/><polygon points="245.45,393.74 253.8,392.75 251.23,388.72 242.94,389.7" fill="#ff1a00"/><polygon points="253.8,392.75 262.12,391.79 259.49,387.76 251.23,388.72" fill="#ff1500"/><polygon points="91.14,421.68 100.13,420.06 98.66,415.72 89.74,417.32" fill="#ffbd00"/><polygon points="100.13,420.06 109.08,418.48 107.55,414.15 98.66,415.72" fill="#ffb300"/><polygon points="109.08,418.48 118.01,416.94 116.4,412.61 107.55,414.15" fill="#ffa900"/><polygon points="118.01,416.94 126.9,415.43 125.23,411.11 116.4,412.61" fill="#ffa000"/><polygon points="126.9,415.43 135.76,413.96 134.02,409.65 125.23,411.11" fill="#ff9600"/><polygon points="135.76,413.96 144.59,412.53 142.78,408.22 134.02,409.65" fill="#ff8d00"/><polygon points="144.59,412.53 153.38,411.12 151.52,406.83 142.78,408.22" fill="#ff8400"/><polygon points="153.38,411.12 162.15,409.76 160.21,405.47 151.52,406.83" fill="#ff7c00"/><polygon points="162.15,409.76 170.88,408.42 168.88,404.14 160.21,405.47" fill="#ff7400"/><polygon points="170.88,408.42 179.58,407.13 177.52,402.85 168.88,404.14" fill="#ff6c00"/><polygon points="179.58,407.13 188.24,405.86 186.12,401.59 177.52,402.85" fill="#ff6400"/><polygon points="188.24,405.86 196.88,404.63 194.69,400.37 186.12,401.59" fill="#ff5d00"/><polygon points="196.88,404.63 205.48,403.44 203.23,399.18 194.69,400.37" fill="#ff5600"/><polygon points="205.48,403.44 214.05,402.28 211.74,398.03 203.23,399.18" fill="#ff4f00"/><polygon points="214.05,402.28 222.59,401.15 220.22,396.9 211.74,398.03" fill="#ff4800"/><polygon points="222.59,401.15 231.09,400.05 228.66,395.81 220.22,396.9" fill="#ff4200"/><polygon points="231.09,400.05 239.56,398.99 237.07,394.76 228.66,395.81" fill="#ff3c00"/><polygon points="239.56,398.99 248,397.96 245.45,393.74 237.07,394.76" fill="#ff3600"/><polygon points="248,397.96 256.41,396.97 253.8,392.75 245.45,393.74" fill="#ff3100"/><polygon points="256.41,396.97 264.78,396.01 262.12,391.79 253.8,392.75" fill="#ff2b00"/><polygon points="92.57,426.24 101.62,424.62 100.13,420.06 91.14,421.68" fill="#ffd300"/><polygon points="101.62,424.62 110.65,423.03 109.08,418.48 100.13,420.06" fill="#ffc900"/><polygon points="110.65,423.03 119.64,421.48 118.01,416.94 109.08,418.48" fill="#ffbf00"/><polygon points="119.64,421.48 128.6,419.96 126.9,415.43 118.01,416.94" fill="#ffb600"/><polygon points="128.6,419.96 137.52,418.48 135.76,413.96 126.9,415.43" fill="#ffad00"/><polygon points="137.52,418.48 146.42,417.03 144.59,412.53 135.76,413.96" fill="#ffa400"/><polygon points="146.42,417.03 155.28,415.62 153.38,411.12 144.59,412.53" fill="#ff9b00"/><polygon points="155.28,415.62 164.11,414.25 162.15,409.76 153.38,411.12" fill="#ff9300"/><polygon points="164.11,414.25 172.91,412.91 170.88,408.42 162.15,409.76" fill="#ff8a00"/><polygon points="172.91,412.91 181.67,411.6 179.58,407.13 170.88,408.42" fill="#ff8300"/><polygon points="181.67,411.6 190.4,410.33 188.24,405.86 179.58,407.13" fill="#ff7b00"/><polygon points="190.4,410.33 199.1,409.1 196.88,404.63 188.24,405.86" fill="#ff7400"/><polygon points="199.1,409.1 207.76,407.89 205.48,403.44 196.88,404.63" fill="#ff6d00"/><polygon points="207.76,407.89 216.39,406.73 214.05,402.28 205.48,403.44" fill="#ff6600"/><polygon points="216.39,406.73 224.99,405.59 222.59,401.15 214.05,402.28" fill="#ff5f00"/><polygon points="224.99,405.59 233.56,404.49 231.09,400.05 222.59,401.15" fill="#ff5900"/><polygon points="233.56,404.49 242.09,403.43 239.56,398.99 231.09,400.05" fill="#ff5300"/><polygon points="242.09,403.43 250.59,402.39 248,397.96 239.56,398.99" fill="#ff4e00"/><polygon points="250.59,402.39 259.05,401.39 256.41,396.97 248,397.96" fill="#ff4800"/><polygon points="259.05,401.39 267.49,400.43 264.78,396.01 256.41,396.97" fill="#ff4300"/><polygon points="94.02,431.02 103.14,429.38 101.62,424.62 92.57,426.24" fill="#ffea00"/><polygon points="103.14,429.38 112.24,427.78 110.65,423.03 101.62,424.62" fill="#ffe000"/><polygon points="112.24,427.78 121.3,426.22 119.64,421.48 110.65,423.03" fill="#ffd700"/><polygon points="121.3,426.22 130.33,424.7 128.6,419.96 119.64,421.48" fill="#ffcd00"/><polygon points="130.33,424.7 139.32,423.21 137.52,418.48 128.6,419.96" fill="#ffc400"/><polygon points="139.32,423.21 148.28,421.75 146.42,417.03 137.52,418.48" fill="#ffbb00"/><polygon points="148.28,421.75 157.21,420.33 155.28,415.62 146.42,417.03" fill="#ffb300"/><polygon points="157.21,420.33 166.1,418.95 164.11,414.25 155.28,415.62" fill="#ffaa00"/><polygon points="166.1,418.95 174.97,417.6 172.91,412.91 164.11,414.25" fill="#ffa200"/><polygon points="174.97,417.6 183.79,416.29 181.67,411.6 172.91,412.91" fill="#ff9b00"/><polygon points="183.79,416.29 192.59,415.01 190.4,410.33 181.67,411.6" fill="#ff9300"/><polygon points="192.59,415.01 201.35,413.77 199.1,409.1 190.4,410.33" fill="#ff8c00"/><polygon points="201.35,413.77 210.08,412.56 207.76,407.89 199.1,409.1" fill="#ff8500"/><polygon points="210.08,412.56 218.77,411.38 216.39,406.73 207.76,407.89" fill="#ff7e00"/><polygon points="218.77,411.38 227.43,410.24 224.99,405.59 216.39,406.73" fill="#ff7800"/><polygon points="227.43,410.24 236.06,409.14 233.56,404.49 224.99,405.59" fill="#ff7200"/><polygon points="236.06,409.14 244.65,408.06 242.09,403.43 233.56,404.49" fill="#ff6c00"/><polygon points="244.65,408.06 253.21,407.03 250.59,402.39 242.09,403.43" fill="#ff6700"/><polygon points="253.21,407.03 261.73,406.02 259.05,401.39 250.59,402.39" fill="#ff6100"/><polygon points="261.73,406.02 270.23,405.05 267.49,400.43 259.05,401.39" fill="#ff5c00"/><polygon points="95.5,436.01 104.69,434.36 103.14,429.38 94.02,431.02" fill="#fbff00"/><polygon points="104.69,434.36 113.86,432.76 112.24,427.78 103.14,429.38" fill="#fff900"/><polygon points="113.86,432.76 122.99,431.18 121.3,426.22 112.24,427.78" fill="#ffef00"/><polygon points="122.99,431.18 132.08,429.65 130.33,424.7 121.3,426.22" fill="#ffe600"/><polygon points="132.08,429.65 141.15,428.15 139.32,423.21 130.33,424.7" fill="#ffdd00"/><polygon points="141.15,428.15 150.18,426.69 148.28,421.75 139.32,423.21" fill="#ffd400"/><polygon points="150.18,426.69 159.17,425.26 157.21,420.33 148.28,421.75" fill="#ffcc00"/><polygon points="159.17,425.26 168.13,423.86 166.1,418.95 157.21,420.33" fill="#ffc400"/><polygon points="168.13,423.86 177.06,422.51 174.97,417.6 166.1,418.95" fill="#ffbc00"/><polygon points="177.06,422.51 185.95,421.19 183.79,416.29 174.97,417.6" fill="#ffb400"/><polygon points="185.95,421.19 194.81,419.9 192.59,415.01 183.79,416.29" fill="#ffad00"/><polygon points="194.81,419.9 203.64,418.65 201.35,413.77 192.59,415.01" fill="#ffa500"/><polygon points="203.64,418.65 212.43,417.43 210.08,412.56 201.35,413.77" fill="#ff9f00"/><polygon points="212.43,417.43 221.18,416.25 218.77,411.38 210.08,412.56" fill="#ff9800"/><polygon points="221.18,416.25 229.91,415.1 227.43,410.24 218.77,411.38" fill="#ff9200"/><polygon points="229.91,415.1 238.59,413.99 236.06,409.14 227.43,410.24" fill="#ff8c00"/><polygon points="238.59,413.99 247.25,412.91 244.65,408.06 236.06,409.14" fill="#ff8600"/><polygon points="247.25,412.91 255.87,411.86 253.21,407.03 244.65,408.06" fill="#ff8100"/><polygon points="255.87,411.86 264.45,410.85 261.73,406.02 253.21,407.03" fill="#ff7c00"/><polygon points="264.45,410.85 273.01,409.88 270.23,405.05 261.73,406.02" fill="#ff7700"/><polygon points="97,441.22 106.27,439.57 104.69,434.36 95.5,436.01" fill="#e2ff00"/><polygon points="106.27,439.57 115.51,437.95 113.86,432.76 104.69,434.36" fill="#ecff00"/><polygon points="115.51,437.95 124.71,436.37 122.99,431.18 113.86,432.76" fill="#f5ff00"/><polygon points="124.71,436.37 133.87,434.82 132.08,429.65 122.99,431.18" fill="#feff00"/><polygon points="133.87,434.82 143,433.31 141.15,428.15 132.08,429.65" fill="#fff700"/><polygon points="143,433.31 152.1,431.84 150.18,426.69 141.15,428.15" fill="#ffee00"/><polygon points="152.1,431.84 161.16,430.4 159.17,425.26 150.18,426.69" fill="#ffe600"/><polygon points="161.16,430.4 170.19,429 168.13,423.86 159.17,425.26" fill="#ffde00"/><polygon points="170.19,429 179.19,427.63 177.06,422.51 168.13,423.86" fill="#ffd600"/><polygon points="179.19,427.63 188.14,426.3 185.95,421.19 177.06,422.51" fill="#ffcf00"/><polygon points="188.14,426.3 197.07,425 194.81,419.9 185.95,421.19" fill="#ffc700"/><polygon points="197.07,425 205.96,423.75 203.64,418.65 194.81,419.9" fill="#ffc000"/><polygon points="205.96,423.75 214.81,422.52 212.43,417.43 203.64,418.65" fill="#ffba00"/><polygon points="214.81,422.52 223.63,421.33 221.18,416.25 212.43,417.43" fill="#ffb300"/><polygon points="223.63,421.33 232.42,420.18 229.91,415.1 221.18,416.25" fill="#ffad00"/><polygon points="232.42,420.18 241.17,419.05 238.59,413.99 229.91,415.1" fill="#ffa700"/><polygon points="241.17,419.05 249.89,417.97 247.25,412.91 238.59,413.99" fill="#ffa100"/><polygon points="249.89,417.97 258.57,416.92 255.87,411.86 247.25,412.91" fill="#ff9c00"/><polygon points="258.57,416.92 267.21,415.9 264.45,410.85 255.87,411.86" fill="#ff9700"/><polygon points="267.21,415.9 275.82,414.91 273.01,409.88 264.45,410.85" fill="#ff9200"/><polygon points="98.54,446.67 107.88,445 106.27,439.57 97,441.22" fill="#c8ff00"/><polygon points="107.88,445 117.18,443.37 115.51,437.95 106.27,439.57" fill="#d1ff00"/><polygon points="117.18,443.37 126.45,441.77 124.71,436.37 115.51,437.95" fill="#dbff00"/><polygon points="126.45,441.77 135.69,440.21 133.87,434.82 124.71,436.37" fill="#e3ff00"/><polygon points="135.69,440.21 144.89,438.69 143,433.31 133.87,434.82" fill="#ecff00"/><polygon points="144.89,438.69 154.06,437.21 152.1,431.84 143,433.31" fill="#f4ff00"/><polygon points="154.06,437.21 163.19,435.76 161.16,430.4 152.1,431.84" fill="#fdff00"/><polygon points="163.19,435.76 172.29,434.35 170.19,429 161.16,430.4" fill="#fffa00"/><polygon points="172.29,434.35 181.35,432.97 179.19,427.63 170.19,429" fill="#fff200"/><polygon points="181.35,432.97 190.37,431.63 188.14,426.3 179.19,427.63" fill="#ffea00"/><polygon points="190.37,431.63 199.36,430.33 197.07,425 188.14,426.3" fill="#ffe300"/><polygon points="199.36,430.33 208.32,429.06 205.96,423.75 197.07,425" fill="#ffdc00"/><polygon points="208.32,429.06 217.24,427.83 214.81,422.52 205.96,423.75" fill="#ffd600"/><polygon points="217.24,427.83 226.12,426.63 223.63,421.33 214.81,422.52" fill="#ffcf00"/><polygon points="226.12,426.63 234.97,425.47 232.42,420.18 223.63,421.33" fill="#ffc900"/><polygon points="234.97,425.47 243.78,424.34 241.17,419.05 232.42,420.18" fill="#ffc300"/><polygon points="243.78,424.34 252.56,423.24 249.89,417.97 241.17,419.05" fill="#ffbe00"/><polygon points="252.56,423.24 261.3,422.18 258.57,416.92 249.89,417.97" fill="#ffb900"/><polygon points="261.3,422.18 270.01,421.16 267.21,415.9 258.57,416.92" fill="#ffb400"/><polygon points="270.01,421.16 278.68,420.17 275.82,414.91 267.21,415.9" fill="#ffaf00"/><polygon points="100.1,452.34 109.51,450.66 107.88,445 98.54,446.67" fill="#acff00"/><polygon points="109.51,450.66 118.89,449.01 117.18,443.37 107.88,445" fill="#b6ff00"/><polygon points="118.89,449.01 128.23,447.41 126.45,441.77 117.18,443.37" fill="#bfff00"/><polygon points="128.23,447.41 137.54,445.84 135.69,440.21 126.45,441.77" fill="#c8ff00"/><polygon points="137.54,445.84 146.81,444.3 144.89,438.69 135.69,440.21" fill="#d0ff00"/><polygon points="146.81,444.3 156.05,442.81 154.06,437.21 144.89,438.69" fill="#d8ff00"/><polygon points="156.05,442.81 165.25,441.35 163.19,435.76 154.06,437.21" fill="#e0ff00"/><polygon points="165.25,441.35 174.41,439.93 172.29,434.35 163.19,435.76" fill="#e8ff00"/><polygon points="174.41,439.93 183.54,438.54 181.35,432.97 172.29,434.35" fill="#f0ff00"/><polygon points="183.54,438.54 192.63,437.19 190.37,431.63 181.35,432.97" fill="#f7ff00"/><polygon points="192.63,437.19 201.69,435.88 199.36,430.33 190.37,431.63" fill="#feff00"/><polygon points="201.69,435.88 210.71,434.6 208.32,429.06 199.36,430.33" fill="#fffa00"/><polygon points="210.71,434.6 219.7,433.36 217.24,427.83 208.32,429.06" fill="#fff300"/><polygon points="219.7,433.36 228.65,432.15 226.12,426.63 217.24,427.83" fill="#ffed00"/><polygon points="228.65,432.15 237.56,430.98 234.97,425.47 226.12,426.63" fill="#ffe700"/><polygon points="237.56,430.98 246.44,429.84 243.78,424.34 234.97,425.47" fill="#ffe100"/><polygon points="246.44,429.84 255.28,428.74 252.56,423.24 243.78,424.34" fill="#ffdc00"/><polygon points="255.28,428.74 264.08,427.67 261.3,422.18 252.56,423.24" fill="#ffd700"/><polygon points="264.08,427.67 272.85,426.64 270.01,421.16 261.3,422.18" fill="#ffd200"/><polygon points="272.85,426.64 281.58,425.64 278.68,420.17 270.01,421.16" fill="#ffcd00"/><polygon points="101.69,458.25 111.18,456.55 109.51,450.66 100.1,452.34" fill="#90ff00"/><polygon points="111.18,456.55 120.63,454.89 118.89,449.01 109.51,450.66" fill="#99ff00"/><polygon points="120.63,454.89 130.04,453.28 128.23,447.41 118.89,449.01" fill="#a2ff00"/><polygon points="130.04,453.28 139.42,451.69 137.54,445.84 128.23,447.41" fill="#aaff00"/><polygon points="139.42,451.69 148.77,450.15 146.81,444.3 137.54,445.84" fill="#b3ff00"/><polygon points="148.77,450.15 158.07,448.64 156.05,442.81 146.81,444.3" fill="#bbff00"/><polygon points="158.07,448.64 167.34,447.17 165.25,441.35 156.05,442.81" fill="#c3ff00"/><polygon points="167.34,447.17 176.57,445.74 174.41,439.93 165.25,441.35" fill="#cbff00"/><polygon points="176.57,445.74 185.77,444.34 183.54,438.54 174.41,439.93" fill="#d2ff00"/><polygon points="185.77,444.34 194.93,442.98 192.63,437.19 183.54,438.54" fill="#d9ff00"/><polygon points="194.93,442.98 204.06,441.66 201.69,435.88 192.63,437.19" fill="#e0ff00"/><polygon points="204.06,441.66 213.14,440.37 210.71,434.6 201.69,435.88" fill="#e6ff00"/><polygon points="213.14,440.37 222.19,439.12 219.7,433.36 210.71,434.6" fill="#edff00"/><polygon points="222.19,439.12 231.21,437.9 228.65,432.15 219.7,433.36" fill="#f3ff00"/><polygon points="231.21,437.9 240.19,436.72 237.56,430.98 228.65,432.15" fill="#f8ff00"/><polygon points="240.19,436.72 249.13,435.57 246.44,429.84 237.56,430.98" fill="#feff00"/><polygon points="249.13,435.57 258.03,434.46 255.28,428.74 246.44,429.84" fill="#fffb00"/><polygon points="258.03,434.46 266.9,433.39 264.08,427.67 255.28,428.74" fill="#fff600"/><polygon points="266.9,433.39 275.73,432.35 272.85,426.64 264.08,427.67" fill="#fff100"/><polygon points="275.73,432.35 284.52,431.34 281.58,425.64 272.85,426.64" fill="#ffed00"/><polygon points="103.31,464.4 112.87,462.69 111.18,456.55 101.69,458.25" fill="#71ff00"/><polygon points="112.87,462.69 122.4,461.02 120.63,454.89 111.18,456.55" fill="#7bff00"/><polygon points="122.4,461.02 131.89,459.38 130.04,453.28 120.63,454.89" fill="#83ff00"/><polygon points="131.89,459.38 141.34,457.79 139.42,451.69 130.04,453.28" fill="#8cff00"/><polygon points="141.34,457.79 150.75,456.23 148.77,450.15 139.42,451.69" fill="#94ff00"/><polygon points="150.75,456.23 160.13,454.71 158.07,448.64 148.77,450.15" fill="#9cff00"/><polygon points="160.13,454.71 169.47,453.23 167.34,447.17 158.07,448.64" fill="#a4ff00"/><polygon points="169.47,453.23 178.77,451.79 176.57,445.74 167.34,447.17" fill="#acff00"/><polygon points="178.77,451.79 188.04,450.38 185.77,444.34 176.57,445.74" fill="#b3ff00"/><polygon points="188.04,450.38 197.27,449.01 194.93,442.98 185.77,444.34" fill="#baff00"/><polygon points="197.27,449.01 206.46,447.67 204.06,441.66 194.93,442.98" fill="#c1ff00"/><polygon points="206.46,447.67 215.61,446.37 213.14,440.37 204.06,441.66" fill="#c7ff00"/><polygon points="215.61,446.37 224.73,445.11 222.19,439.12 213.14,440.37" fill="#cdff00"/><polygon points="224.73,445.11 233.81,443.88 231.21,437.9 222.19,439.12" fill="#d3ff00"/><polygon points="233.81,443.88 242.85,442.69 240.19,436.72 231.21,437.9" fill="#d9ff00"/><polygon points="242.85,442.69 251.86,441.54 249.13,435.57 240.19,436.72" fill="#deff00"/><polygon points="251.86,441.54 260.82,440.42 258.03,434.46 249.13,435.57" fill="#e3ff00"/><polygon points="260.82,440.42 269.75,439.33 266.9,433.39 258.03,434.46" fill="#e8ff00"/><polygon points="269.75,439.33 278.65,438.28 275.73,432.35 266.9,433.39" fill="#edff00"/><polygon points="278.65,438.28 287.5,437.27 284.52,431.34 275.73,432.35" fill="#f1ff00"/><polygon points="104.96,470.79 114.6,469.07 112.87,462.69 103.31,464.4" fill="#52ff00"/><polygon points="114.6,469.07 124.2,467.38 122.4,461.02 112.87,462.69" fill="#5bff00"/><polygon points="124.2,467.38 133.76,465.74 131.89,459.38 122.4,461.02" fill="#64ff00"/><polygon points="133.76,465.74 143.28,464.13 141.34,457.79 131.89,459.38" fill="#6cff00"/><polygon points="143.28,464.13 152.77,462.56 150.75,456.23 141.34,457.79" fill="#75ff00"/><polygon points="152.77,462.56 162.22,461.03 160.13,454.71 150.75,456.23" fill="#7dff00"/><polygon points="162.22,461.03 171.63,459.53 169.47,453.23 160.13,454.71" fill="#84ff00"/><polygon points="171.63,459.53 181,458.07 178.77,451.79 169.47,453.23" fill="#8cff00"/><polygon points="181,458.07 190.34,456.65 188.04,450.38 178.77,451.79" fill="#93ff00"/><polygon points="190.34,456.65 199.64,455.27 197.27,449.01 188.04,450.38" fill="#9aff00"/><polygon points="199.64,455.27 208.9,453.92 206.46,447.67 197.27,449.01" fill="#a0ff00"/><polygon points="208.9,453.92 218.12,452.61 215.61,446.37 206.46,447.67" fill="#a7ff00"/><polygon points="218.12,452.61 227.3,451.34 224.73,445.11 215.61,446.37" fill="#adff00"/><polygon points="227.3,451.34 236.45,450.1 233.81,443.88 224.73,445.11" fill="#b3ff00"/><polygon points="236.45,450.1 245.56,448.9 242.85,442.69 233.81,443.88" fill="#b8ff00"/><polygon points="245.56,448.9 254.63,447.73 251.86,441.54 242.85,442.69" fill="#beff00"/><polygon points="254.63,447.73 263.66,446.6 260.82,440.42 251.86,441.54" fill="#c3ff00"/><polygon points="263.66,446.6 272.65,445.51 269.75,439.33 260.82,440.42" fill="#c7ff00"/><polygon points="272.65,445.51 281.61,444.45 278.65,438.28 269.75,439.33" fill="#ccff00"/><polygon points="281.61,444.45 290.53,443.43 287.5,437.27 278.65,438.28" fill="#d0ff00"/><polygon points="106.65,477.44 116.36,475.7 114.6,469.07 104.96,470.79" fill="#32ff00"/><polygon points="116.36,475.7 126.03,474 124.2,467.38 114.6,469.07" fill="#3bff00"/><polygon points="126.03,474 135.67,472.34 133.76,465.74 124.2,467.38" fill="#43ff00"/><polygon points="135.67,472.34 145.27,470.72 143.28,464.13 133.76,465.74" fill="#4cff00"/><polygon points="145.27,470.72 154.82,469.13 152.77,462.56 143.28,464.13" fill="#54ff00"/><polygon points="154.82,469.13 164.35,467.58 162.22,461.03 152.77,462.56" fill="#5cff00"/><polygon points="164.35,467.58 173.83,466.08 171.63,459.53 162.22,461.03" fill="#63ff00"/><polygon points="173.83,466.08 183.27,464.61 181,458.07 171.63,459.53" fill="#6bff00"/><polygon points="183.27,464.61 192.68,463.17 190.34,456.65 181,458.07" fill="#72ff00"/><polygon points="192.68,463.17 202.04,461.78 199.64,455.27 190.34,456.65" fill="#78ff00"/><polygon points="202.04,461.78 211.37,460.42 208.9,453.92 199.64,455.27" fill="#7fff00"/><polygon points="211.37,460.42 220.66,459.09 218.12,452.61 208.9,453.92" fill="#85ff00"/><polygon points="220.66,459.09 229.91,457.81 227.3,451.34 218.12,452.61" fill="#8bff00"/><polygon points="229.91,457.81 239.13,456.56 236.45,450.1 227.3,451.34" fill="#91ff00"/><polygon points="239.13,456.56 248.3,455.35 245.56,448.9 236.45,450.1" fill="#96ff00"/><polygon points="248.3,455.35 257.44,454.17 254.63,447.73 245.56,448.9" fill="#9bff00"/><polygon points="257.44,454.17 266.53,453.03 263.66,446.6 254.63,447.73" fill="#a0ff00"/><polygon points="266.53,453.03 275.59,451.93 272.65,445.51 263.66,446.6" fill="#a5ff00"/><polygon points="275.59,451.93 284.61,450.86 281.61,444.45 272.65,445.51" fill="#a9ff00"/><polygon points="284.61,450.86 293.59,449.82 290.53,443.43 281.61,444.45" fill="#adff00"/><polygon points="108.36,484.34 118.15,482.59 116.36,475.7 106.65,477.44" fill="#10ff00"/><polygon points="118.15,482.59 127.9,480.87 126.03,474 116.36,475.7" fill="#19ff00"/><polygon points="127.9,480.87 137.61,479.19 135.67,472.34 126.03,474" fill="#21ff00"/><polygon points="137.61,479.19 147.28,477.56 145.27,470.72 135.67,472.34" fill="#2aff00"/><polygon points="147.28,477.56 156.91,475.96 154.82,469.13 145.27,470.72" fill="#32ff00"/><polygon points="156.91,475.96 166.51,474.4 164.35,467.58 154.82,469.13" fill="#39ff00"/><polygon points="166.51,474.4 176.06,472.87 173.83,466.08 164.35,467.58" fill="#41ff00"/><polygon points="176.06,472.87 185.58,471.39 183.27,464.61 173.83,466.08" fill="#48ff00"/><polygon points="185.58,471.39 195.05,469.94 192.68,463.17 183.27,464.61" fill="#4fff00"/><polygon points="195.05,469.94 204.49,468.53 202.04,461.78 192.68,463.17" fill="#56ff00"/><polygon points="204.49,468.53 213.89,467.16 211.37,460.42 202.04,461.78" fill="#5cff00"/><polygon points="213.89,467.16 223.25,465.83 220.66,459.09 211.37,460.42" fill="#62ff00"/><polygon points="223.25,465.83 232.57,464.53 229.91,457.81 220.66,459.09" fill="#68ff00"/><polygon points="232.57,464.53 241.85,463.27 239.13,456.56 229.91,457.81" fill="#6eff00"/><polygon points="241.85,463.27 251.09,462.04 248.3,455.35 239.13,456.56" fill="#73ff00"/><polygon points="251.09,462.04 260.29,460.86 257.44,454.17 248.3,455.35" fill="#78ff00"/><polygon points="260.29,460.86 269.45,459.7 266.53,453.03 257.44,454.17" fill="#7dff00"/><polygon points="269.45,459.7 278.58,458.59 275.59,451.93 266.53,453.03" fill="#82ff00"/><polygon points="278.58,458.59 287.66,457.51 284.61,450.86 275.59,451.93" fill="#86ff00"/><polygon points="287.66,457.51 296.7,456.46 293.59,449.82 284.61,450.86" fill="#8aff00"/><polygon points="110.1,491.51 119.97,489.74 118.15,482.59 108.36,484.34" fill="#00ff13"/><polygon points="119.97,489.74 129.8,488 127.9,480.87 118.15,482.59" fill="#00ff0a"/><polygon points="129.8,488 139.58,486.31 137.61,479.19 127.9,480.87" fill="#00ff02"/><polygon points="139.58,486.31 149.33,484.66 147.28,477.56 137.61,479.19" fill="#06ff00"/><polygon points="149.33,484.66 159.04,483.04 156.91,475.96 147.28,477.56" fill="#0eff00"/><polygon points="159.04,483.04 168.7,481.47 166.51,474.4 156.91,475.96" fill="#16ff00"/><polygon points="168.7,481.47 178.33,479.93 176.06,472.87 166.51,474.4" fill="#1dff00"/><polygon points="178.33,479.93 187.92,478.43 185.58,471.39 176.06,472.87" fill="#24ff00"/><polygon points="187.92,478.43 197.47,476.97 195.05,469.94 185.58,471.39" fill="#2bff00"/><polygon points="197.47,476.97 206.97,475.54 204.49,468.53 195.05,469.94" fill="#32ff00"/><polygon points="206.97,475.54 216.44,474.16 213.89,467.16 204.49,468.53" fill="#38ff00"/><polygon points="216.44,474.16 225.87,472.81 223.25,465.83 213.89,467.16" fill="#3eff00"/><polygon points="225.87,472.81 235.26,471.5 232.57,464.53 223.25,465.83" fill="#44ff00"/><polygon points="235.26,471.5 244.61,470.23 241.85,463.27 232.57,464.53" fill="#4aff00"/><polygon points="244.61,470.23 253.92,468.99 251.09,462.04 241.85,463.27" fill="#4fff00"/><polygon points="253.92,468.99 263.18,467.79 260.29,460.86 251.09,462.04" fill="#54ff00"/><polygon points="263.18,467.79 272.41,466.63 269.45,459.7 260.29,460.86" fill="#58ff00"/><polygon points="272.41,466.63 281.6,465.5 278.58,458.59 269.45,459.7" fill="#5dff00"/><polygon points="281.6,465.5 290.75,464.41 287.66,457.51 278.58,458.59" fill="#61ff00"/><polygon points="290.75,464.41 299.86,463.35 296.7,456.46 287.66,457.51" fill="#65ff00"/><polygon points="111.88,498.94 121.83,497.15 119.97,489.74 110.1,491.51" fill="#00ff37"/><polygon points="121.83,497.15 131.73,495.4 129.8,488 119.97,489.74" fill="#00ff2f"/><polygon points="131.73,495.4 141.59,493.69 139.58,486.31 129.8,488" fill="#00ff26"/><polygon points="141.59,493.69 151.41,492.02 149.33,484.66 139.58,486.31" fill="#00ff1e"/><polygon points="151.41,492.02 161.2,490.39 159.04,483.04 149.33,484.66" fill="#00ff16"/><polygon points="161.2,490.39 170.94,488.8 168.7,481.47 159.04,483.04" fill="#00ff0f"/><polygon points="170.94,488.8 180.64,487.25 178.33,479.93 168.7,481.47" fill="#00ff07"/><polygon points="180.64,487.25 190.3,485.73 187.92,478.43 178.33,479.93" fill="#00ff00"/><polygon points="190.3,485.73 199.92,484.25 197.47,476.97 187.92,478.43" fill="#06ff00"/><polygon points="199.92,484.25 209.5,482.82 206.97,475.54 197.47,476.97" fill="#0dff00"/><polygon points="209.5,482.82 219.04,481.42 216.44,474.16 206.97,475.54" fill="#13ff00"/><polygon points="219.04,481.42 228.54,480.05 225.87,472.81 216.44,474.16" fill="#19ff00"/><polygon points="228.54,480.05 237.99,478.73 235.26,471.5 225.87,472.81" fill="#1fff00"/><polygon points="237.99,478.73 247.41,477.44 244.61,470.23 235.26,471.5" fill="#24ff00"/><polygon points="247.41,477.44 256.79,476.19 253.92,468.99 244.61,470.23" fill="#29ff00"/><polygon points="256.79,476.19 266.12,474.98 263.18,467.79 253.92,468.99" fill="#2eff00"/><polygon points="266.12,474.98 275.42,473.8 272.41,466.63 263.18,467.79" fill="#33ff00"/><polygon points="275.42,473.8 284.67,472.66 281.6,465.5 272.41,466.63" fill="#37ff00"/><polygon points="284.67,472.66 293.88,471.56 290.75,464.41 281.6,465.5" fill="#3bff00"/><polygon points="293.88,471.56 303.06,470.49 299.86,463.35 290.75,464.41" fill="#3fff00"/><polygon points="113.69,506.65 123.71,504.84 121.83,497.15 111.88,498.94" fill="#00ff5d"/><polygon points="123.71,504.84 133.7,503.07 131.73,495.4 121.83,497.15" fill="#00ff54"/><polygon points="133.7,503.07 143.64,501.35 141.59,493.69 131.73,495.4" fill="#00ff4c"/><polygon points="143.64,501.35 153.53,499.66 151.41,492.02 141.59,493.69" fill="#00ff44"/><polygon points="153.53,499.66 163.39,498.01 161.2,490.39 151.41,492.02" fill="#00ff3c"/><polygon points="163.39,498.01 173.21,496.4 170.94,488.8 161.2,490.39" fill="#00ff35"/><polygon points="173.21,496.4 182.98,494.83 180.64,487.25 170.94,488.8" fill="#00ff2e"/><polygon points="182.98,494.83 192.72,493.3 190.3,485.73 180.64,487.25" fill="#00ff27"/><polygon points="192.72,493.3 202.41,491.81 199.92,484.25 190.3,485.73" fill="#00ff20"/><polygon points="202.41,491.81 212.06,490.35 209.5,482.82 199.92,484.25" fill="#00ff1a"/><polygon points="212.06,490.35 221.67,488.94 219.04,481.42 209.5,482.82" fill="#00ff13"/><polygon points="221.67,488.94 231.24,487.56 228.54,480.05 219.04,481.42" fill="#00ff0e"/><polygon points="231.24,487.56 240.77,486.22 237.99,478.73 228.54,480.05" fill="#00ff08"/><polygon points="240.77,486.22 250.25,484.92 247.41,477.44 237.99,478.73" fill="#00ff03"/><polygon points="250.25,484.92 259.7,483.66 256.79,476.19 247.41,477.44" fill="#02ff00"/><polygon points="259.7,483.66 269.1,482.43 266.12,474.98 256.79,476.19" fill="#07ff00"/><polygon points="269.1,482.43 278.46,481.24 275.42,473.8 266.12,474.98" fill="#0cff00"/><polygon points="278.46,481.24 287.78,480.09 284.67,472.66 275.42,473.8" fill="#10ff00"/><polygon points="287.78,480.09 297.06,478.97 293.88,471.56 284.67,472.66" fill="#14ff00"/><polygon points="297.06,478.97 306.3,477.89 303.06,470.49 293.88,471.56" fill="#17ff00"/></g>
<circle cx="115.6" cy="599.7" r="1.25" fill="#000"/>
<circle cx="152.98" cy="595.98" r="1.25" fill="#000"/>
<circle cx="190.36" cy="592.26" r="1.25" fill="#000"/>
<circle cx="227.74" cy="588.54" r="1.25" fill="#000"/>
<circle cx="265.12" cy="584.82" r="1.25" fill="#000"/>
<circle cx="302.5" cy="581.1" r="1.25" fill="#000"/>
<circle cx="115.6" cy="599.7" r="1.25" fill="#000"/>
<circle cx="109.92" cy="586.4" r="1.25" fill="#000"/>
<circle cx="104.24" cy="573.1" r="1.25" fill="#000"/>
<circle cx="98.56" cy="559.8" r="1.25" fill="#000"/>
<circle cx="92.88" cy="546.5" r="1.25" fill="#000"/>
<circle cx="87.2" cy="533.2" r="1.25" fill="#000"/>
<circle cx="86.02" cy="493.54" r="1.25" fill="#000"/>
<circle cx="85.49" cy="475.72" r="1.25" fill="#000"/>
<circle cx="84.96" cy="457.9" r="1.25" fill="#000"/>
<circle cx="84.42" cy="440.08" r="1.25" fill="#000"/>
<circle cx="83.89" cy="422.26" r="1.25" fill="#000"/>
<circle cx="83.36" cy="404.44" r="1.25" fill="#000"/>
<circle cx="82.83" cy="386.62" r="1.25" fill="#000"/>
<circle cx="82.3" cy="368.8" r="1.25" fill="#000"/>
<g font-size="10" fill="#222"><text x="73.22" y="490.54" text-anchor="middle">20</text><text x="72.69" y="472.72" text-anchor="middle">30</text><text x="72.16" y="454.9" text-anchor="middle">40</text><text x="71.62" y="437.08" text-anchor="middle">50</text><text x="71.09" y="419.26" text-anchor="middle">60</text><text x="70.56" y="401.44" text-anchor="middle">70</text><text x="70.03" y="383.62" text-anchor="middle">80</text><text x="69.5" y="365.8" text-anchor="middle">90</text><text x="127.6" y="611.8" text-anchor="middle">10</text><text x="164.98" y="608.08" text-anchor="middle">16</text><text x="202.36" y="604.36" text-anchor="middle">22</text><text x="239.74" y="600.64" text-anchor="middle">28</text><text x="277.12" y="596.92" text-anchor="middle">34</text><text x="314.5" y="593.2" text-anchor="middle">40</text><text x="103.6" y="612.1" text-anchor="middle">50</text><text x="97.92" y="598.8" text-anchor="middle">70</text><text x="92.24" y="585.5" text-anchor="middle">90</text><text x="83.86" y="572.2" text-anchor="middle">110</text><text x="78.18" y="558.9" text-anchor="middle">130</text><text x="72.5" y="545.6" text-anchor="middle">150</text></g>
<text x="44.8" y="453.2" font-size="8.2" fill="#222" text-anchor="middle" transform="rotate(-90 44.8 453.2)">%Removal</text>
<text x="46" y="578.5" font-size="8.5" fill="#222" text-anchor="middle">C: Adsorbent dose (mg)</text>
<text x="227.6" y="624.6" font-size="8.6" fill="#222" text-anchor="middle">B: Contact time (min)</text></g>
<path d="M426.08 494.5L599.34 482.34M599.34 482.34L666.03 530.97M425.5 471.76L599.52 460.62M599.52 460.62L666.83 505.37M424.92 449.03L599.69 438.9M599.69 438.9L667.62 479.78M424.34 426.3L599.87 417.17M599.87 417.17L668.42 454.18M423.76 403.57L600.05 395.45M600.05 395.45L669.21 428.59M423.18 380.83L600.22 373.72M600.22 373.72L670.01 402.99M422.6 358.1L600.4 352M600.4 352L670.8 377.4M427.2 538.4L422.6 358.1M460.73 492.07L458.16 356.88M495.38 489.63L493.72 355.66M530.04 487.2L529.28 354.44M564.69 484.77L564.84 353.22M599 524.3L600.4 352M664.5 580.4L670.8 377.4M652.7 521.24L656.72 372.32M639.36 511.52L642.64 367.24M626.02 501.79L628.56 362.16M612.68 492.07L614.48 357.08" fill="none" stroke="#222" stroke-width="0.72"/>
<polygon points="427.2,538.4 599,524.3 664.5,580.4 463.4,600.1" fill="#646464" stroke="#000" stroke-width="0.9"/>
<path d="M458.41 535.78L458.11 535.75M460.91 536.02L458.41 535.78M463.4 536.25L461.94 536.11M461.94 536.11L460.91 536.02M465.89 536.47L465.88 536.47M465.88 536.47L463.4 536.25M468.38 536.68L465.89 536.47M470.87 536.89L469.93 536.82M469.93 536.82L468.38 536.68M473.36 537.1L470.87 536.89M475.84 537.29L474.09 537.16M474.09 537.16L473.36 537.1M478.33 537.48L475.84 537.29M480.81 537.67L478.38 537.49M478.38 537.49L478.33 537.48M483.29 537.85L482.77 537.81M482.77 537.81L480.81 537.67M485.77 538.02L483.29 537.85M488.24 538.19L487.28 538.13M487.28 538.13L485.77 538.02M490.72 538.36L488.24 538.19M493.2 538.52L491.91 538.43M491.91 538.43L490.72 538.36M495.67 538.67L493.2 538.52M498.14 538.82L496.65 538.73M496.65 538.73L495.67 538.67M500.61 538.97L498.14 538.82M503.09 539.11L501.51 539.02M501.51 539.02L500.61 538.97M505.56 539.25L503.09 539.11M508.02 539.39L506.49 539.31M506.49 539.31L505.56 539.25M510.49 539.52L508.02 539.39M512.96 539.65L511.58 539.58M511.58 539.58L510.49 539.52M515.42 539.77L512.96 539.65M517.89 539.9L516.79 539.84M516.79 539.84L515.42 539.77M520.35 540.02L517.89 539.9M522.81 540.13L522.12 540.1M522.12 540.1L520.35 540.02M525.27 540.24L522.81 540.13M527.74 540.35L527.57 540.35M527.57 540.35L525.27 540.24M530.19 540.46L527.74 540.35M532.65 540.57L530.19 540.46M535.11 540.67L533.13 540.59M533.13 540.59L532.65 540.57M537.57 540.77L535.11 540.67M540.02 540.86L538.82 540.82M538.82 540.82L537.57 540.77M542.48 540.95L540.02 540.86M544.93 541.05L544.62 541.04M544.62 541.04L542.48 540.95M547.38 541.13L544.93 541.05M549.83 541.22L547.38 541.13M552.28 541.31L550.54 541.25M550.54 541.25L549.83 541.22M554.73 541.39L552.28 541.31M557.18 541.47L556.59 541.45M556.59 541.45L554.73 541.39M559.63 541.54L557.18 541.47M562.08 541.62L559.63 541.54M564.52 541.69L562.75 541.64M562.75 541.64L562.08 541.62M566.96 541.77L564.52 541.69M569.41 541.84L569.03 541.83M569.03 541.83L566.96 541.77M571.85 541.9L569.41 541.84M574.29 541.97L571.85 541.9M576.73 542.03L575.43 542M575.43 542L574.29 541.97M579.17 542.09L576.73 542.03M581.61 542.15L579.17 542.09M584.05 542.21L581.96 542.16M581.96 542.16L581.61 542.15M586.48 542.27L584.05 542.21M588.92 542.32L588.6 542.32M588.6 542.32L586.48 542.27M591.35 542.38L588.92 542.32M593.79 542.43L591.35 542.38M596.22 542.48L595.36 542.46M595.36 542.46L593.79 542.43M598.65 542.53L596.22 542.48M601.08 542.57L598.65 542.53M603.51 542.62L602.25 542.6M602.25 542.6L601.08 542.57M605.94 542.66L603.51 542.62M608.37 542.71L605.94 542.66M610.79 542.75L609.26 542.72M609.26 542.72L608.37 542.71M613.22 542.79L610.79 542.75M615.64 542.83L613.22 542.79M618.06 542.86L616.39 542.84M616.39 542.84L615.64 542.83M620.48 542.9L618.06 542.86" fill="none" stroke="#f07820" stroke-width="1.55" stroke-linecap="butt"/>
<path d="M437.59 551.75L435.76 551.7M435.76 551.7L435.1 551.68M440.08 551.82L437.59 551.75M442.57 551.89L442.32 551.89M442.32 551.89L440.08 551.82M445.06 551.96L442.57 551.89M447.55 552.02L445.06 551.96M450.04 552.08L449.01 552.06M449.01 552.06L447.55 552.02M452.53 552.14L450.04 552.08M455.02 552.2L452.53 552.14M457.51 552.26L455.83 552.22M455.83 552.22L455.02 552.2M459.99 552.31L457.51 552.26M462.48 552.36L459.99 552.31M464.97 552.41L462.78 552.37M462.78 552.37L462.48 552.36M467.46 552.46L464.97 552.41M469.94 552.51L469.87 552.51M469.87 552.51L467.46 552.46M472.43 552.56L469.94 552.51M474.92 552.6L472.43 552.56M477.4 552.65L477.08 552.64M477.08 552.64L474.92 552.6M479.89 552.69L477.4 552.65M482.37 552.73L479.89 552.69M484.85 552.77L484.42 552.76M484.42 552.76L482.37 552.73M487.34 552.8L484.85 552.77M489.82 552.84L487.34 552.8M492.3 552.87L491.89 552.87M491.89 552.87L489.82 552.84M494.78 552.9L492.3 552.87M497.26 552.94L494.78 552.9M499.74 552.97L499.5 552.96M499.5 552.96L497.26 552.94M502.22 553L499.74 552.97M504.7 553.02L502.22 553M507.18 553.05L504.7 553.02M509.66 553.07L507.24 553.05M507.24 553.05L507.18 553.05M512.13 553.1L509.66 553.07M514.61 553.12L512.13 553.1M517.09 553.14L515.1 553.13M515.1 553.13L514.61 553.12M519.56 553.16L517.09 553.14M522.04 553.18L519.56 553.16M524.51 553.2L523.1 553.19M523.1 553.19L522.04 553.18M526.98 553.22L524.51 553.2M529.45 553.23L526.98 553.22M531.92 553.25L531.23 553.24M531.23 553.24L529.45 553.23M534.39 553.26L531.92 553.25M536.86 553.27L534.39 553.26M539.33 553.28L536.86 553.27M541.8 553.29L539.5 553.28M539.5 553.28L539.33 553.28M544.27 553.3L541.8 553.29M546.73 553.31L544.27 553.3M549.2 553.32L547.89 553.32M547.89 553.32L546.73 553.31M551.66 553.32L549.2 553.32M554.13 553.33L551.66 553.32M556.59 553.33L556.41 553.33M556.41 553.33L554.13 553.33M559.05 553.34L556.59 553.33M561.51 553.34L559.05 553.34M563.97 553.34L561.51 553.34M566.43 553.34L565.07 553.34M565.07 553.34L563.97 553.34M568.89 553.34L566.43 553.34M571.34 553.34L568.89 553.34M573.8 553.34L571.34 553.34M576.26 553.33L573.86 553.34M573.86 553.34L573.8 553.34M578.71 553.33L576.26 553.33M581.16 553.32L578.71 553.33M583.61 553.32L582.77 553.32M582.77 553.32L581.16 553.32M586.07 553.31L583.61 553.32M588.52 553.3L586.07 553.31M590.96 553.3L588.52 553.3M593.41 553.29L591.82 553.29M591.82 553.29L590.96 553.3M595.86 553.28L593.41 553.29M598.31 553.26L595.86 553.28M600.75 553.25L598.31 553.26M603.19 553.24L601 553.25M601 553.25L600.75 553.25M605.64 553.23L603.19 553.24M608.08 553.21L605.64 553.23M610.52 553.2L610.31 553.2M610.31 553.2L608.08 553.21M612.96 553.18L610.52 553.2M615.4 553.17L612.96 553.18M617.83 553.15L615.4 553.17M620.27 553.13L619.75 553.14M619.75 553.14L617.83 553.15M622.7 553.11L620.27 553.13M625.14 553.1L622.7 553.11M627.57 553.08L625.14 553.1M630 553.06L629.32 553.06M629.32 553.06L627.57 553.08M632.43 553.03L630 553.06" fill="none" stroke="#f5c020" stroke-width="1.55" stroke-linecap="butt"/>
<path d="M445.56 565.21L443.02 565.22M448.1 565.19L445.56 565.21M450.64 565.17L449.01 565.18M449.01 565.18L448.1 565.19M453.18 565.15L450.64 565.17M455.71 565.13L453.18 565.15M458.25 565.12L455.71 565.13M460.78 565.1L458.88 565.11M458.88 565.11L458.25 565.12M463.32 565.07L460.78 565.1M465.85 565.05L463.32 565.07M468.38 565.03L465.85 565.05M470.92 565.01L468.89 565.03M468.89 565.03L468.38 565.03M473.45 564.98L470.92 565.01M475.98 564.96L473.45 564.98M478.51 564.93L475.98 564.96M481.03 564.91L479.03 564.93M479.03 564.93L478.51 564.93M483.56 564.88L481.03 564.91M486.09 564.85L483.56 564.88M488.61 564.82L486.09 564.85M491.14 564.79L489.32 564.82M489.32 564.82L488.61 564.82M493.66 564.76L491.14 564.79M496.18 564.73L493.66 564.76M498.7 564.7L496.18 564.73M501.22 564.67L499.75 564.69M499.75 564.69L498.7 564.7M503.74 564.64L501.22 564.67M506.26 564.61L503.74 564.64M508.78 564.57L506.26 564.61M511.29 564.54L510.31 564.55M510.31 564.55L508.78 564.57M513.81 564.51L511.29 564.54M516.32 564.47L513.81 564.51M518.84 564.43L516.32 564.47M521.35 564.4L521.02 564.4M521.02 564.4L518.84 564.43M523.86 564.36L521.35 564.4M526.37 564.32L523.86 564.36M528.88 564.28L526.37 564.32M531.39 564.25L528.88 564.28M533.89 564.21L531.86 564.24M531.86 564.24L531.39 564.25M536.4 564.17L533.89 564.21M538.9 564.13L536.4 564.17M541.41 564.09L538.9 564.13M543.91 564.04L542.84 564.06M542.84 564.06L541.41 564.09M546.41 564L543.91 564.04M548.91 563.96L546.41 564M551.41 563.92L548.91 563.96M553.9 563.87L551.41 563.92M556.4 563.83L553.96 563.87M553.96 563.87L553.9 563.87M558.89 563.78L556.4 563.83M561.39 563.74L558.89 563.78M563.88 563.69L561.39 563.74M566.37 563.64L565.21 563.67M565.21 563.67L563.88 563.69M568.86 563.6L566.37 563.64M571.35 563.55L568.86 563.6M573.84 563.5L571.35 563.55M576.33 563.45L573.84 563.5M578.81 563.41L576.6 563.45M576.6 563.45L576.33 563.45M581.3 563.36L578.81 563.41M583.78 563.31L581.3 563.36M586.26 563.26L583.78 563.31M588.74 563.21L588.12 563.22M588.12 563.22L586.26 563.26M591.22 563.15L588.74 563.21M593.7 563.1L591.22 563.15M596.17 563.05L593.7 563.1M598.65 563L596.17 563.05M601.12 562.94L599.78 562.97M599.78 562.97L598.65 563M603.6 562.89L601.12 562.94M606.07 562.84L603.6 562.89M608.54 562.78L606.07 562.84M611.01 562.73L608.54 562.78M613.47 562.67L611.57 562.72M611.57 562.72L611.01 562.73M615.94 562.62L613.47 562.67M618.4 562.56L615.94 562.62M620.87 562.5L618.4 562.56M623.33 562.45L620.87 562.5M625.79 562.39L623.49 562.45M623.49 562.45L623.33 562.45M628.25 562.33L625.79 562.39M630.71 562.27L628.25 562.33M633.16 562.22L630.71 562.27M635.62 562.16L635.54 562.16M635.54 562.16L633.16 562.22M638.07 562.1L635.62 562.16M640.53 562.04L638.07 562.1M642.98 561.98L640.53 562.04" fill="none" stroke="#c8e61e" stroke-width="1.55" stroke-linecap="butt"/>
<path d="M452.33 576.62L450.56 576.66M450.56 576.66L449.73 576.68M454.92 576.55L452.33 576.62M457.51 576.48L454.92 576.55M460.1 576.41L457.51 576.48M462.69 576.34L460.1 576.41M465.27 576.27L463.75 576.31M463.75 576.31L462.69 576.34M467.86 576.2L465.27 576.27M470.44 576.13L467.86 576.2M473.03 576.05L470.44 576.13M475.61 575.98L473.03 576.05M478.19 575.91L477.08 575.94M477.08 575.94L475.61 575.98M480.77 575.84L478.19 575.91M483.34 575.76L480.77 575.84M485.92 575.69L483.34 575.76M488.5 575.62L485.92 575.69M491.07 575.54L490.55 575.56M490.55 575.56L488.5 575.62M493.64 575.47L491.07 575.54M496.21 575.39L493.64 575.47M498.78 575.32L496.21 575.39M501.35 575.24L498.78 575.32M503.92 575.17L501.35 575.24M506.48 575.09L504.15 575.16M504.15 575.16L503.92 575.17M509.04 575.02L506.48 575.09M511.61 574.94L509.04 575.02M514.17 574.86L511.61 574.94M516.73 574.79L514.17 574.86M519.28 574.71L517.88 574.75M517.88 574.75L516.73 574.79M521.84 574.63L519.28 574.71M524.39 574.55L521.84 574.63M526.95 574.47L524.39 574.55M529.5 574.4L526.95 574.47M532.05 574.32L531.74 574.33M531.74 574.33L529.5 574.4M534.6 574.24L532.05 574.32M537.15 574.16L534.6 574.24M539.69 574.08L537.15 574.16M542.24 574L539.69 574.08M544.78 573.92L542.24 574M547.32 573.84L545.74 573.89M545.74 573.89L544.78 573.92M549.86 573.76L547.32 573.84M552.4 573.67L549.86 573.76M554.94 573.59L552.4 573.67M557.48 573.51L554.94 573.59M560.01 573.43L559.86 573.43M559.86 573.43L557.48 573.51M562.54 573.35L560.01 573.43M565.07 573.26L562.54 573.35M567.6 573.18L565.07 573.26M570.13 573.1L567.6 573.18M572.66 573.01L570.13 573.1M575.18 572.93L574.12 572.97M574.12 572.97L572.66 573.01M577.71 572.84L575.18 572.93M580.23 572.76L577.71 572.84M582.75 572.68L580.23 572.76M585.27 572.59L582.75 572.68M587.79 572.51L585.27 572.59M590.3 572.42L588.49 572.48M588.49 572.48L587.79 572.51M592.82 572.34L590.3 572.42M595.33 572.25L592.82 572.34M597.84 572.16L595.33 572.25M600.35 572.08L597.84 572.16M602.86 571.99L600.35 572.08M605.36 571.9L602.99 571.99M602.99 571.99L602.86 571.99M607.87 571.82L605.36 571.9M610.37 571.73L607.87 571.82M612.87 571.64L610.37 571.73M615.37 571.55L612.87 571.64M617.87 571.47L617.61 571.48M617.61 571.48L615.37 571.55M620.37 571.38L617.87 571.47M622.86 571.29L620.37 571.38M625.36 571.2L622.86 571.29M627.85 571.11L625.36 571.2M630.34 571.02L627.85 571.11M632.83 570.93L632.35 570.95M632.35 570.95L630.34 571.02M635.32 570.84L632.83 570.93M637.8 570.75L635.32 570.84M640.29 570.66L637.8 570.75M642.77 570.57L640.29 570.66M645.25 570.48L642.77 570.57M647.73 570.39L647.21 570.41M647.21 570.41L645.25 570.48M650.21 570.3L647.73 570.39M652.68 570.21L650.21 570.3" fill="none" stroke="#78e61e" stroke-width="1.55" stroke-linecap="butt"/>
<path d="M458.46 586.96L455.81 587.07M461.1 586.85L458.46 586.96M463.75 586.74L461.1 586.85M466.39 586.63L463.75 586.74M469.03 586.52L467.23 586.6M467.23 586.6L466.39 586.63M471.66 586.41L469.03 586.52M474.3 586.3L471.66 586.41M476.93 586.19L474.3 586.3M479.57 586.08L476.93 586.19M482.2 585.97L479.57 586.08M484.83 585.86L484.37 585.88M484.37 585.88L482.2 585.97M487.45 585.75L484.83 585.86M490.08 585.64L487.45 585.75M492.7 585.53L490.08 585.64M495.32 585.42L492.7 585.53M497.94 585.31L495.32 585.42M500.56 585.2L497.94 585.31M503.18 585.09L501.61 585.15M501.61 585.15L500.56 585.2M505.79 584.97L503.18 585.09M508.41 584.86L505.79 584.97M511.02 584.75L508.41 584.86M513.63 584.64L511.02 584.75M516.23 584.53L513.63 584.64M518.84 584.42L516.23 584.53M521.44 584.3L518.95 584.41M518.95 584.41L518.84 584.42M524.04 584.19L521.44 584.3M526.65 584.08L524.04 584.19M529.24 583.97L526.65 584.08M531.84 583.85L529.24 583.97M534.44 583.74L531.84 583.85M537.03 583.63L536.39 583.66M536.39 583.66L534.44 583.74M539.62 583.51L537.03 583.63M542.21 583.4L539.62 583.51M544.8 583.29L542.21 583.4M547.38 583.17L544.8 583.29M549.97 583.06L547.38 583.17M552.55 582.95L549.97 583.06M555.13 582.83L553.92 582.89M553.92 582.89L552.55 582.95M557.71 582.72L555.13 582.83M560.28 582.61L557.71 582.72M562.86 582.49L560.28 582.61M565.43 582.38L562.86 582.49M568 582.26L565.43 582.38M570.57 582.15L568 582.26M573.14 582.04L571.55 582.11M571.55 582.11L570.57 582.15M575.7 581.92L573.14 582.04M578.27 581.81L575.7 581.92M580.83 581.69L578.27 581.81M583.39 581.58L580.83 581.69M585.95 581.46L583.39 581.58M588.5 581.35L585.95 581.46M591.06 581.23L589.27 581.31M589.27 581.31L588.5 581.35M593.61 581.12L591.06 581.23M596.16 581L593.61 581.12M598.71 580.88L596.16 581M601.26 580.77L598.71 580.88M603.8 580.65L601.26 580.77M606.35 580.54L603.8 580.65M608.89 580.42L607.07 580.51M607.07 580.51L606.35 580.54M611.43 580.31L608.89 580.42M613.96 580.19L611.43 580.31M616.5 580.07L613.96 580.19M619.03 579.96L616.5 580.07M621.57 579.84L619.03 579.96M624.1 579.73L621.57 579.84M626.63 579.61L624.96 579.69M624.96 579.69L624.1 579.73M629.15 579.49L626.63 579.61M631.68 579.38L629.15 579.49M634.2 579.26L631.68 579.38M636.72 579.14L634.2 579.26M639.24 579.03L636.72 579.14M641.76 578.91L639.24 579.03M644.27 578.79L642.94 578.86M642.94 578.86L641.76 578.91M646.79 578.68L644.27 578.79M649.3 578.56L646.79 578.68M651.81 578.44L649.3 578.56M654.32 578.32L651.81 578.44M656.82 578.21L654.32 578.32M659.33 578.09L656.82 578.21M661.83 577.97L660.99 578.01M660.99 578.01L659.33 578.09" fill="none" stroke="#28dc28" stroke-width="1.55" stroke-linecap="butt"/>
<path d="M464.2 596.64L461.5 596.79M466.89 596.5L464.2 596.64M469.59 596.36L466.89 596.5M472.28 596.21L469.59 596.36M474.97 596.07L472.28 596.21M477.66 595.93L476.54 595.99M476.54 595.99L474.97 596.07M480.34 595.78L477.66 595.93M483.03 595.64L480.34 595.78M485.71 595.5L483.03 595.64M488.39 595.36L485.71 595.5M491.06 595.21L488.39 595.36M493.74 595.07L491.06 595.21M496.41 594.93L493.74 595.07M499.08 594.78L498.27 594.83M498.27 594.83L496.41 594.93M501.75 594.64L499.08 594.78M504.41 594.5L501.75 594.64M507.08 594.35L504.41 594.5M509.74 594.21L507.08 594.35M512.4 594.07L509.74 594.21M515.06 593.93L512.4 594.07M517.71 593.78L515.06 593.93M520.36 593.64L520.01 593.66M520.01 593.66L517.71 593.78M523.02 593.5L520.36 593.64M525.66 593.35L523.02 593.5M528.31 593.21L525.66 593.35M530.95 593.07L528.31 593.21M533.6 592.93L530.95 593.07M536.24 592.78L533.6 592.93M538.88 592.64L536.24 592.78M541.51 592.5L538.88 592.64M541.76 592.49L541.51 592.5" fill="none" stroke="#1ee664" stroke-width="1.55" stroke-linecap="butt"/>
<g stroke="#000" stroke-opacity="1" stroke-width="0.5" stroke-linejoin="round"><polygon points="425.06,399.29 434.36,398.01 432.71,395.12 423.48,396.39" fill="#ff8800"/><polygon points="434.36,398.01 443.62,396.72 441.9,393.84 432.71,395.12" fill="#ff8000"/><polygon points="443.62,396.72 452.84,395.44 451.04,392.57 441.9,393.84" fill="#ff7900"/><polygon points="452.84,395.44 462.02,394.15 460.15,391.29 451.04,392.57" fill="#ff7200"/><polygon points="462.02,394.15 471.16,392.86 469.22,390.01 460.15,391.29" fill="#ff6a00"/><polygon points="471.16,392.86 480.25,391.57 478.25,388.73 469.22,390.01" fill="#ff6300"/><polygon points="480.25,391.57 489.31,390.28 487.23,387.45 478.25,388.73" fill="#ff5b00"/><polygon points="489.31,390.28 498.32,388.98 496.18,386.17 487.23,387.45" fill="#ff5300"/><polygon points="498.32,388.98 507.3,387.69 505.09,384.88 496.18,386.17" fill="#ff4c00"/><polygon points="507.3,387.69 516.24,386.39 513.96,383.59 505.09,384.88" fill="#ff4400"/><polygon points="516.24,386.39 525.14,385.09 522.8,382.31 513.96,383.59" fill="#ff3c00"/><polygon points="525.14,385.09 534,383.79 531.59,381.02 522.8,382.31" fill="#ff3400"/><polygon points="534,383.79 542.82,382.49 540.35,379.72 531.59,381.02" fill="#ff2c00"/><polygon points="542.82,382.49 551.61,381.18 549.07,378.43 540.35,379.72" fill="#ff2400"/><polygon points="551.61,381.18 560.35,379.88 557.75,377.14 549.07,378.43" fill="#ff1c00"/><polygon points="560.35,379.88 569.06,378.57 566.4,375.9 557.75,377.14" fill="#ff1400"/><polygon points="569.06,378.57 577.73,377.27 575,375.55 566.4,375.9" fill="#ff0e00"/><polygon points="577.73,377.27 586.36,376.46 583.57,375.21 575,375.55" fill="#ff0b00"/><polygon points="586.36,376.46 594.95,376.11 592.09,374.86 583.57,375.21" fill="#ff0a00"/><polygon points="594.95,376.11 603.5,375.76 600.57,374.52 592.09,374.86" fill="#ff0a00"/><polygon points="426.68,402.41 436.05,401.11 434.36,398.01 425.06,399.29" fill="#ff9400"/><polygon points="436.05,401.11 445.38,399.82 443.62,396.72 434.36,398.01" fill="#ff8d00"/><polygon points="445.38,399.82 454.67,398.52 452.84,395.44 443.62,396.72" fill="#ff8600"/><polygon points="454.67,398.52 463.92,397.22 462.02,394.15 452.84,395.44" fill="#ff7e00"/><polygon points="463.92,397.22 473.13,395.92 471.16,392.86 462.02,394.15" fill="#ff7700"/><polygon points="473.13,395.92 482.29,394.62 480.25,391.57 471.16,392.86" fill="#ff6f00"/><polygon points="482.29,394.62 491.42,393.32 489.31,390.28 480.25,391.57" fill="#ff6800"/><polygon points="491.42,393.32 500.5,392.02 498.32,388.98 489.31,390.28" fill="#ff6000"/><polygon points="500.5,392.02 509.55,390.71 507.3,387.69 498.32,388.98" fill="#ff5900"/><polygon points="509.55,390.71 518.55,389.4 516.24,386.39 507.3,387.69" fill="#ff5100"/><polygon points="518.55,389.4 527.52,388.09 525.14,385.09 516.24,386.39" fill="#ff4900"/><polygon points="527.52,388.09 536.44,386.78 534,383.79 525.14,385.09" fill="#ff4100"/><polygon points="536.44,386.78 545.33,385.47 542.82,382.49 534,383.79" fill="#ff3900"/><polygon points="545.33,385.47 554.18,384.16 551.61,381.18 542.82,382.49" fill="#ff3100"/><polygon points="554.18,384.16 562.99,382.84 560.35,379.88 551.61,381.18" fill="#ff2900"/><polygon points="562.99,382.84 571.76,381.53 569.06,378.57 560.35,379.88" fill="#ff2100"/><polygon points="571.76,381.53 580.5,380.21 577.73,377.27 569.06,378.57" fill="#ff1900"/><polygon points="580.5,380.21 589.2,378.89 586.36,376.46 577.73,377.27" fill="#ff1200"/><polygon points="589.2,378.89 597.86,377.57 594.95,376.11 586.36,376.46" fill="#ff0d00"/><polygon points="597.86,377.57 606.47,377.03 603.5,375.76 594.95,376.11" fill="#ff0a00"/><polygon points="428.32,405.74 437.77,404.44 436.05,401.11 426.68,402.41" fill="#ffa200"/><polygon points="437.77,404.44 447.17,403.13 445.38,399.82 436.05,401.11" fill="#ff9b00"/><polygon points="447.17,403.13 456.54,401.83 454.67,398.52 445.38,399.82" fill="#ff9400"/><polygon points="456.54,401.83 465.86,400.52 463.92,397.22 454.67,398.52" fill="#ff8c00"/><polygon points="465.86,400.52 475.13,399.21 473.13,395.92 463.92,397.22" fill="#ff8500"/><polygon points="475.13,399.21 484.37,397.9 482.29,394.62 473.13,395.92" fill="#ff7e00"/><polygon points="484.37,397.9 493.57,396.59 491.42,393.32 482.29,394.62" fill="#ff7600"/><polygon points="493.57,396.59 502.72,395.27 500.5,392.02 491.42,393.32" fill="#ff6f00"/><polygon points="502.72,395.27 511.83,393.96 509.55,390.71 500.5,392.02" fill="#ff6700"/><polygon points="511.83,393.96 520.9,392.64 518.55,389.4 509.55,390.71" fill="#ff5f00"/><polygon points="520.9,392.64 529.94,391.32 527.52,388.09 518.55,389.4" fill="#ff5800"/><polygon points="529.94,391.32 538.93,390 536.44,386.78 527.52,388.09" fill="#ff5000"/><polygon points="538.93,390 547.88,388.68 545.33,385.47 536.44,386.78" fill="#ff4800"/><polygon points="547.88,388.68 556.8,387.36 554.18,384.16 545.33,385.47" fill="#ff4000"/><polygon points="556.8,387.36 565.67,386.04 562.99,382.84 554.18,384.16" fill="#ff3800"/><polygon points="565.67,386.04 574.51,384.71 571.76,381.53 562.99,382.84" fill="#ff3000"/><polygon points="574.51,384.71 583.31,383.38 580.5,380.21 571.76,381.53" fill="#ff2800"/><polygon points="583.31,383.38 592.07,382.06 589.2,378.89 580.5,380.21" fill="#ff2000"/><polygon points="592.07,382.06 600.79,380.73 597.86,377.57 589.2,378.89" fill="#ff1800"/><polygon points="600.79,380.73 609.47,379.4 606.47,377.03 597.86,377.57" fill="#ff1100"/><polygon points="430,409.3 439.52,407.99 437.77,404.44 428.32,405.74" fill="#ffb200"/><polygon points="439.52,407.99 449,406.67 447.17,403.13 437.77,404.44" fill="#ffaa00"/><polygon points="449,406.67 458.44,405.36 456.54,401.83 447.17,403.13" fill="#ffa300"/><polygon points="458.44,405.36 467.83,404.04 465.86,400.52 456.54,401.83" fill="#ff9c00"/><polygon points="467.83,404.04 477.18,402.72 475.13,399.21 465.86,400.52" fill="#ff9500"/><polygon points="477.18,402.72 486.48,401.4 484.37,397.9 475.13,399.21" fill="#ff8d00"/><polygon points="486.48,401.4 495.75,400.08 493.57,396.59 484.37,397.9" fill="#ff8600"/><polygon points="495.75,400.08 504.97,398.76 502.72,395.27 493.57,396.59" fill="#ff7e00"/><polygon points="504.97,398.76 514.15,397.43 511.83,393.96 502.72,395.27" fill="#ff7700"/><polygon points="514.15,397.43 523.29,396.11 520.9,392.64 511.83,393.96" fill="#ff6f00"/><polygon points="523.29,396.11 532.39,394.78 529.94,391.32 520.9,392.64" fill="#ff6800"/><polygon points="532.39,394.78 541.45,393.45 538.93,390 529.94,391.32" fill="#ff6000"/><polygon points="541.45,393.45 550.47,392.12 547.88,388.68 538.93,390" fill="#ff5800"/><polygon points="550.47,392.12 559.45,390.79 556.8,387.36 547.88,388.68" fill="#ff5000"/><polygon points="559.45,390.79 568.39,389.46 565.67,386.04 556.8,387.36" fill="#ff4800"/><polygon points="568.39,389.46 577.29,388.13 574.51,384.71 565.67,386.04" fill="#ff4000"/><polygon points="577.29,388.13 586.16,386.79 583.31,383.38 574.51,384.71" fill="#ff3800"/><polygon points="586.16,386.79 594.98,385.45 592.07,382.06 583.31,383.38" fill="#ff3000"/><polygon points="594.98,385.45 603.76,384.12 600.79,380.73 592.07,382.06" fill="#ff2800"/><polygon points="603.76,384.12 612.51,382.78 609.47,379.4 600.79,380.73" fill="#ff2000"/><polygon points="431.71,413.09 441.31,411.77 439.52,407.99 430,409.3" fill="#ffc200"/><polygon points="441.31,411.77 450.86,410.44 449,406.67 439.52,407.99" fill="#ffbb00"/><polygon points="450.86,410.44 460.37,409.12 458.44,405.36 449,406.67" fill="#ffb400"/><polygon points="460.37,409.12 469.83,407.79 467.83,404.04 458.44,405.36" fill="#ffad00"/><polygon points="469.83,407.79 479.26,406.47 477.18,402.72 467.83,404.04" fill="#ffa600"/><polygon points="479.26,406.47 488.63,405.14 486.48,401.4 477.18,402.72" fill="#ff9f00"/><polygon points="488.63,405.14 497.97,403.81 495.75,400.08 486.48,401.4" fill="#ff9700"/><polygon points="497.97,403.81 507.26,402.48 504.97,398.76 495.75,400.08" fill="#ff9000"/><polygon points="507.26,402.48 516.51,401.15 514.15,397.43 504.97,398.76" fill="#ff8800"/><polygon points="516.51,401.15 525.72,399.81 523.29,396.11 514.15,397.43" fill="#ff8100"/><polygon points="525.72,399.81 534.89,398.48 532.39,394.78 523.29,396.11" fill="#ff7900"/><polygon points="534.89,398.48 544.02,397.14 541.45,393.45 532.39,394.78" fill="#ff7200"/><polygon points="544.02,397.14 553.11,395.8 550.47,392.12 541.45,393.45" fill="#ff6a00"/><polygon points="553.11,395.8 562.15,394.46 559.45,390.79 550.47,392.12" fill="#ff6200"/><polygon points="562.15,394.46 571.16,393.12 568.39,389.46 559.45,390.79" fill="#ff5a00"/><polygon points="571.16,393.12 580.12,391.78 577.29,388.13 568.39,389.46" fill="#ff5200"/><polygon points="580.12,391.78 589.05,390.44 586.16,386.79 577.29,388.13" fill="#ff4a00"/><polygon points="589.05,390.44 597.94,389.09 594.98,385.45 586.16,386.79" fill="#ff4200"/><polygon points="597.94,389.09 606.79,387.74 603.76,384.12 594.98,385.45" fill="#ff3a00"/><polygon points="606.79,387.74 615.59,386.4 612.51,382.78 603.76,384.12" fill="#ff3200"/><polygon points="433.45,417.11 443.12,415.78 441.31,411.77 431.71,413.09" fill="#ffd400"/><polygon points="443.12,415.78 452.75,414.45 450.86,410.44 441.31,411.77" fill="#ffcd00"/><polygon points="452.75,414.45 462.34,413.12 460.37,409.12 450.86,410.44" fill="#ffc600"/><polygon points="462.34,413.12 471.88,411.79 469.83,407.79 460.37,409.12" fill="#ffbf00"/><polygon points="471.88,411.79 481.37,410.45 479.26,406.47 469.83,407.79" fill="#ffb800"/><polygon points="481.37,410.45 490.82,409.11 488.63,405.14 479.26,406.47" fill="#ffb100"/><polygon points="490.82,409.11 500.23,407.78 497.97,403.81 488.63,405.14" fill="#ffaa00"/><polygon points="500.23,407.78 509.59,406.44 507.26,402.48 497.97,403.81" fill="#ffa300"/><polygon points="509.59,406.44 518.92,405.1 516.51,401.15 507.26,402.48" fill="#ff9b00"/><polygon points="518.92,405.1 528.19,403.75 525.72,399.81 516.51,401.15" fill="#ff9400"/><polygon points="528.19,403.75 537.43,402.41 534.89,398.48 525.72,399.81" fill="#ff8c00"/><polygon points="537.43,402.41 546.63,401.07 544.02,397.14 534.89,398.48" fill="#ff8500"/><polygon points="546.63,401.07 555.78,399.72 553.11,395.8 544.02,397.14" fill="#ff7d00"/><polygon points="555.78,399.72 564.89,398.37 562.15,394.46 553.11,395.8" fill="#ff7500"/><polygon points="564.89,398.37 573.97,397.03 571.16,393.12 562.15,394.46" fill="#ff6e00"/><polygon points="573.97,397.03 583,395.68 580.12,391.78 571.16,393.12" fill="#ff6600"/><polygon points="583,395.68 591.99,394.32 589.05,390.44 580.12,391.78" fill="#ff5e00"/><polygon points="591.99,394.32 600.94,392.97 597.94,389.09 589.05,390.44" fill="#ff5600"/><polygon points="600.94,392.97 609.85,391.62 606.79,387.74 597.94,389.09" fill="#ff4e00"/><polygon points="609.85,391.62 618.72,390.26 615.59,386.4 606.79,387.74" fill="#ff4600"/><polygon points="435.23,421.38 444.98,420.04 443.12,415.78 433.45,417.11" fill="#ffe800"/><polygon points="444.98,420.04 454.68,418.7 452.75,414.45 443.12,415.78" fill="#ffe100"/><polygon points="454.68,418.7 464.34,417.36 462.34,413.12 452.75,414.45" fill="#ffda00"/><polygon points="464.34,417.36 473.95,416.02 471.88,411.79 462.34,413.12" fill="#ffd300"/><polygon points="473.95,416.02 483.52,414.68 481.37,410.45 471.88,411.79" fill="#ffcc00"/><polygon points="483.52,414.68 493.05,413.33 490.82,409.11 481.37,410.45" fill="#ffc500"/><polygon points="493.05,413.33 502.53,411.99 500.23,407.78 490.82,409.11" fill="#ffbe00"/><polygon points="502.53,411.99 511.96,410.64 509.59,406.44 500.23,407.78" fill="#ffb700"/><polygon points="511.96,410.64 521.36,409.29 518.92,405.1 509.59,406.44" fill="#ffaf00"/><polygon points="521.36,409.29 530.71,407.94 528.19,403.75 518.92,405.1" fill="#ffa800"/><polygon points="530.71,407.94 540.01,406.59 537.43,402.41 528.19,403.75" fill="#ffa100"/><polygon points="540.01,406.59 549.28,405.24 546.63,401.07 537.43,402.41" fill="#ff9900"/><polygon points="549.28,405.24 558.5,403.89 555.78,399.72 546.63,401.07" fill="#ff9200"/><polygon points="558.5,403.89 567.68,402.53 564.89,398.37 555.78,399.72" fill="#ff8a00"/><polygon points="567.68,402.53 576.82,401.18 573.97,397.03 564.89,398.37" fill="#ff8300"/><polygon points="576.82,401.18 585.91,399.82 583,395.68 573.97,397.03" fill="#ff7b00"/><polygon points="585.91,399.82 594.97,398.46 591.99,394.32 583,395.68" fill="#ff7300"/><polygon points="594.97,398.46 603.99,397.1 600.94,392.97 591.99,394.32" fill="#ff6b00"/><polygon points="603.99,397.1 612.96,395.74 609.85,391.62 600.94,392.97" fill="#ff6400"/><polygon points="612.96,395.74 621.9,394.38 618.72,390.26 609.85,391.62" fill="#ff5c00"/><polygon points="437.03,425.89 446.86,424.54 444.98,420.04 435.23,421.38" fill="#fffd00"/><polygon points="446.86,424.54 456.65,423.2 454.68,418.7 444.98,420.04" fill="#fff600"/><polygon points="456.65,423.2 466.38,421.85 464.34,417.36 454.68,418.7" fill="#ffef00"/><polygon points="466.38,421.85 476.07,420.5 473.95,416.02 464.34,417.36" fill="#ffe800"/><polygon points="476.07,420.5 485.71,419.15 483.52,414.68 473.95,416.02" fill="#ffe100"/><polygon points="485.71,419.15 495.31,417.8 493.05,413.33 483.52,414.68" fill="#ffdb00"/><polygon points="495.31,417.8 504.87,416.45 502.53,411.99 493.05,413.33" fill="#ffd300"/><polygon points="504.87,416.45 514.37,415.1 511.96,410.64 502.53,411.99" fill="#ffcc00"/><polygon points="514.37,415.1 523.84,413.74 521.36,409.29 511.96,410.64" fill="#ffc500"/><polygon points="523.84,413.74 533.26,412.38 530.71,407.94 521.36,409.29" fill="#ffbe00"/><polygon points="533.26,412.38 542.64,411.03 540.01,406.59 530.71,407.94" fill="#ffb700"/><polygon points="542.64,411.03 551.97,409.67 549.28,405.24 540.01,406.59" fill="#ffaf00"/><polygon points="551.97,409.67 561.26,408.31 558.5,403.89 549.28,405.24" fill="#ffa800"/><polygon points="561.26,408.31 570.51,406.95 567.68,402.53 558.5,403.89" fill="#ffa100"/><polygon points="570.51,406.95 579.71,405.58 576.82,401.18 567.68,402.53" fill="#ff9900"/><polygon points="579.71,405.58 588.88,404.22 585.91,399.82 576.82,401.18" fill="#ff9200"/><polygon points="588.88,404.22 598,402.85 594.97,398.46 585.91,399.82" fill="#ff8a00"/><polygon points="598,402.85 607.08,401.49 603.99,397.1 594.97,398.46" fill="#ff8200"/><polygon points="607.08,401.49 616.12,400.12 612.96,395.74 603.99,397.1" fill="#ff7a00"/><polygon points="616.12,400.12 625.12,398.75 621.9,394.38 612.96,395.74" fill="#ff7300"/><polygon points="438.88,430.65 448.79,429.3 446.86,424.54 437.03,425.89" fill="#ebff00"/><polygon points="448.79,429.3 458.65,427.95 456.65,423.2 446.86,424.54" fill="#f2ff00"/><polygon points="458.65,427.95 468.46,426.59 466.38,421.85 456.65,423.2" fill="#f8ff00"/><polygon points="468.46,426.59 478.23,425.24 476.07,420.5 466.38,421.85" fill="#ffff00"/><polygon points="478.23,425.24 487.94,423.88 485.71,419.15 476.07,420.5" fill="#fff800"/><polygon points="487.94,423.88 497.62,422.53 495.31,417.8 485.71,419.15" fill="#fff100"/><polygon points="497.62,422.53 507.24,421.17 504.87,416.45 495.31,417.8" fill="#ffea00"/><polygon points="507.24,421.17 516.83,419.81 514.37,415.1 504.87,416.45" fill="#ffe400"/><polygon points="516.83,419.81 526.36,418.44 523.84,413.74 514.37,415.1" fill="#ffdc00"/><polygon points="526.36,418.44 535.85,417.08 533.26,412.38 523.84,413.74" fill="#ffd500"/><polygon points="535.85,417.08 545.3,415.72 542.64,411.03 533.26,412.38" fill="#ffce00"/><polygon points="545.3,415.72 554.71,414.35 551.97,409.67 542.64,411.03" fill="#ffc700"/><polygon points="554.71,414.35 564.07,412.99 561.26,408.31 551.97,409.67" fill="#ffc000"/><polygon points="564.07,412.99 573.38,411.62 570.51,406.95 561.26,408.31" fill="#ffb800"/><polygon points="573.38,411.62 582.66,410.25 579.71,405.58 570.51,406.95" fill="#ffb100"/><polygon points="582.66,410.25 591.89,408.88 588.88,404.22 579.71,405.58" fill="#ffaa00"/><polygon points="591.89,408.88 601.08,407.51 598,402.85 588.88,404.22" fill="#ffa200"/><polygon points="601.08,407.51 610.22,406.14 607.08,401.49 598,402.85" fill="#ff9a00"/><polygon points="610.22,406.14 619.33,404.76 616.12,400.12 607.08,401.49" fill="#ff9300"/><polygon points="619.33,404.76 628.39,403.39 625.12,398.75 616.12,400.12" fill="#ff8b00"/><polygon points="440.76,435.68 450.75,434.32 448.79,429.3 438.88,430.65" fill="#d3ff00"/><polygon points="450.75,434.32 460.69,432.96 458.65,427.95 448.79,429.3" fill="#daff00"/><polygon points="460.69,432.96 470.58,431.6 468.46,426.59 458.65,427.95" fill="#e0ff00"/><polygon points="470.58,431.6 480.42,430.24 478.23,425.24 468.46,426.59" fill="#e7ff00"/><polygon points="480.42,430.24 490.21,428.87 487.94,423.88 478.23,425.24" fill="#eeff00"/><polygon points="490.21,428.87 499.96,427.51 497.62,422.53 487.94,423.88" fill="#f4ff00"/><polygon points="499.96,427.51 509.66,426.15 507.24,421.17 497.62,422.53" fill="#fbff00"/><polygon points="509.66,426.15 519.32,424.78 516.83,419.81 507.24,421.17" fill="#fffc00"/><polygon points="519.32,424.78 528.93,423.41 526.36,418.44 516.83,419.81" fill="#fff500"/><polygon points="528.93,423.41 538.49,422.04 535.85,417.08 526.36,418.44" fill="#ffee00"/><polygon points="538.49,422.04 548.01,420.67 545.3,415.72 535.85,417.08" fill="#ffe700"/><polygon points="548.01,420.67 557.49,419.3 554.71,414.35 545.3,415.72" fill="#ffe000"/><polygon points="557.49,419.3 566.92,417.93 564.07,412.99 554.71,414.35" fill="#ffd900"/><polygon points="566.92,417.93 576.3,416.56 573.38,411.62 564.07,412.99" fill="#ffd200"/><polygon points="576.3,416.56 585.64,415.18 582.66,410.25 573.38,411.62" fill="#ffcb00"/><polygon points="585.64,415.18 594.94,413.81 591.89,408.88 582.66,410.25" fill="#ffc300"/><polygon points="594.94,413.81 604.2,412.43 601.08,407.51 591.89,408.88" fill="#ffbc00"/><polygon points="604.2,412.43 613.41,411.05 610.22,406.14 601.08,407.51" fill="#ffb400"/><polygon points="613.41,411.05 622.58,409.67 619.33,404.76 610.22,406.14" fill="#ffad00"/><polygon points="622.58,409.67 631.71,408.29 628.39,403.39 619.33,404.76" fill="#ffa500"/><polygon points="442.68,440.96 452.74,439.6 450.75,434.32 440.76,435.68" fill="#baff00"/><polygon points="452.74,439.6 462.76,438.24 460.69,432.96 450.75,434.32" fill="#c1ff00"/><polygon points="462.76,438.24 472.73,436.87 470.58,431.6 460.69,432.96" fill="#c7ff00"/><polygon points="472.73,436.87 482.65,435.5 480.42,430.24 470.58,431.6" fill="#cdff00"/><polygon points="482.65,435.5 492.52,434.13 490.21,428.87 480.42,430.24" fill="#d4ff00"/><polygon points="492.52,434.13 502.35,432.76 499.96,427.51 490.21,428.87" fill="#dbff00"/><polygon points="502.35,432.76 512.13,431.39 509.66,426.15 499.96,427.51" fill="#e1ff00"/><polygon points="512.13,431.39 521.86,430.02 519.32,424.78 509.66,426.15" fill="#e8ff00"/><polygon points="521.86,430.02 531.54,428.65 528.93,423.41 519.32,424.78" fill="#efff00"/><polygon points="531.54,428.65 541.18,427.27 538.49,422.04 528.93,423.41" fill="#f5ff00"/><polygon points="541.18,427.27 550.77,425.9 548.01,420.67 538.49,422.04" fill="#fcff00"/><polygon points="550.77,425.9 560.31,424.52 557.49,419.3 548.01,420.67" fill="#fffb00"/><polygon points="560.31,424.52 569.81,423.14 566.92,417.93 557.49,419.3" fill="#fff400"/><polygon points="569.81,423.14 579.27,421.76 576.3,416.56 566.92,417.93" fill="#ffed00"/><polygon points="579.27,421.76 588.68,420.38 585.64,415.18 576.3,416.56" fill="#ffe600"/><polygon points="588.68,420.38 598.05,419 594.94,413.81 585.64,415.18" fill="#ffde00"/><polygon points="598.05,419 607.37,417.62 604.2,412.43 594.94,413.81" fill="#ffd700"/><polygon points="607.37,417.62 616.65,416.24 613.41,411.05 604.2,412.43" fill="#ffd000"/><polygon points="616.65,416.24 625.89,414.85 622.58,409.67 613.41,411.05" fill="#ffc800"/><polygon points="625.89,414.85 635.08,413.47 631.71,408.29 622.58,409.67" fill="#ffc100"/><polygon points="444.63,446.52 454.78,445.15 452.74,439.6 442.68,440.96" fill="#a0ff00"/><polygon points="454.78,445.15 464.88,443.78 462.76,438.24 452.74,439.6" fill="#a6ff00"/><polygon points="464.88,443.78 474.92,442.41 472.73,436.87 462.76,438.24" fill="#acff00"/><polygon points="474.92,442.41 484.92,441.04 482.65,435.5 472.73,436.87" fill="#b3ff00"/><polygon points="484.92,441.04 494.87,439.67 492.52,434.13 482.65,435.5" fill="#b9ff00"/><polygon points="494.87,439.67 504.78,438.29 502.35,432.76 492.52,434.13" fill="#bfff00"/><polygon points="504.78,438.29 514.63,436.91 512.13,431.39 502.35,432.76" fill="#c6ff00"/><polygon points="514.63,436.91 524.43,435.54 521.86,430.02 512.13,431.39" fill="#ccff00"/><polygon points="524.43,435.54 534.19,434.16 531.54,428.65 521.86,430.02" fill="#d3ff00"/><polygon points="534.19,434.16 543.9,432.78 541.18,427.27 531.54,428.65" fill="#daff00"/><polygon points="543.9,432.78 553.57,431.4 550.77,425.9 541.18,427.27" fill="#e0ff00"/><polygon points="553.57,431.4 563.18,430.02 560.31,424.52 550.77,425.9" fill="#e7ff00"/><polygon points="563.18,430.02 572.76,428.63 569.81,423.14 560.31,424.52" fill="#eeff00"/><polygon points="572.76,428.63 582.28,427.25 579.27,421.76 569.81,423.14" fill="#f5ff00"/><polygon points="582.28,427.25 591.76,425.87 588.68,420.38 579.27,421.76" fill="#fcff00"/><polygon points="591.76,425.87 601.2,424.48 598.05,419 588.68,420.38" fill="#fffb00"/><polygon points="601.2,424.48 610.59,423.09 607.37,417.62 598.05,419" fill="#fff400"/><polygon points="610.59,423.09 619.94,421.7 616.65,416.24 607.37,417.62" fill="#ffed00"/><polygon points="619.94,421.7 629.24,420.31 625.89,414.85 616.65,416.24" fill="#ffe600"/><polygon points="629.24,420.31 638.5,418.92 635.08,413.47 625.89,414.85" fill="#ffde00"/><polygon points="446.62,452.36 456.85,450.99 454.78,445.15 444.63,446.52" fill="#84ff00"/><polygon points="456.85,450.99 467.03,449.61 464.88,443.78 454.78,445.15" fill="#8aff00"/><polygon points="467.03,449.61 477.16,448.23 474.92,442.41 464.88,443.78" fill="#90ff00"/><polygon points="477.16,448.23 487.24,446.86 484.92,441.04 474.92,442.41" fill="#96ff00"/><polygon points="487.24,446.86 497.27,445.48 494.87,439.67 484.92,441.04" fill="#9cff00"/><polygon points="497.27,445.48 507.25,444.1 504.78,438.29 494.87,439.67" fill="#a3ff00"/><polygon points="507.25,444.1 517.18,442.72 514.63,436.91 504.78,438.29" fill="#a9ff00"/><polygon points="517.18,442.72 527.06,441.33 524.43,435.54 514.63,436.91" fill="#afff00"/><polygon points="527.06,441.33 536.89,439.95 534.19,434.16 524.43,435.54" fill="#b6ff00"/><polygon points="536.89,439.95 546.68,438.57 543.9,432.78 534.19,434.16" fill="#bcff00"/><polygon points="546.68,438.57 556.41,437.18 553.57,431.4 543.9,432.78" fill="#c3ff00"/><polygon points="556.41,437.18 566.1,435.8 563.18,430.02 553.57,431.4" fill="#caff00"/><polygon points="566.1,435.8 575.75,434.41 572.76,428.63 563.18,430.02" fill="#d0ff00"/><polygon points="575.75,434.41 585.34,433.02 582.28,427.25 572.76,428.63" fill="#d7ff00"/><polygon points="585.34,433.02 594.89,431.63 591.76,425.87 582.28,427.25" fill="#deff00"/><polygon points="594.89,431.63 604.4,430.24 601.2,424.48 591.76,425.87" fill="#e5ff00"/><polygon points="604.4,430.24 613.86,428.85 610.59,423.09 601.2,424.48" fill="#ecff00"/><polygon points="613.86,428.85 623.28,427.45 619.94,421.7 610.59,423.09" fill="#f3ff00"/><polygon points="623.28,427.45 632.65,426.06 629.24,420.31 619.94,421.7" fill="#faff00"/><polygon points="632.65,426.06 641.97,424.67 638.5,418.92 629.24,420.31" fill="#fffd00"/><polygon points="448.65,458.48 458.96,457.1 456.85,450.99 446.62,452.36" fill="#67ff00"/><polygon points="458.96,457.1 469.22,455.72 467.03,449.61 456.85,450.99" fill="#6dff00"/><polygon points="469.22,455.72 479.44,454.34 477.16,448.23 467.03,449.61" fill="#72ff00"/><polygon points="479.44,454.34 489.59,452.96 487.24,446.86 477.16,448.23" fill="#78ff00"/><polygon points="489.59,452.96 499.7,451.58 497.27,445.48 487.24,446.86" fill="#7eff00"/><polygon points="499.7,451.58 509.76,450.19 507.25,444.1 497.27,445.48" fill="#85ff00"/><polygon points="509.76,450.19 519.77,448.81 517.18,442.72 507.25,444.1" fill="#8bff00"/><polygon points="519.77,448.81 529.73,447.42 527.06,441.33 517.18,442.72" fill="#91ff00"/><polygon points="529.73,447.42 539.63,446.03 536.89,439.95 527.06,441.33" fill="#97ff00"/><polygon points="539.63,446.03 549.49,444.64 546.68,438.57 536.89,439.95" fill="#9eff00"/><polygon points="549.49,444.64 559.31,443.25 556.41,437.18 546.68,438.57" fill="#a4ff00"/><polygon points="559.31,443.25 569.07,441.86 566.1,435.8 556.41,437.18" fill="#aaff00"/><polygon points="569.07,441.86 578.79,440.47 575.75,434.41 566.1,435.8" fill="#b1ff00"/><polygon points="578.79,440.47 588.45,439.08 585.34,433.02 575.75,434.41" fill="#b8ff00"/><polygon points="588.45,439.08 598.08,437.69 594.89,431.63 585.34,433.02" fill="#beff00"/><polygon points="598.08,437.69 607.65,436.29 604.4,430.24 594.89,431.63" fill="#c5ff00"/><polygon points="607.65,436.29 617.18,434.89 613.86,428.85 604.4,430.24" fill="#ccff00"/><polygon points="617.18,434.89 626.66,433.5 623.28,427.45 613.86,428.85" fill="#d3ff00"/><polygon points="626.66,433.5 636.1,432.1 632.65,426.06 623.28,427.45" fill="#d9ff00"/><polygon points="636.1,432.1 645.5,430.7 641.97,424.67 632.65,426.06" fill="#e0ff00"/><polygon points="450.72,464.89 461.11,463.51 458.96,457.1 448.65,458.48" fill="#48ff00"/><polygon points="461.11,463.51 471.46,462.13 469.22,455.72 458.96,457.1" fill="#4eff00"/><polygon points="471.46,462.13 481.75,460.74 479.44,454.34 469.22,455.72" fill="#53ff00"/><polygon points="481.75,460.74 491.99,459.35 489.59,452.96 479.44,454.34" fill="#59ff00"/><polygon points="491.99,459.35 502.18,457.97 499.7,451.58 489.59,452.96" fill="#5fff00"/><polygon points="502.18,457.97 512.32,456.58 509.76,450.19 499.7,451.58" fill="#65ff00"/><polygon points="512.32,456.58 522.4,455.19 519.77,448.81 509.76,450.19" fill="#6bff00"/><polygon points="522.4,455.19 532.44,453.8 529.73,447.42 519.77,448.81" fill="#71ff00"/><polygon points="532.44,453.8 542.42,452.41 539.63,446.03 529.73,447.42" fill="#77ff00"/><polygon points="542.42,452.41 552.36,451.02 549.49,444.64 539.63,446.03" fill="#7dff00"/><polygon points="552.36,451.02 562.25,449.62 559.31,443.25 549.49,444.64" fill="#84ff00"/><polygon points="562.25,449.62 572.08,448.23 569.07,441.86 559.31,443.25" fill="#8aff00"/><polygon points="572.08,448.23 581.87,446.83 578.79,440.47 569.07,441.86" fill="#90ff00"/><polygon points="581.87,446.83 591.61,445.44 588.45,439.08 578.79,440.47" fill="#97ff00"/><polygon points="591.61,445.44 601.31,444.04 598.08,437.69 588.45,439.08" fill="#9dff00"/><polygon points="601.31,444.04 610.95,442.64 607.65,436.29 598.08,437.69" fill="#a4ff00"/><polygon points="610.95,442.64 620.55,441.24 617.18,434.89 607.65,436.29" fill="#aaff00"/><polygon points="620.55,441.24 630.1,439.84 626.66,433.5 617.18,434.89" fill="#b1ff00"/><polygon points="630.1,439.84 639.61,438.44 636.1,432.1 626.66,433.5" fill="#b8ff00"/><polygon points="639.61,438.44 649.07,437.04 645.5,430.7 636.1,432.1" fill="#beff00"/><polygon points="452.82,471.6 463.31,470.22 461.11,463.51 450.72,464.89" fill="#28ff00"/><polygon points="463.31,470.22 473.74,468.83 471.46,462.13 461.11,463.51" fill="#2eff00"/><polygon points="473.74,468.83 484.11,467.44 481.75,460.74 471.46,462.13" fill="#33ff00"/><polygon points="484.11,467.44 494.43,466.05 491.99,459.35 481.75,460.74" fill="#39ff00"/><polygon points="494.43,466.05 504.7,464.66 502.18,457.97 491.99,459.35" fill="#3eff00"/><polygon points="504.7,464.66 514.92,463.27 512.32,456.58 502.18,457.97" fill="#44ff00"/><polygon points="514.92,463.27 525.09,461.87 522.4,455.19 512.32,456.58" fill="#4aff00"/><polygon points="525.09,461.87 535.2,460.48 532.44,453.8 522.4,455.19" fill="#50ff00"/><polygon points="535.2,460.48 545.26,459.08 542.42,452.41 532.44,453.8" fill="#56ff00"/><polygon points="545.26,459.08 555.27,457.69 552.36,451.02 542.42,452.41" fill="#5cff00"/><polygon points="555.27,457.69 565.24,456.29 562.25,449.62 552.36,451.02" fill="#62ff00"/><polygon points="565.24,456.29 575.15,454.89 572.08,448.23 562.25,449.62" fill="#68ff00"/><polygon points="575.15,454.89 585.01,453.5 581.87,446.83 572.08,448.23" fill="#6eff00"/><polygon points="585.01,453.5 594.82,452.1 591.61,445.44 581.87,446.83" fill="#74ff00"/><polygon points="594.82,452.1 604.59,450.69 601.31,444.04 591.61,445.44" fill="#7aff00"/><polygon points="604.59,450.69 614.31,449.29 610.95,442.64 601.31,444.04" fill="#81ff00"/><polygon points="614.31,449.29 623.98,447.89 620.55,441.24 610.95,442.64" fill="#87ff00"/><polygon points="623.98,447.89 633.6,446.49 630.1,439.84 620.55,441.24" fill="#8eff00"/><polygon points="633.6,446.49 643.17,445.08 639.61,438.44 630.1,439.84" fill="#94ff00"/><polygon points="643.17,445.08 652.7,443.68 649.07,437.04 639.61,438.44" fill="#9bff00"/><polygon points="454.97,478.62 465.54,477.23 463.31,470.22 452.82,471.6" fill="#07ff00"/><polygon points="465.54,477.23 476.06,475.84 473.74,468.83 463.31,470.22" fill="#0cff00"/><polygon points="476.06,475.84 486.51,474.44 484.11,467.44 473.74,468.83" fill="#11ff00"/><polygon points="486.51,474.44 496.92,473.05 494.43,466.05 484.11,467.44" fill="#17ff00"/><polygon points="496.92,473.05 507.27,471.66 504.7,464.66 494.43,466.05" fill="#1cff00"/><polygon points="507.27,471.66 517.57,470.26 514.92,463.27 504.7,464.66" fill="#22ff00"/><polygon points="517.57,470.26 527.81,468.86 525.09,461.87 514.92,463.27" fill="#27ff00"/><polygon points="527.81,468.86 538.01,467.47 535.2,460.48 525.09,461.87" fill="#2dff00"/><polygon points="538.01,467.47 548.15,466.07 545.26,459.08 535.2,460.48" fill="#33ff00"/><polygon points="548.15,466.07 558.24,464.67 555.27,457.69 545.26,459.08" fill="#38ff00"/><polygon points="558.24,464.67 568.27,463.27 565.24,456.29 555.27,457.69" fill="#3eff00"/><polygon points="568.27,463.27 578.26,461.87 575.15,454.89 565.24,456.29" fill="#44ff00"/><polygon points="578.26,461.87 588.2,460.47 585.01,453.5 575.15,454.89" fill="#4aff00"/><polygon points="588.2,460.47 598.08,459.06 594.82,452.1 585.01,453.5" fill="#50ff00"/><polygon points="598.08,459.06 607.92,457.66 604.59,450.69 594.82,452.1" fill="#56ff00"/><polygon points="607.92,457.66 617.71,456.26 614.31,449.29 604.59,450.69" fill="#5cff00"/><polygon points="617.71,456.26 627.45,454.85 623.98,447.89 614.31,449.29" fill="#63ff00"/><polygon points="627.45,454.85 637.14,453.44 633.6,446.49 623.98,447.89" fill="#69ff00"/><polygon points="637.14,453.44 646.79,452.04 643.17,445.08 633.6,446.49" fill="#6fff00"/><polygon points="646.79,452.04 656.38,450.63 652.7,443.68 643.17,445.08" fill="#76ff00"/><polygon points="457.16,485.95 467.82,484.55 465.54,477.23 454.97,478.62" fill="#00ff1c"/><polygon points="467.82,484.55 478.42,483.16 476.06,475.84 465.54,477.23" fill="#00ff17"/><polygon points="478.42,483.16 488.96,481.76 486.51,474.44 476.06,475.84" fill="#00ff12"/><polygon points="488.96,481.76 499.45,480.37 496.92,473.05 486.51,474.44" fill="#00ff0d"/><polygon points="499.45,480.37 509.88,478.97 507.27,471.66 496.92,473.05" fill="#00ff08"/><polygon points="509.88,478.97 520.26,477.57 517.57,470.26 507.27,471.66" fill="#00ff02"/><polygon points="520.26,477.57 530.59,476.17 527.81,468.86 517.57,470.26" fill="#03ff00"/><polygon points="530.59,476.17 540.86,474.77 538.01,467.47 527.81,468.86" fill="#09ff00"/><polygon points="540.86,474.77 551.08,473.37 548.15,466.07 538.01,467.47" fill="#0eff00"/><polygon points="551.08,473.37 561.25,471.97 558.24,464.67 548.15,466.07" fill="#14ff00"/><polygon points="561.25,471.97 571.36,470.57 568.27,463.27 558.24,464.67" fill="#19ff00"/><polygon points="571.36,470.57 581.43,469.16 578.26,461.87 568.27,463.27" fill="#1fff00"/><polygon points="581.43,469.16 591.44,467.76 588.2,460.47 578.26,461.87" fill="#25ff00"/><polygon points="591.44,467.76 601.4,466.35 598.08,459.06 588.2,460.47" fill="#2bff00"/><polygon points="601.4,466.35 611.31,464.95 607.92,457.66 598.08,459.06" fill="#30ff00"/><polygon points="611.31,464.95 621.17,463.54 617.71,456.26 607.92,457.66" fill="#36ff00"/><polygon points="621.17,463.54 630.98,462.13 627.45,454.85 617.71,456.26" fill="#3cff00"/><polygon points="630.98,462.13 640.74,460.72 637.14,453.44 627.45,454.85" fill="#42ff00"/><polygon points="640.74,460.72 650.46,459.31 646.79,452.04 637.14,453.44" fill="#49ff00"/><polygon points="650.46,459.31 660.12,457.9 656.38,450.63 646.79,452.04" fill="#4fff00"/><polygon points="459.39,493.59 470.14,492.2 467.82,484.55 457.16,485.95" fill="#00ff41"/><polygon points="470.14,492.2 480.82,490.8 478.42,483.16 467.82,484.55" fill="#00ff3c"/><polygon points="480.82,490.8 491.45,489.4 488.96,481.76 478.42,483.16" fill="#00ff37"/><polygon points="491.45,489.4 502.03,488 499.45,480.37 488.96,481.76" fill="#00ff32"/><polygon points="502.03,488 512.54,486.6 509.88,478.97 499.45,480.37" fill="#00ff2d"/><polygon points="512.54,486.6 523.01,485.2 520.26,477.57 509.88,478.97" fill="#00ff28"/><polygon points="523.01,485.2 533.41,483.8 530.59,476.17 520.26,477.57" fill="#00ff22"/><polygon points="533.41,483.8 543.77,482.4 540.86,474.77 530.59,476.17" fill="#00ff1d"/><polygon points="543.77,482.4 554.06,480.99 551.08,473.37 540.86,474.77" fill="#00ff18"/><polygon points="554.06,480.99 564.31,479.59 561.25,471.97 551.08,473.37" fill="#00ff13"/><polygon points="564.31,479.59 574.5,478.18 571.36,470.57 561.25,471.97" fill="#00ff0d"/><polygon points="574.5,478.18 584.64,476.78 581.43,469.16 571.36,470.57" fill="#00ff08"/><polygon points="584.64,476.78 594.73,475.37 591.44,467.76 581.43,469.16" fill="#00ff02"/><polygon points="594.73,475.37 604.76,473.96 601.4,466.35 591.44,467.76" fill="#04ff00"/><polygon points="604.76,473.96 614.75,472.55 611.31,464.95 601.4,466.35" fill="#09ff00"/><polygon points="614.75,472.55 624.68,471.14 621.17,463.54 611.31,464.95" fill="#0fff00"/><polygon points="624.68,471.14 634.57,469.73 630.98,462.13 621.17,463.54" fill="#15ff00"/><polygon points="634.57,469.73 644.4,468.32 640.74,460.72 630.98,462.13" fill="#1bff00"/><polygon points="644.4,468.32 654.18,466.91 650.46,459.31 640.74,460.72" fill="#20ff00"/><polygon points="654.18,466.91 663.92,465.5 660.12,457.9 650.46,459.31" fill="#26ff00"/><polygon points="461.67,501.57 472.5,500.17 470.14,492.2 459.39,493.59" fill="#00ff66"/><polygon points="472.5,500.17 483.28,498.77 480.82,490.8 470.14,492.2" fill="#00ff62"/><polygon points="483.28,498.77 493.99,497.37 491.45,489.4 480.82,490.8" fill="#00ff5d"/><polygon points="493.99,497.37 504.65,495.97 502.03,488 491.45,489.4" fill="#00ff58"/><polygon points="504.65,495.97 515.25,494.56 512.54,486.6 502.03,488" fill="#00ff53"/><polygon points="515.25,494.56 525.8,493.16 523.01,485.2 512.54,486.6" fill="#00ff4e"/><polygon points="525.8,493.16 536.29,491.76 533.41,483.8 523.01,485.2" fill="#00ff49"/><polygon points="536.29,491.76 546.72,490.35 543.77,482.4 533.41,483.8" fill="#00ff44"/><polygon points="546.72,490.35 557.1,488.95 554.06,480.99 543.77,482.4" fill="#00ff3f"/><polygon points="557.1,488.95 567.42,487.54 564.31,479.59 554.06,480.99" fill="#00ff3a"/><polygon points="567.42,487.54 577.69,486.13 574.5,478.18 564.31,479.59" fill="#00ff35"/><polygon points="577.69,486.13 587.91,484.72 584.64,476.78 574.5,478.18" fill="#00ff30"/><polygon points="587.91,484.72 598.07,483.32 594.73,475.37 584.64,476.78" fill="#00ff2a"/><polygon points="598.07,483.32 608.18,481.91 604.76,473.96 594.73,475.37" fill="#00ff25"/><polygon points="608.18,481.91 618.24,480.5 614.75,472.55 604.76,473.96" fill="#00ff20"/><polygon points="618.24,480.5 628.25,479.08 624.68,471.14 614.75,472.55" fill="#00ff1a"/><polygon points="628.25,479.08 638.2,477.67 634.57,469.73 624.68,471.14" fill="#00ff15"/><polygon points="638.2,477.67 648.11,476.26 644.4,468.32 634.57,469.73" fill="#00ff0f"/><polygon points="648.11,476.26 657.96,474.84 654.18,466.91 644.4,468.32" fill="#00ff09"/><polygon points="657.96,474.84 667.77,473.43 663.92,465.5 654.18,466.91" fill="#00ff03"/></g>
<circle cx="463.4" cy="600.1" r="1.25" fill="#000"/>
<circle cx="503.62" cy="596.16" r="1.25" fill="#000"/>
<circle cx="543.84" cy="592.22" r="1.25" fill="#000"/>
<circle cx="584.06" cy="588.28" r="1.25" fill="#000"/>
<circle cx="624.28" cy="584.34" r="1.25" fill="#000"/>
<circle cx="664.5" cy="580.4" r="1.25" fill="#000"/>
<circle cx="463.4" cy="600.1" r="1.25" fill="#000"/>
<circle cx="456.16" cy="587.76" r="1.25" fill="#000"/>
<circle cx="448.92" cy="575.42" r="1.25" fill="#000"/>
<circle cx="441.68" cy="563.08" r="1.25" fill="#000"/>
<circle cx="434.44" cy="550.74" r="1.25" fill="#000"/>
<circle cx="427.2" cy="538.4" r="1.25" fill="#000"/>
<circle cx="426.08" cy="494.5" r="1.25" fill="#000"/>
<circle cx="425.5" cy="471.76" r="1.25" fill="#000"/>
<circle cx="424.92" cy="449.03" r="1.25" fill="#000"/>
<circle cx="424.34" cy="426.3" r="1.25" fill="#000"/>
<circle cx="423.76" cy="403.57" r="1.25" fill="#000"/>
<circle cx="423.18" cy="380.83" r="1.25" fill="#000"/>
<circle cx="422.6" cy="358.1" r="1.25" fill="#000"/>
<g font-size="11" fill="#222"><text x="405.78" y="491.66" text-anchor="middle">0.000</text><text x="405.2" y="468.92" text-anchor="middle">0.200</text><text x="404.62" y="446.19" text-anchor="middle">0.400</text><text x="404.04" y="423.46" text-anchor="middle">0.600</text><text x="403.46" y="400.73" text-anchor="middle">0.800</text><text x="402.88" y="377.99" text-anchor="middle">1.000</text><text x="402.3" y="355.26" text-anchor="middle">1.200</text><text x="476.8" y="613.26" text-anchor="middle">10</text><text x="517.02" y="609.32" text-anchor="middle">16</text><text x="557.24" y="605.38" text-anchor="middle">22</text><text x="597.46" y="601.44" text-anchor="middle">28</text><text x="637.68" y="597.5" text-anchor="middle">34</text><text x="677.9" y="593.56" text-anchor="middle">40</text><text x="450.4" y="613.16" text-anchor="middle">50</text><text x="443.16" y="600.82" text-anchor="middle">70</text><text x="435.92" y="588.48" text-anchor="middle">90</text><text x="425.98" y="576.14" text-anchor="middle">110</text><text x="418.74" y="563.8" text-anchor="middle">130</text><text x="411.5" y="551.46" text-anchor="middle">150</text></g>
<text x="381" y="449.6" font-size="9.2" fill="#222" text-anchor="middle" transform="rotate(-90 381 449.6)">Desirability</text>
<text x="336.6" y="582.3" font-size="9.2" fill="#222" text-anchor="start">C: Adsorbent dose (mg)</text>
<text x="586.4" y="623.7" font-size="9.2" fill="#222" text-anchor="middle">B: Contact time (min)</text>
<path d="M600.4 340.3L600.4 374" stroke="#333" stroke-width="0.6" fill="none"/><rect x="583.4" y="329.8" width="17.0" height="10.5" fill="#fff" stroke="#555" stroke-width="0.6"/><text x="591.9" y="336.85" font-size="5.6" fill="#333" text-anchor="middle">1.000</text>
</svg></body></html>
